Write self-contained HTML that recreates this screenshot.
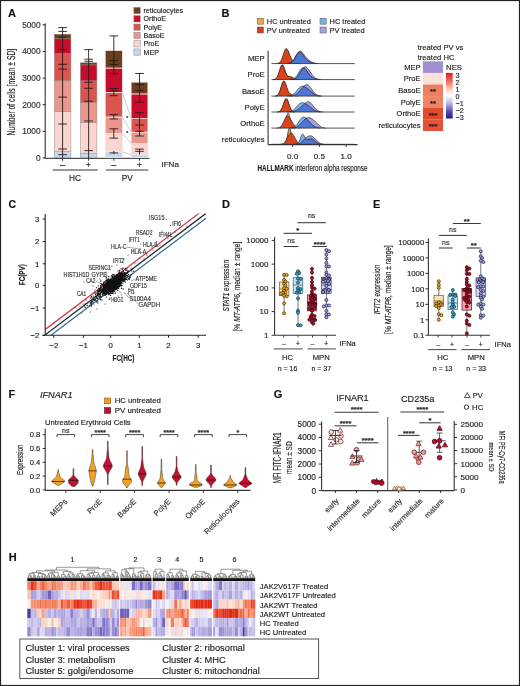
<!DOCTYPE html>
<html><head><meta charset="utf-8"><style>
html,body{margin:0;padding:0;background:#fff;}
body{width:520px;height:686px;overflow:hidden;}
svg{display:block;font-family:"Liberation Sans", sans-serif;}
text{stroke:currentColor;stroke-width:0.14px;paint-order:stroke;}
</style></head><body>
<svg width="520" height="686" viewBox="0 0 520 686">
<rect x="0" y="0" width="520" height="686" fill="#fff"/>
<text x="8.00" y="16.76" font-size="11" fill="#111" font-weight="bold" >A</text>
<line x1="45.20" y1="23.30" x2="45.20" y2="158.30" stroke="#222" stroke-width="1" />
<line x1="42.70" y1="158.00" x2="45.20" y2="158.00" stroke="#222" stroke-width="1" />
<text x="40.60" y="160.99" font-size="8.3" fill="#333" text-anchor="end" >0</text>
<line x1="42.70" y1="131.36" x2="45.20" y2="131.36" stroke="#222" stroke-width="1" />
<text x="40.60" y="134.35" font-size="8.3" fill="#333" text-anchor="end" >1000</text>
<line x1="42.70" y1="104.72" x2="45.20" y2="104.72" stroke="#222" stroke-width="1" />
<text x="40.60" y="107.71" font-size="8.3" fill="#333" text-anchor="end" >2000</text>
<line x1="42.70" y1="78.08" x2="45.20" y2="78.08" stroke="#222" stroke-width="1" />
<text x="40.60" y="81.07" font-size="8.3" fill="#333" text-anchor="end" >3000</text>
<line x1="42.70" y1="51.44" x2="45.20" y2="51.44" stroke="#222" stroke-width="1" />
<text x="40.60" y="54.43" font-size="8.3" fill="#333" text-anchor="end" >4000</text>
<line x1="42.70" y1="24.80" x2="45.20" y2="24.80" stroke="#222" stroke-width="1" />
<text x="40.60" y="27.79" font-size="8.3" fill="#333" text-anchor="end" >5000</text>
<text x="11.65" y="95.75" font-size="10" fill="#222" text-anchor="middle" textLength="86.7" lengthAdjust="spacingAndGlyphs" transform="rotate(-90 11.65 92.15)" >Number of cells [mean ± SD]</text>
<line x1="45.20" y1="158.30" x2="149.50" y2="158.30" stroke="#222" stroke-width="1" />
<rect x="54.30" y="151.60" width="16.60" height="6.00" fill="#c2d8ee" stroke="#9a8a88" stroke-width="0.5" />
<rect x="54.30" y="111.40" width="16.60" height="40.20" fill="#f8d6cf" stroke="#9a8a88" stroke-width="0.5" />
<rect x="54.30" y="80.60" width="16.60" height="30.80" fill="#e9968c" stroke="#9a8a88" stroke-width="0.5" />
<rect x="54.30" y="53.60" width="16.60" height="27.00" fill="#db5550" stroke="#9a8a88" stroke-width="0.5" />
<rect x="54.30" y="38.80" width="16.60" height="14.80" fill="#c90c2c" stroke="#9a8a88" stroke-width="0.5" />
<rect x="54.30" y="34.20" width="16.60" height="4.60" fill="#6b3f1c" stroke="#9a8a88" stroke-width="0.5" />
<line x1="62.60" y1="27.60" x2="62.60" y2="158.00" stroke="#2a1a1a" stroke-width="0.9" />
<line x1="58.30" y1="27.60" x2="66.90" y2="27.60" stroke="#2a1a1a" stroke-width="0.9" />
<line x1="58.30" y1="31.40" x2="66.90" y2="31.40" stroke="#2a1a1a" stroke-width="0.9" />
<line x1="58.30" y1="37.30" x2="66.90" y2="37.30" stroke="#2a1a1a" stroke-width="0.9" />
<line x1="58.30" y1="49.60" x2="66.90" y2="49.60" stroke="#2a1a1a" stroke-width="0.9" />
<line x1="58.30" y1="64.30" x2="66.90" y2="64.30" stroke="#2a1a1a" stroke-width="0.9" />
<line x1="58.30" y1="69.10" x2="66.90" y2="69.10" stroke="#2a1a1a" stroke-width="0.9" />
<line x1="58.30" y1="97.10" x2="66.90" y2="97.10" stroke="#2a1a1a" stroke-width="0.9" />
<line x1="58.30" y1="124.00" x2="66.90" y2="124.00" stroke="#2a1a1a" stroke-width="0.9" />
<line x1="58.30" y1="149.00" x2="66.90" y2="149.00" stroke="#2a1a1a" stroke-width="0.9" />
<line x1="58.30" y1="154.70" x2="66.90" y2="154.70" stroke="#2a1a1a" stroke-width="0.9" />
<line x1="62.60" y1="158.30" x2="62.60" y2="160.80" stroke="#222" stroke-width="0.9" />
<rect x="80.40" y="153.70" width="16.50" height="3.90" fill="#c2d8ee" stroke="#9a8a88" stroke-width="0.5" />
<rect x="80.40" y="122.40" width="16.50" height="31.30" fill="#f8d6cf" stroke="#9a8a88" stroke-width="0.5" />
<rect x="80.40" y="102.70" width="16.50" height="19.70" fill="#e9968c" stroke="#9a8a88" stroke-width="0.5" />
<rect x="80.40" y="80.80" width="16.50" height="21.90" fill="#db5550" stroke="#9a8a88" stroke-width="0.5" />
<rect x="80.40" y="64.90" width="16.50" height="15.90" fill="#c90c2c" stroke="#9a8a88" stroke-width="0.5" />
<rect x="80.40" y="62.80" width="16.50" height="2.10" fill="#6b3f1c" stroke="#9a8a88" stroke-width="0.5" />
<line x1="88.65" y1="49.60" x2="88.65" y2="158.00" stroke="#2a1a1a" stroke-width="0.9" />
<line x1="84.35" y1="49.60" x2="92.95" y2="49.60" stroke="#2a1a1a" stroke-width="0.9" />
<line x1="84.35" y1="59.20" x2="92.95" y2="59.20" stroke="#2a1a1a" stroke-width="0.9" />
<line x1="84.35" y1="61.30" x2="92.95" y2="61.30" stroke="#2a1a1a" stroke-width="0.9" />
<line x1="84.35" y1="82.20" x2="92.95" y2="82.20" stroke="#2a1a1a" stroke-width="0.9" />
<line x1="84.35" y1="88.30" x2="92.95" y2="88.30" stroke="#2a1a1a" stroke-width="0.9" />
<line x1="84.35" y1="101.20" x2="92.95" y2="101.20" stroke="#2a1a1a" stroke-width="0.9" />
<line x1="84.35" y1="121.00" x2="92.95" y2="121.00" stroke="#2a1a1a" stroke-width="0.9" />
<line x1="84.35" y1="150.60" x2="92.95" y2="150.60" stroke="#2a1a1a" stroke-width="0.9" />
<line x1="88.65" y1="158.30" x2="88.65" y2="160.80" stroke="#222" stroke-width="0.9" />
<rect x="105.20" y="151.90" width="17.20" height="5.70" fill="#c2d8ee" stroke="#f4e8e8" stroke-width="0.8" />
<rect x="105.20" y="133.50" width="17.20" height="18.40" fill="#f8d6cf" stroke="#f4e8e8" stroke-width="0.8" />
<rect x="105.20" y="117.00" width="17.20" height="16.50" fill="#e9968c" stroke="#f4e8e8" stroke-width="0.8" />
<rect x="105.20" y="92.40" width="17.20" height="24.60" fill="#db5550" stroke="#f4e8e8" stroke-width="0.8" />
<rect x="105.20" y="68.00" width="17.20" height="24.40" fill="#c90c2c" stroke="#f4e8e8" stroke-width="0.8" />
<rect x="105.20" y="50.50" width="17.20" height="17.50" fill="#6b3f1c" stroke="#f4e8e8" stroke-width="0.8" />
<line x1="113.80" y1="35.90" x2="113.80" y2="64.60" stroke="#2a1a1a" stroke-width="0.9" />
<line x1="113.80" y1="60.60" x2="113.80" y2="73.70" stroke="#2a1a1a" stroke-width="0.9" />
<line x1="113.80" y1="88.50" x2="113.80" y2="95.70" stroke="#2a1a1a" stroke-width="0.9" />
<line x1="113.80" y1="114.60" x2="113.80" y2="119.00" stroke="#2a1a1a" stroke-width="0.9" />
<line x1="113.80" y1="128.80" x2="113.80" y2="138.10" stroke="#2a1a1a" stroke-width="0.9" />
<line x1="113.80" y1="151.00" x2="113.80" y2="154.00" stroke="#2a1a1a" stroke-width="0.9" />
<line x1="109.50" y1="35.90" x2="118.10" y2="35.90" stroke="#2a1a1a" stroke-width="0.9" />
<line x1="109.50" y1="60.60" x2="118.10" y2="60.60" stroke="#2a1a1a" stroke-width="0.9" />
<line x1="109.50" y1="64.60" x2="118.10" y2="64.60" stroke="#2a1a1a" stroke-width="0.9" />
<line x1="109.50" y1="73.70" x2="118.10" y2="73.70" stroke="#2a1a1a" stroke-width="0.9" />
<line x1="109.50" y1="88.50" x2="118.10" y2="88.50" stroke="#2a1a1a" stroke-width="0.9" />
<line x1="109.50" y1="91.20" x2="118.10" y2="91.20" stroke="#2a1a1a" stroke-width="0.9" />
<line x1="109.50" y1="95.70" x2="118.10" y2="95.70" stroke="#2a1a1a" stroke-width="0.9" />
<line x1="109.50" y1="114.60" x2="118.10" y2="114.60" stroke="#2a1a1a" stroke-width="0.9" />
<line x1="109.50" y1="119.00" x2="118.10" y2="119.00" stroke="#2a1a1a" stroke-width="0.9" />
<line x1="109.50" y1="128.80" x2="118.10" y2="128.80" stroke="#2a1a1a" stroke-width="0.9" />
<line x1="109.50" y1="138.10" x2="118.10" y2="138.10" stroke="#2a1a1a" stroke-width="0.9" />
<line x1="109.50" y1="152.90" x2="118.10" y2="152.90" stroke="#2a1a1a" stroke-width="0.9" />
<line x1="113.80" y1="158.30" x2="113.80" y2="160.80" stroke="#222" stroke-width="0.9" />
<rect x="131.10" y="154.50" width="16.80" height="3.10" fill="#c2d8ee" stroke="#f4e8e8" stroke-width="0.8" />
<rect x="131.10" y="143.60" width="16.80" height="10.90" fill="#f8d6cf" stroke="#f4e8e8" stroke-width="0.8" />
<rect x="131.10" y="132.10" width="16.80" height="11.50" fill="#e9968c" stroke="#f4e8e8" stroke-width="0.8" />
<rect x="131.10" y="118.60" width="16.80" height="13.50" fill="#db5550" stroke="#f4e8e8" stroke-width="0.8" />
<rect x="131.10" y="93.90" width="16.80" height="24.70" fill="#c90c2c" stroke="#f4e8e8" stroke-width="0.8" />
<rect x="131.10" y="82.10" width="16.80" height="11.80" fill="#6b3f1c" stroke="#f4e8e8" stroke-width="0.8" />
<line x1="139.50" y1="73.50" x2="139.50" y2="102.20" stroke="#2a1a1a" stroke-width="0.9" />
<line x1="139.50" y1="112.70" x2="139.50" y2="125.00" stroke="#2a1a1a" stroke-width="0.9" />
<line x1="139.50" y1="125.00" x2="139.50" y2="136.00" stroke="#2a1a1a" stroke-width="0.9" />
<line x1="139.50" y1="149.10" x2="139.50" y2="154.50" stroke="#2a1a1a" stroke-width="0.9" />
<line x1="135.20" y1="73.50" x2="143.80" y2="73.50" stroke="#2a1a1a" stroke-width="0.9" />
<line x1="135.20" y1="84.70" x2="143.80" y2="84.70" stroke="#2a1a1a" stroke-width="0.9" />
<line x1="135.20" y1="90.40" x2="143.80" y2="90.40" stroke="#2a1a1a" stroke-width="0.9" />
<line x1="135.20" y1="102.20" x2="143.80" y2="102.20" stroke="#2a1a1a" stroke-width="0.9" />
<line x1="135.20" y1="112.70" x2="143.80" y2="112.70" stroke="#2a1a1a" stroke-width="0.9" />
<line x1="135.20" y1="125.00" x2="143.80" y2="125.00" stroke="#2a1a1a" stroke-width="0.9" />
<line x1="135.20" y1="131.40" x2="143.80" y2="131.40" stroke="#2a1a1a" stroke-width="0.9" />
<line x1="135.20" y1="136.00" x2="143.80" y2="136.00" stroke="#2a1a1a" stroke-width="0.9" />
<line x1="135.20" y1="149.10" x2="143.80" y2="149.10" stroke="#2a1a1a" stroke-width="0.9" />
<line x1="135.20" y1="151.30" x2="143.80" y2="151.30" stroke="#2a1a1a" stroke-width="0.9" />
<line x1="139.50" y1="158.30" x2="139.50" y2="160.80" stroke="#222" stroke-width="0.9" />
<line x1="122.40" y1="151.90" x2="131.10" y2="154.50" stroke="#aaa" stroke-width="0.6" />
<line x1="122.40" y1="133.50" x2="131.10" y2="143.60" stroke="#aaa" stroke-width="0.6" />
<line x1="122.40" y1="117.00" x2="131.10" y2="132.10" stroke="#aaa" stroke-width="0.6" />
<line x1="122.40" y1="92.40" x2="131.10" y2="118.60" stroke="#aaa" stroke-width="0.6" />
<text x="127.20" y="119.66" font-size="6" fill="#222" text-anchor="middle" >*</text>
<text x="127.20" y="135.36" font-size="6" fill="#222" text-anchor="middle" >*</text>
<text x="62.45" y="167.57" font-size="8.8" fill="#222" text-anchor="middle" >–</text>
<text x="88.35" y="167.57" font-size="8.8" fill="#222" text-anchor="middle" >+</text>
<text x="113.80" y="167.57" font-size="8.8" fill="#222" text-anchor="middle" >–</text>
<text x="139.40" y="167.57" font-size="8.8" fill="#222" text-anchor="middle" >+</text>
<text x="161.50" y="167.38" font-size="8" fill="#222" >IFNa</text>
<line x1="52.50" y1="170.00" x2="97.70" y2="170.00" stroke="#777" stroke-width="1.4" />
<line x1="106.00" y1="170.00" x2="148.30" y2="170.00" stroke="#777" stroke-width="1.4" />
<text x="75.10" y="181.19" font-size="8.3" fill="#222" text-anchor="middle" >HC</text>
<text x="127.20" y="181.19" font-size="8.3" fill="#222" text-anchor="middle" >PV</text>
<rect x="133.90" y="7.40" width="6.30" height="6.30" fill="#6b3f1c" stroke="#888" stroke-width="0.5" />
<text x="143.50" y="13.16" font-size="7.1" fill="#222" >reticulocytes</text>
<rect x="133.90" y="15.70" width="6.30" height="6.30" fill="#c90c2c" stroke="#888" stroke-width="0.5" />
<text x="143.50" y="21.46" font-size="7.1" fill="#222" >OrthoE</text>
<rect x="133.90" y="24.00" width="6.30" height="6.30" fill="#db5550" stroke="#888" stroke-width="0.5" />
<text x="143.50" y="29.76" font-size="7.1" fill="#222" >PolyE</text>
<rect x="133.90" y="32.30" width="6.30" height="6.30" fill="#e9968c" stroke="#888" stroke-width="0.5" />
<text x="143.50" y="38.06" font-size="7.1" fill="#222" >BasoE</text>
<rect x="133.90" y="40.60" width="6.30" height="6.30" fill="#f8d6cf" stroke="#888" stroke-width="0.5" />
<text x="143.50" y="46.36" font-size="7.1" fill="#222" >ProE</text>
<rect x="133.90" y="48.90" width="6.30" height="6.30" fill="#c2d8ee" stroke="#888" stroke-width="0.5" />
<text x="143.50" y="54.66" font-size="7.1" fill="#222" >MEP</text>
<text x="221.50" y="17.26" font-size="11" fill="#111" font-weight="bold" >B</text>
<rect x="257.20" y="18.20" width="6.20" height="6.00" fill="#f4a348" stroke="#555" stroke-width="0.5" />
<text x="266.80" y="23.86" font-size="7.4" fill="#222" >HC untreated</text>
<rect x="257.20" y="27.00" width="6.20" height="6.00" fill="#d2401e" stroke="#555" stroke-width="0.5" />
<text x="266.80" y="32.66" font-size="7.4" fill="#222" >PV untreated</text>
<rect x="320.00" y="18.20" width="6.20" height="6.00" fill="#72b2ea" stroke="#555" stroke-width="0.5" />
<text x="329.60" y="23.86" font-size="7.4" fill="#222" >HC treated</text>
<rect x="320.00" y="27.00" width="6.20" height="6.00" fill="#a3a3e0" stroke="#555" stroke-width="0.5" />
<text x="329.60" y="32.66" font-size="7.4" fill="#222" >PV treated</text>
<path d="M278.00,63.60 L278.00,63.56 L278.50,63.52 L279.00,63.45 L279.50,63.34 L280.00,63.16 L280.50,62.88 L281.00,62.48 L281.50,61.91 L282.00,61.14 L282.50,60.16 L283.00,58.96 L283.50,57.57 L284.00,56.04 L284.50,54.47 L285.00,52.98 L285.50,51.69 L286.00,50.72 L286.50,50.19 L287.00,50.14 L287.50,50.58 L288.00,51.46 L288.50,52.70 L289.00,54.16 L289.50,55.73 L290.00,57.27 L290.50,58.70 L291.00,59.94 L291.50,60.97 L292.00,61.77 L292.50,62.38 L293.00,62.81 L293.50,63.11 L294.00,63.31 L294.50,63.43 L295.00,63.51 L295.50,63.55 L295.50,63.60 Z" fill="#f4a348" />
<path d="M278.00,63.56 L278.50,63.52 L279.00,63.45 L279.50,63.34 L280.00,63.16 L280.50,62.88 L281.00,62.48 L281.50,61.91 L282.00,61.14 L282.50,60.16 L283.00,58.96 L283.50,57.57 L284.00,56.04 L284.50,54.47 L285.00,52.98 L285.50,51.69 L286.00,50.72 L286.50,50.19 L287.00,50.14 L287.50,50.58 L288.00,51.46 L288.50,52.70 L289.00,54.16 L289.50,55.73 L290.00,57.27 L290.50,58.70 L291.00,59.94 L291.50,60.97 L292.00,61.77 L292.50,62.38 L293.00,62.81 L293.50,63.11 L294.00,63.31 L294.50,63.43 L295.00,63.51 L295.50,63.55" fill="none" stroke="#222" stroke-width="0.7"/>
<path d="M276.50,63.60 L276.50,63.54 L277.00,63.50 L277.50,63.43 L278.00,63.32 L278.50,63.16 L279.00,62.91 L279.50,62.56 L280.00,62.07 L280.50,61.43 L281.00,60.59 L281.50,59.57 L282.00,58.34 L282.50,56.95 L283.00,55.43 L283.50,53.86 L284.00,52.33 L284.50,50.93 L285.00,49.76 L285.50,48.92 L286.00,48.46 L286.50,48.41 L287.00,48.76 L287.50,49.48 L288.00,50.48 L288.50,51.67 L289.00,52.98 L289.50,54.30 L290.00,55.57 L290.50,56.76 L291.00,57.83 L291.50,58.78 L292.00,59.61 L292.50,60.34 L293.00,60.97 L293.50,61.52 L294.00,61.98 L294.50,62.38 L295.00,62.70 L295.50,62.96 L296.00,63.15 L296.50,63.30 L297.00,63.41 L297.50,63.48 L298.00,63.53 L298.00,63.60 Z" fill="#d63c1c" fill-opacity="0.92"/>
<path d="M276.50,63.54 L277.00,63.50 L277.50,63.43 L278.00,63.32 L278.50,63.16 L279.00,62.91 L279.50,62.56 L280.00,62.07 L280.50,61.43 L281.00,60.59 L281.50,59.57 L282.00,58.34 L282.50,56.95 L283.00,55.43 L283.50,53.86 L284.00,52.33 L284.50,50.93 L285.00,49.76 L285.50,48.92 L286.00,48.46 L286.50,48.41 L287.00,48.76 L287.50,49.48 L288.00,50.48 L288.50,51.67 L289.00,52.98 L289.50,54.30 L290.00,55.57 L290.50,56.76 L291.00,57.83 L291.50,58.78 L292.00,59.61 L292.50,60.34 L293.00,60.97 L293.50,61.52 L294.00,61.98 L294.50,62.38 L295.00,62.70 L295.50,62.96 L296.00,63.15 L296.50,63.30 L297.00,63.41 L297.50,63.48 L298.00,63.53" fill="none" stroke="#222" stroke-width="0.7"/>
<path d="M287.50,63.60 L287.50,63.52 L288.00,63.48 L288.50,63.42 L289.00,63.34 L289.50,63.22 L290.00,63.07 L290.50,62.86 L291.00,62.59 L291.50,62.24 L292.00,61.82 L292.50,61.30 L293.00,60.69 L293.50,59.99 L294.00,59.20 L294.50,58.34 L295.00,57.43 L295.50,56.49 L296.00,55.56 L296.50,54.67 L297.00,53.86 L297.50,53.16 L298.00,52.60 L298.50,52.20 L299.00,51.98 L299.50,51.94 L300.00,52.07 L300.50,52.35 L301.00,52.77 L301.50,53.29 L302.00,53.88 L302.50,54.53 L303.00,55.19 L303.50,55.86 L304.00,56.51 L304.50,57.13 L305.00,57.72 L305.50,58.27 L306.00,58.79 L306.50,59.27 L307.00,59.73 L307.50,60.15 L308.00,60.56 L308.50,60.93 L309.00,61.29 L309.50,61.61 L310.00,61.91 L310.50,62.19 L311.00,62.43 L311.50,62.64 L312.00,62.83 L312.50,62.99 L313.00,63.12 L313.50,63.23 L314.00,63.32 L314.50,63.39 L315.00,63.45 L315.50,63.49 L316.00,63.52 L316.00,63.60 Z" fill="#7ab8ee" />
<path d="M287.50,63.52 L288.00,63.48 L288.50,63.42 L289.00,63.34 L289.50,63.22 L290.00,63.07 L290.50,62.86 L291.00,62.59 L291.50,62.24 L292.00,61.82 L292.50,61.30 L293.00,60.69 L293.50,59.99 L294.00,59.20 L294.50,58.34 L295.00,57.43 L295.50,56.49 L296.00,55.56 L296.50,54.67 L297.00,53.86 L297.50,53.16 L298.00,52.60 L298.50,52.20 L299.00,51.98 L299.50,51.94 L300.00,52.07 L300.50,52.35 L301.00,52.77 L301.50,53.29 L302.00,53.88 L302.50,54.53 L303.00,55.19 L303.50,55.86 L304.00,56.51 L304.50,57.13 L305.00,57.72 L305.50,58.27 L306.00,58.79 L306.50,59.27 L307.00,59.73 L307.50,60.15 L308.00,60.56 L308.50,60.93 L309.00,61.29 L309.50,61.61 L310.00,61.91 L310.50,62.19 L311.00,62.43 L311.50,62.64 L312.00,62.83 L312.50,62.99 L313.00,63.12 L313.50,63.23 L314.00,63.32 L314.50,63.39 L315.00,63.45 L315.50,63.49 L316.00,63.52" fill="none" stroke="#222" stroke-width="0.7"/>
<path d="M287.50,63.60 L287.50,63.53 L288.00,63.49 L288.50,63.44 L289.00,63.37 L289.50,63.27 L290.00,63.14 L290.50,62.97 L291.00,62.74 L291.50,62.45 L292.00,62.08 L292.50,61.64 L293.00,61.11 L293.50,60.49 L294.00,59.79 L294.50,59.00 L295.00,58.14 L295.50,57.22 L296.00,56.28 L296.50,55.34 L297.00,54.42 L297.50,53.57 L298.00,52.81 L298.50,52.18 L299.00,51.69 L299.50,51.37 L300.00,51.22 L300.50,51.25 L301.00,51.43 L301.50,51.77 L302.00,52.23 L302.50,52.79 L303.00,53.43 L303.50,54.10 L304.00,54.80 L304.50,55.50 L305.00,56.18 L305.50,56.83 L306.00,57.44 L306.50,58.01 L307.00,58.53 L307.50,59.02 L308.00,59.47 L308.50,59.89 L309.00,60.28 L309.50,60.64 L310.00,60.98 L310.50,61.30 L311.00,61.59 L311.50,61.86 L312.00,62.11 L312.50,62.33 L313.00,62.53 L313.50,62.71 L314.00,62.87 L314.50,63.01 L315.00,63.12 L315.50,63.22 L316.00,63.30 L316.50,63.37 L317.00,63.42 L317.50,63.47 L318.00,63.50 L318.50,63.53 L318.50,63.60 Z" fill="#a3a3e0" style="mix-blend-mode:multiply"/>
<path d="M287.50,63.53 L288.00,63.49 L288.50,63.44 L289.00,63.37 L289.50,63.27 L290.00,63.14 L290.50,62.97 L291.00,62.74 L291.50,62.45 L292.00,62.08 L292.50,61.64 L293.00,61.11 L293.50,60.49 L294.00,59.79 L294.50,59.00 L295.00,58.14 L295.50,57.22 L296.00,56.28 L296.50,55.34 L297.00,54.42 L297.50,53.57 L298.00,52.81 L298.50,52.18 L299.00,51.69 L299.50,51.37 L300.00,51.22 L300.50,51.25 L301.00,51.43 L301.50,51.77 L302.00,52.23 L302.50,52.79 L303.00,53.43 L303.50,54.10 L304.00,54.80 L304.50,55.50 L305.00,56.18 L305.50,56.83 L306.00,57.44 L306.50,58.01 L307.00,58.53 L307.50,59.02 L308.00,59.47 L308.50,59.89 L309.00,60.28 L309.50,60.64 L310.00,60.98 L310.50,61.30 L311.00,61.59 L311.50,61.86 L312.00,62.11 L312.50,62.33 L313.00,62.53 L313.50,62.71 L314.00,62.87 L314.50,63.01 L315.00,63.12 L315.50,63.22 L316.00,63.30 L316.50,63.37 L317.00,63.42 L317.50,63.47 L318.00,63.50 L318.50,63.53" fill="none" stroke="#222" stroke-width="0.7"/>
<line x1="271.50" y1="63.60" x2="354.60" y2="63.60" stroke="#2a2a2a" stroke-width="0.8" />
<text x="264.60" y="61.47" font-size="7.7" fill="#222" text-anchor="end" >MEP</text>
<path d="M274.00,79.60 L274.00,79.55 L274.50,79.50 L275.00,79.41 L275.50,79.27 L276.00,79.04 L276.50,78.69 L277.00,78.16 L277.50,77.43 L278.00,76.45 L278.50,75.22 L279.00,73.73 L279.50,72.05 L280.00,70.26 L280.50,68.51 L281.00,66.94 L281.50,65.71 L282.00,64.96 L282.50,64.76 L283.00,65.14 L283.50,66.03 L284.00,67.32 L284.50,68.86 L285.00,70.49 L285.50,72.04 L286.00,73.41 L286.50,74.53 L287.00,75.36 L287.50,75.94 L288.00,76.31 L288.50,76.54 L289.00,76.70 L289.50,76.84 L290.00,77.00 L290.50,77.21 L291.00,77.47 L291.50,77.76 L292.00,78.07 L292.50,78.38 L293.00,78.66 L293.50,78.90 L294.00,79.10 L294.50,79.26 L295.00,79.38 L295.50,79.46 L296.00,79.51 L296.50,79.55 L296.50,79.60 Z" fill="#f4a348" />
<path d="M274.00,79.55 L274.50,79.50 L275.00,79.41 L275.50,79.27 L276.00,79.04 L276.50,78.69 L277.00,78.16 L277.50,77.43 L278.00,76.45 L278.50,75.22 L279.00,73.73 L279.50,72.05 L280.00,70.26 L280.50,68.51 L281.00,66.94 L281.50,65.71 L282.00,64.96 L282.50,64.76 L283.00,65.14 L283.50,66.03 L284.00,67.32 L284.50,68.86 L285.00,70.49 L285.50,72.04 L286.00,73.41 L286.50,74.53 L287.00,75.36 L287.50,75.94 L288.00,76.31 L288.50,76.54 L289.00,76.70 L289.50,76.84 L290.00,77.00 L290.50,77.21 L291.00,77.47 L291.50,77.76 L292.00,78.07 L292.50,78.38 L293.00,78.66 L293.50,78.90 L294.00,79.10 L294.50,79.26 L295.00,79.38 L295.50,79.46 L296.00,79.51 L296.50,79.55" fill="none" stroke="#222" stroke-width="0.7"/>
<path d="M273.00,79.60 L273.00,79.54 L273.50,79.50 L274.00,79.42 L274.50,79.30 L275.00,79.10 L275.50,78.81 L276.00,78.38 L276.50,77.79 L277.00,77.01 L277.50,76.01 L278.00,74.79 L278.50,73.38 L279.00,71.83 L279.50,70.21 L280.00,68.64 L280.50,67.24 L281.00,66.12 L281.50,65.39 L282.00,65.11 L282.50,65.31 L283.00,65.96 L283.50,66.97 L284.00,68.25 L284.50,69.66 L285.00,71.08 L285.50,72.41 L286.00,73.56 L286.50,74.49 L287.00,75.19 L287.50,75.67 L288.00,75.98 L288.50,76.16 L289.00,76.26 L289.50,76.34 L290.00,76.42 L290.50,76.54 L291.00,76.71 L291.50,76.92 L292.00,77.18 L292.50,77.47 L293.00,77.78 L293.50,78.08 L294.00,78.37 L294.50,78.63 L295.00,78.85 L295.50,79.04 L296.00,79.19 L296.50,79.31 L297.00,79.40 L297.50,79.47 L298.00,79.51 L298.50,79.55 L298.50,79.60 Z" fill="#d63c1c" fill-opacity="0.92"/>
<path d="M273.00,79.54 L273.50,79.50 L274.00,79.42 L274.50,79.30 L275.00,79.10 L275.50,78.81 L276.00,78.38 L276.50,77.79 L277.00,77.01 L277.50,76.01 L278.00,74.79 L278.50,73.38 L279.00,71.83 L279.50,70.21 L280.00,68.64 L280.50,67.24 L281.00,66.12 L281.50,65.39 L282.00,65.11 L282.50,65.31 L283.00,65.96 L283.50,66.97 L284.00,68.25 L284.50,69.66 L285.00,71.08 L285.50,72.41 L286.00,73.56 L286.50,74.49 L287.00,75.19 L287.50,75.67 L288.00,75.98 L288.50,76.16 L289.00,76.26 L289.50,76.34 L290.00,76.42 L290.50,76.54 L291.00,76.71 L291.50,76.92 L292.00,77.18 L292.50,77.47 L293.00,77.78 L293.50,78.08 L294.00,78.37 L294.50,78.63 L295.00,78.85 L295.50,79.04 L296.00,79.19 L296.50,79.31 L297.00,79.40 L297.50,79.47 L298.00,79.51 L298.50,79.55" fill="none" stroke="#222" stroke-width="0.7"/>
<path d="M290.00,79.60 L290.00,79.52 L290.50,79.48 L291.00,79.43 L291.50,79.36 L292.00,79.26 L292.50,79.14 L293.00,78.97 L293.50,78.76 L294.00,78.50 L294.50,78.17 L295.00,77.77 L295.50,77.31 L296.00,76.76 L296.50,76.14 L297.00,75.45 L297.50,74.70 L298.00,73.89 L298.50,73.05 L299.00,72.20 L299.50,71.36 L300.00,70.56 L300.50,69.82 L301.00,69.16 L301.50,68.62 L302.00,68.21 L302.50,67.93 L303.00,67.81 L303.50,67.83 L304.00,67.99 L304.50,68.29 L305.00,68.70 L305.50,69.21 L306.00,69.79 L306.50,70.44 L307.00,71.12 L307.50,71.82 L308.00,72.52 L308.50,73.21 L309.00,73.89 L309.50,74.53 L310.00,75.14 L310.50,75.71 L311.00,76.24 L311.50,76.72 L312.00,77.15 L312.50,77.55 L313.00,77.89 L313.50,78.19 L314.00,78.46 L314.50,78.68 L315.00,78.87 L315.50,79.03 L316.00,79.16 L316.50,79.26 L317.00,79.35 L317.50,79.41 L318.00,79.46 L318.50,79.50 L319.00,79.53 L319.00,79.60 Z" fill="#7ab8ee" />
<path d="M290.00,79.52 L290.50,79.48 L291.00,79.43 L291.50,79.36 L292.00,79.26 L292.50,79.14 L293.00,78.97 L293.50,78.76 L294.00,78.50 L294.50,78.17 L295.00,77.77 L295.50,77.31 L296.00,76.76 L296.50,76.14 L297.00,75.45 L297.50,74.70 L298.00,73.89 L298.50,73.05 L299.00,72.20 L299.50,71.36 L300.00,70.56 L300.50,69.82 L301.00,69.16 L301.50,68.62 L302.00,68.21 L302.50,67.93 L303.00,67.81 L303.50,67.83 L304.00,67.99 L304.50,68.29 L305.00,68.70 L305.50,69.21 L306.00,69.79 L306.50,70.44 L307.00,71.12 L307.50,71.82 L308.00,72.52 L308.50,73.21 L309.00,73.89 L309.50,74.53 L310.00,75.14 L310.50,75.71 L311.00,76.24 L311.50,76.72 L312.00,77.15 L312.50,77.55 L313.00,77.89 L313.50,78.19 L314.00,78.46 L314.50,78.68 L315.00,78.87 L315.50,79.03 L316.00,79.16 L316.50,79.26 L317.00,79.35 L317.50,79.41 L318.00,79.46 L318.50,79.50 L319.00,79.53" fill="none" stroke="#222" stroke-width="0.7"/>
<path d="M291.00,79.60 L291.00,79.53 L291.50,79.50 L292.00,79.46 L292.50,79.41 L293.00,79.33 L293.50,79.23 L294.00,79.09 L294.50,78.92 L295.00,78.71 L295.50,78.44 L296.00,78.11 L296.50,77.72 L297.00,77.25 L297.50,76.71 L298.00,76.09 L298.50,75.41 L299.00,74.65 L299.50,73.84 L300.00,72.99 L300.50,72.11 L301.00,71.23 L301.50,70.38 L302.00,69.56 L302.50,68.82 L303.00,68.16 L303.50,67.62 L304.00,67.21 L304.50,66.93 L305.00,66.81 L305.50,66.83 L306.00,66.99 L306.50,67.29 L307.00,67.70 L307.50,68.22 L308.00,68.83 L308.50,69.50 L309.00,70.21 L309.50,70.96 L310.00,71.72 L310.50,72.48 L311.00,73.22 L311.50,73.94 L312.00,74.62 L312.50,75.26 L313.00,75.85 L313.50,76.40 L314.00,76.89 L314.50,77.33 L315.00,77.72 L315.50,78.06 L316.00,78.36 L316.50,78.60 L317.00,78.81 L317.50,78.99 L318.00,79.13 L318.50,79.24 L319.00,79.33 L319.50,79.40 L320.00,79.46 L320.50,79.50 L321.00,79.53 L321.00,79.60 Z" fill="#a3a3e0" style="mix-blend-mode:multiply"/>
<path d="M291.00,79.53 L291.50,79.50 L292.00,79.46 L292.50,79.41 L293.00,79.33 L293.50,79.23 L294.00,79.09 L294.50,78.92 L295.00,78.71 L295.50,78.44 L296.00,78.11 L296.50,77.72 L297.00,77.25 L297.50,76.71 L298.00,76.09 L298.50,75.41 L299.00,74.65 L299.50,73.84 L300.00,72.99 L300.50,72.11 L301.00,71.23 L301.50,70.38 L302.00,69.56 L302.50,68.82 L303.00,68.16 L303.50,67.62 L304.00,67.21 L304.50,66.93 L305.00,66.81 L305.50,66.83 L306.00,66.99 L306.50,67.29 L307.00,67.70 L307.50,68.22 L308.00,68.83 L308.50,69.50 L309.00,70.21 L309.50,70.96 L310.00,71.72 L310.50,72.48 L311.00,73.22 L311.50,73.94 L312.00,74.62 L312.50,75.26 L313.00,75.85 L313.50,76.40 L314.00,76.89 L314.50,77.33 L315.00,77.72 L315.50,78.06 L316.00,78.36 L316.50,78.60 L317.00,78.81 L317.50,78.99 L318.00,79.13 L318.50,79.24 L319.00,79.33 L319.50,79.40 L320.00,79.46 L320.50,79.50 L321.00,79.53" fill="none" stroke="#222" stroke-width="0.7"/>
<line x1="271.50" y1="79.60" x2="354.60" y2="79.60" stroke="#2a2a2a" stroke-width="0.8" />
<text x="264.60" y="77.47" font-size="7.7" fill="#222" text-anchor="end" >ProE</text>
<path d="M275.00,96.10 L275.00,96.05 L275.50,96.01 L276.00,95.94 L276.50,95.82 L277.00,95.63 L277.50,95.33 L278.00,94.90 L278.50,94.28 L279.00,93.46 L279.50,92.41 L280.00,91.12 L280.50,89.62 L281.00,87.98 L281.50,86.30 L282.00,84.69 L282.50,83.30 L283.00,82.27 L283.50,81.70 L284.00,81.64 L284.50,82.12 L285.00,83.06 L285.50,84.39 L286.00,85.96 L286.50,87.64 L287.00,89.30 L287.50,90.83 L288.00,92.17 L288.50,93.27 L289.00,94.14 L289.50,94.79 L290.00,95.26 L290.50,95.58 L291.00,95.79 L291.50,95.92 L292.00,96.00 L292.50,96.05 L292.50,96.10 Z" fill="#f4a348" />
<path d="M275.00,96.05 L275.50,96.01 L276.00,95.94 L276.50,95.82 L277.00,95.63 L277.50,95.33 L278.00,94.90 L278.50,94.28 L279.00,93.46 L279.50,92.41 L280.00,91.12 L280.50,89.62 L281.00,87.98 L281.50,86.30 L282.00,84.69 L282.50,83.30 L283.00,82.27 L283.50,81.70 L284.00,81.64 L284.50,82.12 L285.00,83.06 L285.50,84.39 L286.00,85.96 L286.50,87.64 L287.00,89.30 L287.50,90.83 L288.00,92.17 L288.50,93.27 L289.00,94.14 L289.50,94.79 L290.00,95.26 L290.50,95.58 L291.00,95.79 L291.50,95.92 L292.00,96.00 L292.50,96.05" fill="none" stroke="#222" stroke-width="0.7"/>
<path d="M275.00,96.10 L275.00,96.03 L275.50,95.97 L276.00,95.87 L276.50,95.71 L277.00,95.47 L277.50,95.11 L278.00,94.61 L278.50,93.91 L279.00,93.01 L279.50,91.88 L280.00,90.52 L280.50,88.98 L281.00,87.32 L281.50,85.64 L282.00,84.05 L282.50,82.68 L283.00,81.65 L283.50,81.05 L284.00,80.94 L284.50,81.32 L285.00,82.14 L285.50,83.31 L286.00,84.72 L286.50,86.24 L287.00,87.76 L287.50,89.17 L288.00,90.43 L288.50,91.48 L289.00,92.33 L289.50,93.01 L290.00,93.53 L290.50,93.93 L291.00,94.25 L291.50,94.52 L292.00,94.75 L292.50,94.96 L293.00,95.15 L293.50,95.32 L294.00,95.47 L294.50,95.61 L295.00,95.72 L295.50,95.82 L296.00,95.90 L296.50,95.96 L297.00,96.00 L297.50,96.03 L297.50,96.10 Z" fill="#d63c1c" fill-opacity="0.92"/>
<path d="M275.00,96.03 L275.50,95.97 L276.00,95.87 L276.50,95.71 L277.00,95.47 L277.50,95.11 L278.00,94.61 L278.50,93.91 L279.00,93.01 L279.50,91.88 L280.00,90.52 L280.50,88.98 L281.00,87.32 L281.50,85.64 L282.00,84.05 L282.50,82.68 L283.00,81.65 L283.50,81.05 L284.00,80.94 L284.50,81.32 L285.00,82.14 L285.50,83.31 L286.00,84.72 L286.50,86.24 L287.00,87.76 L287.50,89.17 L288.00,90.43 L288.50,91.48 L289.00,92.33 L289.50,93.01 L290.00,93.53 L290.50,93.93 L291.00,94.25 L291.50,94.52 L292.00,94.75 L292.50,94.96 L293.00,95.15 L293.50,95.32 L294.00,95.47 L294.50,95.61 L295.00,95.72 L295.50,95.82 L296.00,95.90 L296.50,95.96 L297.00,96.00 L297.50,96.03" fill="none" stroke="#222" stroke-width="0.7"/>
<path d="M287.50,96.10 L287.50,96.03 L288.00,96.00 L288.50,95.96 L289.00,95.91 L289.50,95.84 L290.00,95.76 L290.50,95.65 L291.00,95.51 L291.50,95.34 L292.00,95.13 L292.50,94.88 L293.00,94.59 L293.50,94.24 L294.00,93.85 L294.50,93.41 L295.00,92.92 L295.50,92.39 L296.00,91.82 L296.50,91.22 L297.00,90.60 L297.50,89.97 L298.00,89.36 L298.50,88.77 L299.00,88.21 L299.50,87.71 L300.00,87.27 L300.50,86.90 L301.00,86.61 L301.50,86.41 L302.00,86.29 L302.50,86.25 L303.00,86.29 L303.50,86.39 L304.00,86.56 L304.50,86.77 L305.00,87.02 L305.50,87.31 L306.00,87.62 L306.50,87.96 L307.00,88.31 L307.50,88.67 L308.00,89.05 L308.50,89.45 L309.00,89.86 L309.50,90.28 L310.00,90.71 L310.50,91.15 L311.00,91.60 L311.50,92.05 L312.00,92.49 L312.50,92.92 L313.00,93.33 L313.50,93.72 L314.00,94.08 L314.50,94.41 L315.00,94.70 L315.50,94.96 L316.00,95.18 L316.50,95.38 L317.00,95.53 L317.50,95.67 L318.00,95.77 L318.50,95.85 L319.00,95.92 L319.50,95.97 L320.00,96.01 L320.50,96.03 L320.50,96.10 Z" fill="#7ab8ee" />
<path d="M287.50,96.03 L288.00,96.00 L288.50,95.96 L289.00,95.91 L289.50,95.84 L290.00,95.76 L290.50,95.65 L291.00,95.51 L291.50,95.34 L292.00,95.13 L292.50,94.88 L293.00,94.59 L293.50,94.24 L294.00,93.85 L294.50,93.41 L295.00,92.92 L295.50,92.39 L296.00,91.82 L296.50,91.22 L297.00,90.60 L297.50,89.97 L298.00,89.36 L298.50,88.77 L299.00,88.21 L299.50,87.71 L300.00,87.27 L300.50,86.90 L301.00,86.61 L301.50,86.41 L302.00,86.29 L302.50,86.25 L303.00,86.29 L303.50,86.39 L304.00,86.56 L304.50,86.77 L305.00,87.02 L305.50,87.31 L306.00,87.62 L306.50,87.96 L307.00,88.31 L307.50,88.67 L308.00,89.05 L308.50,89.45 L309.00,89.86 L309.50,90.28 L310.00,90.71 L310.50,91.15 L311.00,91.60 L311.50,92.05 L312.00,92.49 L312.50,92.92 L313.00,93.33 L313.50,93.72 L314.00,94.08 L314.50,94.41 L315.00,94.70 L315.50,94.96 L316.00,95.18 L316.50,95.38 L317.00,95.53 L317.50,95.67 L318.00,95.77 L318.50,95.85 L319.00,95.92 L319.50,95.97 L320.00,96.01 L320.50,96.03" fill="none" stroke="#222" stroke-width="0.7"/>
<path d="M290.00,96.10 L290.00,96.03 L290.50,96.00 L291.00,95.96 L291.50,95.90 L292.00,95.83 L292.50,95.75 L293.00,95.64 L293.50,95.50 L294.00,95.33 L294.50,95.14 L295.00,94.90 L295.50,94.63 L296.00,94.33 L296.50,93.98 L297.00,93.59 L297.50,93.17 L298.00,92.70 L298.50,92.21 L299.00,91.69 L299.50,91.14 L300.00,90.57 L300.50,89.99 L301.00,89.40 L301.50,88.81 L302.00,88.22 L302.50,87.64 L303.00,87.08 L303.50,86.56 L304.00,86.08 L304.50,85.65 L305.00,85.28 L305.50,84.99 L306.00,84.79 L306.50,84.69 L307.00,84.69 L307.50,84.80 L308.00,85.02 L308.50,85.34 L309.00,85.76 L309.50,86.27 L310.00,86.86 L310.50,87.51 L311.00,88.21 L311.50,88.93 L312.00,89.66 L312.50,90.39 L313.00,91.09 L313.50,91.76 L314.00,92.39 L314.50,92.96 L315.00,93.48 L315.50,93.93 L316.00,94.33 L316.50,94.68 L317.00,94.97 L317.50,95.21 L318.00,95.41 L318.50,95.57 L319.00,95.70 L319.50,95.80 L320.00,95.88 L320.50,95.94 L321.00,95.98 L321.50,96.02 L322.00,96.04 L322.00,96.10 Z" fill="#a3a3e0" style="mix-blend-mode:multiply"/>
<path d="M290.00,96.03 L290.50,96.00 L291.00,95.96 L291.50,95.90 L292.00,95.83 L292.50,95.75 L293.00,95.64 L293.50,95.50 L294.00,95.33 L294.50,95.14 L295.00,94.90 L295.50,94.63 L296.00,94.33 L296.50,93.98 L297.00,93.59 L297.50,93.17 L298.00,92.70 L298.50,92.21 L299.00,91.69 L299.50,91.14 L300.00,90.57 L300.50,89.99 L301.00,89.40 L301.50,88.81 L302.00,88.22 L302.50,87.64 L303.00,87.08 L303.50,86.56 L304.00,86.08 L304.50,85.65 L305.00,85.28 L305.50,84.99 L306.00,84.79 L306.50,84.69 L307.00,84.69 L307.50,84.80 L308.00,85.02 L308.50,85.34 L309.00,85.76 L309.50,86.27 L310.00,86.86 L310.50,87.51 L311.00,88.21 L311.50,88.93 L312.00,89.66 L312.50,90.39 L313.00,91.09 L313.50,91.76 L314.00,92.39 L314.50,92.96 L315.00,93.48 L315.50,93.93 L316.00,94.33 L316.50,94.68 L317.00,94.97 L317.50,95.21 L318.00,95.41 L318.50,95.57 L319.00,95.70 L319.50,95.80 L320.00,95.88 L320.50,95.94 L321.00,95.98 L321.50,96.02 L322.00,96.04" fill="none" stroke="#222" stroke-width="0.7"/>
<line x1="271.50" y1="96.10" x2="354.60" y2="96.10" stroke="#2a2a2a" stroke-width="0.8" />
<text x="264.60" y="93.97" font-size="7.7" fill="#222" text-anchor="end" >BasoE</text>
<path d="M277.50,112.00 L277.50,111.95 L278.00,111.91 L278.50,111.84 L279.00,111.72 L279.50,111.53 L280.00,111.24 L280.50,110.82 L281.00,110.24 L281.50,109.46 L282.00,108.47 L282.50,107.28 L283.00,105.90 L283.50,104.42 L284.00,102.91 L284.50,101.50 L285.00,100.31 L285.50,99.46 L286.00,99.04 L286.50,99.09 L287.00,99.60 L287.50,100.53 L288.00,101.77 L288.50,103.21 L289.00,104.72 L289.50,106.19 L290.00,107.53 L290.50,108.69 L291.00,109.63 L291.50,110.37 L292.00,110.92 L292.50,111.31 L293.00,111.57 L293.50,111.75 L294.00,111.86 L294.50,111.92 L294.50,112.00 Z" fill="#f4a348" />
<path d="M277.50,111.95 L278.00,111.91 L278.50,111.84 L279.00,111.72 L279.50,111.53 L280.00,111.24 L280.50,110.82 L281.00,110.24 L281.50,109.46 L282.00,108.47 L282.50,107.28 L283.00,105.90 L283.50,104.42 L284.00,102.91 L284.50,101.50 L285.00,100.31 L285.50,99.46 L286.00,99.04 L286.50,99.09 L287.00,99.60 L287.50,100.53 L288.00,101.77 L288.50,103.21 L289.00,104.72 L289.50,106.19 L290.00,107.53 L290.50,108.69 L291.00,109.63 L291.50,110.37 L292.00,110.92 L292.50,111.31 L293.00,111.57 L293.50,111.75 L294.00,111.86 L294.50,111.92" fill="none" stroke="#222" stroke-width="0.7"/>
<path d="M277.50,112.00 L277.50,111.92 L278.00,111.87 L278.50,111.77 L279.00,111.61 L279.50,111.38 L280.00,111.03 L280.50,110.55 L281.00,109.89 L281.50,109.03 L282.00,107.97 L282.50,106.72 L283.00,105.31 L283.50,103.81 L284.00,102.31 L284.50,100.93 L285.00,99.77 L285.50,98.95 L286.00,98.54 L286.50,98.58 L287.00,99.08 L287.50,99.98 L288.00,101.19 L288.50,102.61 L289.00,104.11 L289.50,105.60 L290.00,106.99 L290.50,108.20 L291.00,109.22 L291.50,110.03 L292.00,110.66 L292.50,111.11 L293.00,111.43 L293.50,111.65 L294.00,111.79 L294.50,111.88 L295.00,111.93 L295.00,112.00 Z" fill="#d63c1c" fill-opacity="0.92"/>
<path d="M277.50,111.92 L278.00,111.87 L278.50,111.77 L279.00,111.61 L279.50,111.38 L280.00,111.03 L280.50,110.55 L281.00,109.89 L281.50,109.03 L282.00,107.97 L282.50,106.72 L283.00,105.31 L283.50,103.81 L284.00,102.31 L284.50,100.93 L285.00,99.77 L285.50,98.95 L286.00,98.54 L286.50,98.58 L287.00,99.08 L287.50,99.98 L288.00,101.19 L288.50,102.61 L289.00,104.11 L289.50,105.60 L290.00,106.99 L290.50,108.20 L291.00,109.22 L291.50,110.03 L292.00,110.66 L292.50,111.11 L293.00,111.43 L293.50,111.65 L294.00,111.79 L294.50,111.88 L295.00,111.93" fill="none" stroke="#222" stroke-width="0.7"/>
<path d="M287.00,112.00 L287.00,111.94 L287.50,111.92 L288.00,111.88 L288.50,111.84 L289.00,111.78 L289.50,111.71 L290.00,111.61 L290.50,111.49 L291.00,111.34 L291.50,111.16 L292.00,110.94 L292.50,110.67 L293.00,110.36 L293.50,110.01 L294.00,109.61 L294.50,109.16 L295.00,108.66 L295.50,108.13 L296.00,107.57 L296.50,106.99 L297.00,106.39 L297.50,105.80 L298.00,105.23 L298.50,104.69 L299.00,104.19 L299.50,103.75 L300.00,103.38 L300.50,103.09 L301.00,102.87 L301.50,102.73 L302.00,102.67 L302.50,102.68 L303.00,102.76 L303.50,102.90 L304.00,103.08 L304.50,103.30 L305.00,103.55 L305.50,103.82 L306.00,104.11 L306.50,104.41 L307.00,104.72 L307.50,105.04 L308.00,105.38 L308.50,105.72 L309.00,106.09 L309.50,106.46 L310.00,106.85 L310.50,107.26 L311.00,107.67 L311.50,108.08 L312.00,108.50 L312.50,108.90 L313.00,109.30 L313.50,109.67 L314.00,110.02 L314.50,110.34 L315.00,110.62 L315.50,110.88 L316.00,111.10 L316.50,111.28 L317.00,111.44 L317.50,111.57 L318.00,111.67 L318.50,111.76 L319.00,111.82 L319.50,111.87 L320.00,111.91 L320.50,111.93 L320.50,112.00 Z" fill="#7ab8ee" />
<path d="M287.00,111.94 L287.50,111.92 L288.00,111.88 L288.50,111.84 L289.00,111.78 L289.50,111.71 L290.00,111.61 L290.50,111.49 L291.00,111.34 L291.50,111.16 L292.00,110.94 L292.50,110.67 L293.00,110.36 L293.50,110.01 L294.00,109.61 L294.50,109.16 L295.00,108.66 L295.50,108.13 L296.00,107.57 L296.50,106.99 L297.00,106.39 L297.50,105.80 L298.00,105.23 L298.50,104.69 L299.00,104.19 L299.50,103.75 L300.00,103.38 L300.50,103.09 L301.00,102.87 L301.50,102.73 L302.00,102.67 L302.50,102.68 L303.00,102.76 L303.50,102.90 L304.00,103.08 L304.50,103.30 L305.00,103.55 L305.50,103.82 L306.00,104.11 L306.50,104.41 L307.00,104.72 L307.50,105.04 L308.00,105.38 L308.50,105.72 L309.00,106.09 L309.50,106.46 L310.00,106.85 L310.50,107.26 L311.00,107.67 L311.50,108.08 L312.00,108.50 L312.50,108.90 L313.00,109.30 L313.50,109.67 L314.00,110.02 L314.50,110.34 L315.00,110.62 L315.50,110.88 L316.00,111.10 L316.50,111.28 L317.00,111.44 L317.50,111.57 L318.00,111.67 L318.50,111.76 L319.00,111.82 L319.50,111.87 L320.00,111.91 L320.50,111.93" fill="none" stroke="#222" stroke-width="0.7"/>
<path d="M290.00,112.00 L290.00,111.93 L290.50,111.90 L291.00,111.86 L291.50,111.82 L292.00,111.75 L292.50,111.67 L293.00,111.57 L293.50,111.45 L294.00,111.31 L294.50,111.14 L295.00,110.94 L295.50,110.71 L296.00,110.46 L296.50,110.18 L297.00,109.87 L297.50,109.54 L298.00,109.19 L298.50,108.83 L299.00,108.45 L299.50,108.06 L300.00,107.66 L300.50,107.25 L301.00,106.84 L301.50,106.42 L302.00,106.00 L302.50,105.56 L303.00,105.13 L303.50,104.68 L304.00,104.24 L304.50,103.81 L305.00,103.39 L305.50,102.99 L306.00,102.63 L306.50,102.32 L307.00,102.07 L307.50,101.90 L308.00,101.80 L308.50,101.80 L309.00,101.90 L309.50,102.10 L310.00,102.40 L310.50,102.79 L311.00,103.26 L311.50,103.80 L312.00,104.40 L312.50,105.03 L313.00,105.69 L313.50,106.36 L314.00,107.01 L314.50,107.64 L315.00,108.24 L315.50,108.79 L316.00,109.30 L316.50,109.75 L317.00,110.16 L317.50,110.50 L318.00,110.80 L318.50,111.05 L319.00,111.26 L319.50,111.43 L320.00,111.56 L320.50,111.67 L321.00,111.75 L321.50,111.82 L322.00,111.87 L322.50,111.91 L323.00,111.93 L323.00,112.00 Z" fill="#a3a3e0" style="mix-blend-mode:multiply"/>
<path d="M290.00,111.93 L290.50,111.90 L291.00,111.86 L291.50,111.82 L292.00,111.75 L292.50,111.67 L293.00,111.57 L293.50,111.45 L294.00,111.31 L294.50,111.14 L295.00,110.94 L295.50,110.71 L296.00,110.46 L296.50,110.18 L297.00,109.87 L297.50,109.54 L298.00,109.19 L298.50,108.83 L299.00,108.45 L299.50,108.06 L300.00,107.66 L300.50,107.25 L301.00,106.84 L301.50,106.42 L302.00,106.00 L302.50,105.56 L303.00,105.13 L303.50,104.68 L304.00,104.24 L304.50,103.81 L305.00,103.39 L305.50,102.99 L306.00,102.63 L306.50,102.32 L307.00,102.07 L307.50,101.90 L308.00,101.80 L308.50,101.80 L309.00,101.90 L309.50,102.10 L310.00,102.40 L310.50,102.79 L311.00,103.26 L311.50,103.80 L312.00,104.40 L312.50,105.03 L313.00,105.69 L313.50,106.36 L314.00,107.01 L314.50,107.64 L315.00,108.24 L315.50,108.79 L316.00,109.30 L316.50,109.75 L317.00,110.16 L317.50,110.50 L318.00,110.80 L318.50,111.05 L319.00,111.26 L319.50,111.43 L320.00,111.56 L320.50,111.67 L321.00,111.75 L321.50,111.82 L322.00,111.87 L322.50,111.91 L323.00,111.93" fill="none" stroke="#222" stroke-width="0.7"/>
<line x1="271.50" y1="112.00" x2="354.60" y2="112.00" stroke="#2a2a2a" stroke-width="0.8" />
<text x="264.60" y="109.87" font-size="7.7" fill="#222" text-anchor="end" >PolyE</text>
<path d="M280.50,128.10 L280.50,128.04 L281.00,127.97 L281.50,127.86 L282.00,127.65 L282.50,127.33 L283.00,126.82 L283.50,126.07 L284.00,125.04 L284.50,123.69 L285.00,122.05 L285.50,120.18 L286.00,118.21 L286.50,116.32 L287.00,114.72 L287.50,113.60 L288.00,113.11 L288.50,113.33 L289.00,114.21 L289.50,115.64 L290.00,117.44 L290.50,119.40 L291.00,121.33 L291.50,123.07 L292.00,124.54 L292.50,125.69 L293.00,126.55 L293.50,127.15 L294.00,127.54 L294.50,127.79 L295.00,127.93 L295.50,128.02 L296.00,128.06 L296.00,128.10 Z" fill="#f4a348" />
<path d="M280.50,128.04 L281.00,127.97 L281.50,127.86 L282.00,127.65 L282.50,127.33 L283.00,126.82 L283.50,126.07 L284.00,125.04 L284.50,123.69 L285.00,122.05 L285.50,120.18 L286.00,118.21 L286.50,116.32 L287.00,114.72 L287.50,113.60 L288.00,113.11 L288.50,113.33 L289.00,114.21 L289.50,115.64 L290.00,117.44 L290.50,119.40 L291.00,121.33 L291.50,123.07 L292.00,124.54 L292.50,125.69 L293.00,126.55 L293.50,127.15 L294.00,127.54 L294.50,127.79 L295.00,127.93 L295.50,128.02 L296.00,128.06" fill="none" stroke="#222" stroke-width="0.7"/>
<path d="M276.50,128.10 L276.50,128.05 L277.00,128.02 L277.50,127.96 L278.00,127.89 L278.50,127.77 L279.00,127.61 L279.50,127.38 L280.00,127.08 L280.50,126.67 L281.00,126.17 L281.50,125.54 L282.00,124.78 L282.50,123.91 L283.00,122.94 L283.50,121.89 L284.00,120.80 L284.50,119.71 L285.00,118.69 L285.50,117.78 L286.00,117.03 L286.50,116.48 L287.00,116.15 L287.50,116.06 L288.00,116.20 L288.50,116.55 L289.00,117.07 L289.50,117.73 L290.00,118.48 L290.50,119.29 L291.00,120.13 L291.50,120.97 L292.00,121.80 L292.50,122.58 L293.00,123.33 L293.50,124.03 L294.00,124.67 L294.50,125.26 L295.00,125.79 L295.50,126.25 L296.00,126.65 L296.50,126.99 L297.00,127.27 L297.50,127.49 L298.00,127.66 L298.50,127.80 L299.00,127.89 L299.50,127.96 L300.00,128.01 L300.50,128.04 L300.50,128.10 Z" fill="#d63c1c" fill-opacity="0.92"/>
<path d="M276.50,128.05 L277.00,128.02 L277.50,127.96 L278.00,127.89 L278.50,127.77 L279.00,127.61 L279.50,127.38 L280.00,127.08 L280.50,126.67 L281.00,126.17 L281.50,125.54 L282.00,124.78 L282.50,123.91 L283.00,122.94 L283.50,121.89 L284.00,120.80 L284.50,119.71 L285.00,118.69 L285.50,117.78 L286.00,117.03 L286.50,116.48 L287.00,116.15 L287.50,116.06 L288.00,116.20 L288.50,116.55 L289.00,117.07 L289.50,117.73 L290.00,118.48 L290.50,119.29 L291.00,120.13 L291.50,120.97 L292.00,121.80 L292.50,122.58 L293.00,123.33 L293.50,124.03 L294.00,124.67 L294.50,125.26 L295.00,125.79 L295.50,126.25 L296.00,126.65 L296.50,126.99 L297.00,127.27 L297.50,127.49 L298.00,127.66 L298.50,127.80 L299.00,127.89 L299.50,127.96 L300.00,128.01 L300.50,128.04" fill="none" stroke="#222" stroke-width="0.7"/>
<path d="M290.00,128.10 L290.00,128.04 L290.50,128.01 L291.00,127.97 L291.50,127.91 L292.00,127.83 L292.50,127.73 L293.00,127.59 L293.50,127.42 L294.00,127.19 L294.50,126.92 L295.00,126.59 L295.50,126.19 L296.00,125.72 L296.50,125.18 L297.00,124.58 L297.50,123.91 L298.00,123.20 L298.50,122.44 L299.00,121.67 L299.50,120.89 L300.00,120.14 L300.50,119.43 L301.00,118.79 L301.50,118.23 L302.00,117.78 L302.50,117.44 L303.00,117.23 L303.50,117.14 L304.00,117.16 L304.50,117.30 L305.00,117.54 L305.50,117.86 L306.00,118.25 L306.50,118.70 L307.00,119.18 L307.50,119.70 L308.00,120.23 L308.50,120.78 L309.00,121.32 L309.50,121.87 L310.00,122.41 L310.50,122.94 L311.00,123.45 L311.50,123.96 L312.00,124.44 L312.50,124.89 L313.00,125.33 L313.50,125.72 L314.00,126.09 L314.50,126.42 L315.00,126.72 L315.50,126.97 L316.00,127.20 L316.50,127.39 L317.00,127.54 L317.50,127.67 L318.00,127.78 L318.50,127.86 L319.00,127.92 L319.50,127.97 L320.00,128.01 L320.50,128.04 L320.50,128.10 Z" fill="#7ab8ee" />
<path d="M290.00,128.04 L290.50,128.01 L291.00,127.97 L291.50,127.91 L292.00,127.83 L292.50,127.73 L293.00,127.59 L293.50,127.42 L294.00,127.19 L294.50,126.92 L295.00,126.59 L295.50,126.19 L296.00,125.72 L296.50,125.18 L297.00,124.58 L297.50,123.91 L298.00,123.20 L298.50,122.44 L299.00,121.67 L299.50,120.89 L300.00,120.14 L300.50,119.43 L301.00,118.79 L301.50,118.23 L302.00,117.78 L302.50,117.44 L303.00,117.23 L303.50,117.14 L304.00,117.16 L304.50,117.30 L305.00,117.54 L305.50,117.86 L306.00,118.25 L306.50,118.70 L307.00,119.18 L307.50,119.70 L308.00,120.23 L308.50,120.78 L309.00,121.32 L309.50,121.87 L310.00,122.41 L310.50,122.94 L311.00,123.45 L311.50,123.96 L312.00,124.44 L312.50,124.89 L313.00,125.33 L313.50,125.72 L314.00,126.09 L314.50,126.42 L315.00,126.72 L315.50,126.97 L316.00,127.20 L316.50,127.39 L317.00,127.54 L317.50,127.67 L318.00,127.78 L318.50,127.86 L319.00,127.92 L319.50,127.97 L320.00,128.01 L320.50,128.04" fill="none" stroke="#222" stroke-width="0.7"/>
<path d="M292.00,128.10 L292.00,128.04 L292.50,128.02 L293.00,127.98 L293.50,127.93 L294.00,127.87 L294.50,127.79 L295.00,127.68 L295.50,127.54 L296.00,127.37 L296.50,127.17 L297.00,126.92 L297.50,126.63 L298.00,126.29 L298.50,125.90 L299.00,125.47 L299.50,124.99 L300.00,124.48 L300.50,123.93 L301.00,123.37 L301.50,122.78 L302.00,122.20 L302.50,121.62 L303.00,121.05 L303.50,120.52 L304.00,120.01 L304.50,119.54 L305.00,119.12 L305.50,118.74 L306.00,118.42 L306.50,118.14 L307.00,117.93 L307.50,117.77 L308.00,117.67 L308.50,117.63 L309.00,117.66 L309.50,117.74 L310.00,117.88 L310.50,118.08 L311.00,118.32 L311.50,118.62 L312.00,118.95 L312.50,119.30 L313.00,119.69 L313.50,120.08 L314.00,120.49 L314.50,120.91 L315.00,121.34 L315.50,121.78 L316.00,122.23 L316.50,122.70 L317.00,123.18 L317.50,123.66 L318.00,124.16 L318.50,124.65 L319.00,125.13 L319.50,125.58 L320.00,126.01 L320.50,126.40 L321.00,126.75 L321.50,127.04 L322.00,127.29 L322.50,127.50 L323.00,127.66 L323.50,127.79 L324.00,127.88 L324.50,127.95 L325.00,128.00 L325.50,128.03 L325.50,128.10 Z" fill="#a3a3e0" style="mix-blend-mode:multiply"/>
<path d="M292.00,128.04 L292.50,128.02 L293.00,127.98 L293.50,127.93 L294.00,127.87 L294.50,127.79 L295.00,127.68 L295.50,127.54 L296.00,127.37 L296.50,127.17 L297.00,126.92 L297.50,126.63 L298.00,126.29 L298.50,125.90 L299.00,125.47 L299.50,124.99 L300.00,124.48 L300.50,123.93 L301.00,123.37 L301.50,122.78 L302.00,122.20 L302.50,121.62 L303.00,121.05 L303.50,120.52 L304.00,120.01 L304.50,119.54 L305.00,119.12 L305.50,118.74 L306.00,118.42 L306.50,118.14 L307.00,117.93 L307.50,117.77 L308.00,117.67 L308.50,117.63 L309.00,117.66 L309.50,117.74 L310.00,117.88 L310.50,118.08 L311.00,118.32 L311.50,118.62 L312.00,118.95 L312.50,119.30 L313.00,119.69 L313.50,120.08 L314.00,120.49 L314.50,120.91 L315.00,121.34 L315.50,121.78 L316.00,122.23 L316.50,122.70 L317.00,123.18 L317.50,123.66 L318.00,124.16 L318.50,124.65 L319.00,125.13 L319.50,125.58 L320.00,126.01 L320.50,126.40 L321.00,126.75 L321.50,127.04 L322.00,127.29 L322.50,127.50 L323.00,127.66 L323.50,127.79 L324.00,127.88 L324.50,127.95 L325.00,128.00 L325.50,128.03" fill="none" stroke="#222" stroke-width="0.7"/>
<line x1="271.50" y1="128.10" x2="354.60" y2="128.10" stroke="#2a2a2a" stroke-width="0.8" />
<text x="264.60" y="125.97" font-size="7.7" fill="#222" text-anchor="end" >OrthoE</text>
<path d="M283.00,144.30 L283.00,144.26 L283.50,144.20 L284.00,144.07 L284.50,143.83 L285.00,143.37 L285.50,142.58 L286.00,141.36 L286.50,139.63 L287.00,137.40 L287.50,134.83 L288.00,132.23 L288.50,130.01 L289.00,128.57 L289.50,128.17 L290.00,128.85 L290.50,130.41 L291.00,132.49 L291.50,134.69 L292.00,136.69 L292.50,138.31 L293.00,139.52 L293.50,140.38 L294.00,140.98 L294.50,141.43 L295.00,141.80 L295.50,142.14 L296.00,142.47 L296.50,142.78 L297.00,143.07 L297.50,143.33 L298.00,143.55 L298.50,143.74 L299.00,143.89 L299.50,144.01 L300.00,144.10 L300.50,144.17 L301.00,144.21 L301.50,144.25 L301.50,144.30 Z" fill="#f4a348" />
<path d="M283.00,144.26 L283.50,144.20 L284.00,144.07 L284.50,143.83 L285.00,143.37 L285.50,142.58 L286.00,141.36 L286.50,139.63 L287.00,137.40 L287.50,134.83 L288.00,132.23 L288.50,130.01 L289.00,128.57 L289.50,128.17 L290.00,128.85 L290.50,130.41 L291.00,132.49 L291.50,134.69 L292.00,136.69 L292.50,138.31 L293.00,139.52 L293.50,140.38 L294.00,140.98 L294.50,141.43 L295.00,141.80 L295.50,142.14 L296.00,142.47 L296.50,142.78 L297.00,143.07 L297.50,143.33 L298.00,143.55 L298.50,143.74 L299.00,143.89 L299.50,144.01 L300.00,144.10 L300.50,144.17 L301.00,144.21 L301.50,144.25" fill="none" stroke="#222" stroke-width="0.7"/>
<path d="M280.00,144.30 L280.00,144.25 L280.50,144.22 L281.00,144.17 L281.50,144.10 L282.00,143.99 L282.50,143.84 L283.00,143.63 L283.50,143.34 L284.00,142.98 L284.50,142.51 L285.00,141.93 L285.50,141.24 L286.00,140.45 L286.50,139.55 L287.00,138.59 L287.50,137.58 L288.00,136.57 L288.50,135.61 L289.00,134.74 L289.50,134.00 L290.00,133.44 L290.50,133.09 L291.00,132.95 L291.50,133.04 L292.00,133.34 L292.50,133.83 L293.00,134.49 L293.50,135.27 L294.00,136.15 L294.50,137.07 L295.00,138.01 L295.50,138.93 L296.00,139.80 L296.50,140.60 L297.00,141.32 L297.50,141.95 L298.00,142.49 L298.50,142.93 L299.00,143.29 L299.50,143.57 L300.00,143.79 L300.50,143.95 L301.00,144.06 L301.50,144.14 L302.00,144.20 L302.50,144.24 L302.50,144.30 Z" fill="#d63c1c" fill-opacity="0.92"/>
<path d="M280.00,144.25 L280.50,144.22 L281.00,144.17 L281.50,144.10 L282.00,143.99 L282.50,143.84 L283.00,143.63 L283.50,143.34 L284.00,142.98 L284.50,142.51 L285.00,141.93 L285.50,141.24 L286.00,140.45 L286.50,139.55 L287.00,138.59 L287.50,137.58 L288.00,136.57 L288.50,135.61 L289.00,134.74 L289.50,134.00 L290.00,133.44 L290.50,133.09 L291.00,132.95 L291.50,133.04 L292.00,133.34 L292.50,133.83 L293.00,134.49 L293.50,135.27 L294.00,136.15 L294.50,137.07 L295.00,138.01 L295.50,138.93 L296.00,139.80 L296.50,140.60 L297.00,141.32 L297.50,141.95 L298.00,142.49 L298.50,142.93 L299.00,143.29 L299.50,143.57 L300.00,143.79 L300.50,143.95 L301.00,144.06 L301.50,144.14 L302.00,144.20 L302.50,144.24" fill="none" stroke="#222" stroke-width="0.7"/>
<path d="M295.50,144.30 L295.50,144.25 L296.00,144.20 L296.50,144.12 L297.00,143.98 L297.50,143.74 L298.00,143.36 L298.50,142.78 L299.00,141.95 L299.50,140.88 L300.00,139.57 L300.50,138.13 L301.00,136.70 L301.50,135.46 L302.00,134.57 L302.50,134.15 L303.00,134.24 L303.50,134.76 L304.00,135.60 L304.50,136.56 L305.00,137.50 L305.50,138.29 L306.00,138.87 L306.50,139.23 L307.00,139.41 L307.50,139.44 L308.00,139.38 L308.50,139.28 L309.00,139.15 L309.50,139.04 L310.00,138.94 L310.50,138.89 L311.00,138.88 L311.50,138.92 L312.00,139.04 L312.50,139.22 L313.00,139.47 L313.50,139.79 L314.00,140.16 L314.50,140.58 L315.00,141.03 L315.50,141.49 L316.00,141.94 L316.50,142.36 L317.00,142.75 L317.50,143.09 L318.00,143.38 L318.50,143.61 L319.00,143.80 L319.50,143.95 L320.00,144.06 L320.50,144.14 L321.00,144.19 L321.50,144.23 L321.50,144.30 Z" fill="#7ab8ee" />
<path d="M295.50,144.25 L296.00,144.20 L296.50,144.12 L297.00,143.98 L297.50,143.74 L298.00,143.36 L298.50,142.78 L299.00,141.95 L299.50,140.88 L300.00,139.57 L300.50,138.13 L301.00,136.70 L301.50,135.46 L302.00,134.57 L302.50,134.15 L303.00,134.24 L303.50,134.76 L304.00,135.60 L304.50,136.56 L305.00,137.50 L305.50,138.29 L306.00,138.87 L306.50,139.23 L307.00,139.41 L307.50,139.44 L308.00,139.38 L308.50,139.28 L309.00,139.15 L309.50,139.04 L310.00,138.94 L310.50,138.89 L311.00,138.88 L311.50,138.92 L312.00,139.04 L312.50,139.22 L313.00,139.47 L313.50,139.79 L314.00,140.16 L314.50,140.58 L315.00,141.03 L315.50,141.49 L316.00,141.94 L316.50,142.36 L317.00,142.75 L317.50,143.09 L318.00,143.38 L318.50,143.61 L319.00,143.80 L319.50,143.95 L320.00,144.06 L320.50,144.14 L321.00,144.19 L321.50,144.23" fill="none" stroke="#222" stroke-width="0.7"/>
<path d="M296.50,144.30 L296.50,144.23 L297.00,144.18 L297.50,144.12 L298.00,144.03 L298.50,143.90 L299.00,143.73 L299.50,143.51 L300.00,143.24 L300.50,142.90 L301.00,142.51 L301.50,142.06 L302.00,141.56 L302.50,141.03 L303.00,140.48 L303.50,139.93 L304.00,139.39 L304.50,138.89 L305.00,138.42 L305.50,138.00 L306.00,137.62 L306.50,137.28 L307.00,136.97 L307.50,136.69 L308.00,136.44 L308.50,136.22 L309.00,136.04 L309.50,135.90 L310.00,135.82 L310.50,135.81 L311.00,135.87 L311.50,136.01 L312.00,136.24 L312.50,136.53 L313.00,136.90 L313.50,137.32 L314.00,137.78 L314.50,138.28 L315.00,138.79 L315.50,139.32 L316.00,139.84 L316.50,140.36 L317.00,140.87 L317.50,141.35 L318.00,141.81 L318.50,142.23 L319.00,142.61 L319.50,142.95 L320.00,143.24 L320.50,143.49 L321.00,143.70 L321.50,143.86 L322.00,143.99 L322.50,144.08 L323.00,144.15 L323.50,144.20 L324.00,144.24 L324.00,144.30 Z" fill="#a3a3e0" style="mix-blend-mode:multiply"/>
<path d="M296.50,144.23 L297.00,144.18 L297.50,144.12 L298.00,144.03 L298.50,143.90 L299.00,143.73 L299.50,143.51 L300.00,143.24 L300.50,142.90 L301.00,142.51 L301.50,142.06 L302.00,141.56 L302.50,141.03 L303.00,140.48 L303.50,139.93 L304.00,139.39 L304.50,138.89 L305.00,138.42 L305.50,138.00 L306.00,137.62 L306.50,137.28 L307.00,136.97 L307.50,136.69 L308.00,136.44 L308.50,136.22 L309.00,136.04 L309.50,135.90 L310.00,135.82 L310.50,135.81 L311.00,135.87 L311.50,136.01 L312.00,136.24 L312.50,136.53 L313.00,136.90 L313.50,137.32 L314.00,137.78 L314.50,138.28 L315.00,138.79 L315.50,139.32 L316.00,139.84 L316.50,140.36 L317.00,140.87 L317.50,141.35 L318.00,141.81 L318.50,142.23 L319.00,142.61 L319.50,142.95 L320.00,143.24 L320.50,143.49 L321.00,143.70 L321.50,143.86 L322.00,143.99 L322.50,144.08 L323.00,144.15 L323.50,144.20 L324.00,144.24" fill="none" stroke="#222" stroke-width="0.7"/>
<line x1="271.50" y1="144.30" x2="354.60" y2="144.30" stroke="#2a2a2a" stroke-width="0.8" />
<text x="264.60" y="142.17" font-size="7.7" fill="#222" text-anchor="end" >reticulocytes</text>
<line x1="268.10" y1="50.80" x2="268.10" y2="144.80" stroke="#333" stroke-width="1.1" />
<line x1="268.10" y1="144.60" x2="357.50" y2="144.60" stroke="#333" stroke-width="1.3" />
<line x1="292.70" y1="144.60" x2="292.70" y2="147.00" stroke="#333" stroke-width="0.9" />
<text x="292.70" y="159.22" font-size="8.1" fill="#222" text-anchor="middle" >0.0</text>
<line x1="319.45" y1="144.60" x2="319.45" y2="147.00" stroke="#333" stroke-width="0.9" />
<text x="319.45" y="159.22" font-size="8.1" fill="#222" text-anchor="middle" >0.5</text>
<line x1="346.20" y1="144.60" x2="346.20" y2="147.00" stroke="#333" stroke-width="0.9" />
<text x="346.20" y="159.22" font-size="8.1" fill="#222" text-anchor="middle" >1.0</text>
<text x="257.50" y="171.10" font-size="8.6" fill="#222" textLength="110" lengthAdjust="spacingAndGlyphs" ><tspan font-weight="bold">HALLMARK</tspan> interferon alpha response</text>
<text x="417.70" y="50.04" font-size="7.6" fill="#222" >treated PV vs</text>
<text x="417.70" y="59.64" font-size="7.6" fill="#222" >treated HC</text>
<rect x="422.90" y="61.30" width="20.10" height="11.70" fill="#a18fd2" stroke="none" stroke-width="0.5" />
<text x="420.60" y="69.84" font-size="7.6" fill="#222" text-anchor="end" >MEP</text>
<rect x="422.90" y="72.90" width="20.10" height="11.70" fill="#fbe2d8" stroke="none" stroke-width="0.5" />
<text x="420.60" y="81.44" font-size="7.6" fill="#222" text-anchor="end" >ProE</text>
<rect x="422.90" y="84.50" width="20.10" height="11.70" fill="#ee8062" stroke="none" stroke-width="0.5" />
<text x="420.60" y="93.04" font-size="7.6" fill="#222" text-anchor="end" >BasoE</text>
<text x="433.00" y="94.44" font-size="7.4" fill="#222" text-anchor="middle" font-weight="bold" >**</text>
<rect x="422.90" y="96.10" width="20.10" height="11.70" fill="#ef8466" stroke="none" stroke-width="0.5" />
<text x="420.60" y="104.64" font-size="7.6" fill="#222" text-anchor="end" >PolyE</text>
<text x="433.00" y="106.04" font-size="7.4" fill="#222" text-anchor="middle" font-weight="bold" >**</text>
<rect x="422.90" y="107.70" width="20.10" height="11.70" fill="#e24a30" stroke="none" stroke-width="0.5" />
<text x="420.60" y="116.24" font-size="7.6" fill="#222" text-anchor="end" >OrthoE</text>
<text x="433.00" y="117.64" font-size="7.4" fill="#222" text-anchor="middle" font-weight="bold" >***</text>
<rect x="422.90" y="119.30" width="20.10" height="11.70" fill="#e45238" stroke="none" stroke-width="0.5" />
<text x="420.60" y="127.84" font-size="7.6" fill="#222" text-anchor="end" >reticulocytes</text>
<text x="433.00" y="129.24" font-size="7.4" fill="#222" text-anchor="middle" font-weight="bold" >***</text>
<defs><linearGradient id="nes" x1="0" y1="0" x2="0" y2="1"><stop offset="0" stop-color="#e41a12"/><stop offset="0.2" stop-color="#ef7462"/><stop offset="0.38" stop-color="#fad8cc"/><stop offset="0.5" stop-color="#ffffff"/><stop offset="0.65" stop-color="#c4bcea"/><stop offset="0.82" stop-color="#6a58bc"/><stop offset="1" stop-color="#1e1688"/></linearGradient></defs>
<rect x="446.00" y="72.90" width="6.70" height="45.60" fill="url(#nes)" stroke="none" stroke-width="0.5" />
<text x="446.00" y="69.81" font-size="7.8" fill="#222" >NES</text>
<text x="455.60" y="78.39" font-size="7.2" fill="#222" >3</text>
<text x="455.60" y="85.27" font-size="7.2" fill="#222" >2</text>
<text x="455.60" y="92.15" font-size="7.2" fill="#222" >1</text>
<text x="455.60" y="99.03" font-size="7.2" fill="#222" >0</text>
<text x="455.60" y="105.91" font-size="7.2" fill="#222" >−1</text>
<text x="455.60" y="112.79" font-size="7.2" fill="#222" >−2</text>
<text x="455.60" y="119.67" font-size="7.2" fill="#222" >−3</text>
<text x="8.50" y="208.08" font-size="10.5" fill="#111" font-weight="bold" >C</text>
<clipPath id="cclip"><rect x="45.2" y="213.4" width="160.8" height="121.9"/></clipPath>
<g clip-path="url(#cclip)">
<line x1="40.00" y1="333.40" x2="210.00" y2="205.05" stroke="#cc3a48" stroke-width="1.2" />
<line x1="40.00" y1="338.70" x2="210.00" y2="210.35" stroke="#222" stroke-width="1.25" />
<line x1="40.00" y1="343.50" x2="210.00" y2="215.15" stroke="#2a6a90" stroke-width="1.2" />
</g>
<path d="M106.2,290.3h0.01M117.8,278.4h0.01M104.8,289.7h0.01M117.5,284.4h0.01M103.4,286.4h0.01M117.8,282.0h0.01M123.6,279.5h0.01M111.7,283.8h0.01M127.5,271.9h0.01M106.2,284.8h0.01M113.6,283.9h0.01M110.7,285.4h0.01M115.6,284.4h0.01M119.7,279.6h0.01M103.4,293.6h0.01M104.1,289.9h0.01M104.1,290.5h0.01M108.6,288.0h0.01M132.3,269.2h0.01M115.5,277.2h0.01M112.2,286.8h0.01M112.9,285.3h0.01M111.7,281.2h0.01M114.7,279.6h0.01M123.0,274.5h0.01M116.9,281.0h0.01M117.4,278.4h0.01M118.5,279.3h0.01M121.4,279.8h0.01M112.3,281.6h0.01M118.2,281.7h0.01M121.9,275.8h0.01M117.0,282.7h0.01M114.8,283.2h0.01M112.8,281.8h0.01M106.1,287.6h0.01M118.9,284.9h0.01M120.4,282.1h0.01M118.6,282.2h0.01M115.2,285.0h0.01M122.7,275.4h0.01M112.1,291.6h0.01M115.9,285.2h0.01M116.0,277.5h0.01M130.3,277.3h0.01M115.2,285.0h0.01M112.0,281.4h0.01M112.8,285.4h0.01M120.6,280.7h0.01M115.5,286.9h0.01M109.7,289.2h0.01M118.9,278.4h0.01M100.6,289.8h0.01M115.1,284.2h0.01M120.2,274.8h0.01M113.9,285.5h0.01M107.7,279.2h0.01M121.6,285.8h0.01M117.1,277.4h0.01M110.7,286.3h0.01M128.6,274.4h0.01M116.2,287.1h0.01M115.6,288.7h0.01M107.9,285.9h0.01M119.5,284.1h0.01M117.2,281.8h0.01M100.8,290.4h0.01M108.3,285.5h0.01M115.7,280.6h0.01M117.6,280.7h0.01M111.0,285.8h0.01M116.8,284.1h0.01M109.6,285.6h0.01M107.5,293.8h0.01M121.1,277.1h0.01M107.8,283.3h0.01M114.2,283.7h0.01M126.1,274.9h0.01M103.9,281.8h0.01M121.5,278.2h0.01M103.6,291.6h0.01M109.3,299.2h0.01M120.4,280.4h0.01M108.0,279.8h0.01M109.3,281.0h0.01M112.6,276.4h0.01M109.5,290.9h0.01M120.5,274.0h0.01M105.2,292.9h0.01M116.1,277.9h0.01M107.5,285.5h0.01M104.6,287.7h0.01M121.4,280.0h0.01M124.8,274.7h0.01M110.3,282.3h0.01M109.8,281.5h0.01M103.5,293.5h0.01M122.8,279.5h0.01M121.1,278.7h0.01M108.7,287.4h0.01M108.7,283.1h0.01M100.2,288.1h0.01M113.0,284.4h0.01M112.5,289.4h0.01M114.9,284.6h0.01M118.6,276.7h0.01M102.4,294.5h0.01M111.0,290.1h0.01M116.6,284.8h0.01M113.7,275.8h0.01M115.9,279.2h0.01M107.6,286.3h0.01M118.9,282.6h0.01M115.9,275.7h0.01M105.2,281.1h0.01M113.2,285.8h0.01M108.7,288.0h0.01M115.9,285.3h0.01M106.5,285.7h0.01M111.3,291.5h0.01M119.0,278.9h0.01M114.3,283.3h0.01M113.6,282.6h0.01M108.6,282.6h0.01M111.9,290.7h0.01M116.1,281.8h0.01M111.6,285.1h0.01M113.8,280.9h0.01M114.4,283.7h0.01M107.0,285.5h0.01M105.0,286.0h0.01M114.0,274.6h0.01M110.2,283.8h0.01M109.3,287.0h0.01M119.6,279.2h0.01M110.9,283.2h0.01M113.6,286.7h0.01M108.5,283.1h0.01M103.4,287.0h0.01M106.5,292.7h0.01M114.5,281.9h0.01M120.3,276.0h0.01M118.7,282.5h0.01M100.9,287.3h0.01M108.9,290.2h0.01M118.3,275.4h0.01M118.3,278.5h0.01M109.5,284.5h0.01M107.7,281.2h0.01M104.7,285.6h0.01M119.3,286.7h0.01M128.4,271.1h0.01M101.9,290.7h0.01M110.7,292.8h0.01M114.9,279.8h0.01M119.3,281.1h0.01M102.3,290.0h0.01M111.4,285.1h0.01M113.0,282.6h0.01M112.9,281.8h0.01M110.1,291.5h0.01M115.7,283.4h0.01M103.1,290.7h0.01M115.4,277.4h0.01M118.6,278.2h0.01M115.0,281.9h0.01M116.2,285.8h0.01M113.1,289.4h0.01M106.5,285.3h0.01M115.2,278.4h0.01M112.2,287.7h0.01M116.9,274.5h0.01M119.1,286.1h0.01M119.5,278.1h0.01M108.7,286.0h0.01M105.5,288.5h0.01M111.4,284.5h0.01M119.4,278.2h0.01M106.0,292.9h0.01M105.7,287.7h0.01M111.4,283.8h0.01M106.4,287.9h0.01M124.7,272.9h0.01M113.9,287.2h0.01M118.5,282.5h0.01M114.5,275.6h0.01M107.9,288.1h0.01M118.0,284.8h0.01M115.2,281.4h0.01M112.7,283.3h0.01M115.4,284.5h0.01M109.4,283.6h0.01M109.6,290.3h0.01M122.1,280.6h0.01M119.3,282.1h0.01M113.9,285.6h0.01M106.2,288.2h0.01M109.7,288.9h0.01M109.2,286.3h0.01M117.5,285.4h0.01M106.5,285.3h0.01M115.7,277.8h0.01M114.5,280.7h0.01M109.0,280.2h0.01M116.2,279.7h0.01M111.1,292.8h0.01M123.1,289.0h0.01M114.6,281.4h0.01M116.2,287.2h0.01M113.4,285.2h0.01M114.3,279.6h0.01M112.7,282.3h0.01M106.9,291.6h0.01M116.9,281.2h0.01M103.9,283.4h0.01M115.5,281.6h0.01M102.7,291.3h0.01M103.7,290.7h0.01M114.3,284.2h0.01M114.4,283.4h0.01M105.4,288.2h0.01M109.4,285.7h0.01M115.5,284.2h0.01M118.0,270.8h0.01M114.8,281.8h0.01M127.9,276.1h0.01M103.7,292.3h0.01M111.4,288.6h0.01M106.4,288.5h0.01M111.9,284.4h0.01M106.1,282.3h0.01M117.3,284.3h0.01M110.6,281.9h0.01M115.0,284.4h0.01M111.7,284.7h0.01M119.2,275.1h0.01M106.2,282.1h0.01M107.4,285.4h0.01M105.9,286.7h0.01M123.1,275.6h0.01M115.9,289.6h0.01M109.4,280.2h0.01M113.6,280.0h0.01M120.3,273.8h0.01M106.6,282.9h0.01M111.6,281.2h0.01M111.8,283.4h0.01M110.8,288.9h0.01M118.4,280.0h0.01M105.6,285.5h0.01M118.6,288.3h0.01M108.7,284.2h0.01M106.8,284.6h0.01M106.7,287.8h0.01M121.3,277.6h0.01M107.0,282.5h0.01M114.0,283.0h0.01M103.6,286.9h0.01M114.3,286.5h0.01M116.9,281.7h0.01M111.4,286.2h0.01M116.5,289.1h0.01M105.5,288.2h0.01M119.8,277.8h0.01M121.2,277.6h0.01M113.0,282.5h0.01M102.9,287.9h0.01M127.0,275.7h0.01M118.0,283.5h0.01M117.9,283.8h0.01M110.8,284.7h0.01M118.0,278.8h0.01M104.5,289.4h0.01M110.6,287.8h0.01M106.7,284.7h0.01M113.5,289.1h0.01M112.8,284.6h0.01M113.4,284.6h0.01M120.7,283.1h0.01M105.4,294.5h0.01M112.2,283.3h0.01M126.7,273.0h0.01M126.0,277.6h0.01M107.6,289.7h0.01M116.9,280.4h0.01M98.4,293.5h0.01M109.7,282.3h0.01M123.2,275.3h0.01M109.9,285.1h0.01M106.8,285.7h0.01M113.9,284.3h0.01M109.6,286.0h0.01M105.5,291.4h0.01M108.7,287.8h0.01M106.5,286.8h0.01M112.0,280.2h0.01M127.4,273.0h0.01M111.1,282.6h0.01M124.7,280.1h0.01M112.2,279.5h0.01M110.9,287.7h0.01M107.7,283.5h0.01M104.4,287.5h0.01M111.8,282.4h0.01M117.8,290.4h0.01M121.5,273.7h0.01M115.0,282.7h0.01M113.8,287.0h0.01M110.3,284.7h0.01M110.4,285.4h0.01M121.8,280.1h0.01M104.1,288.9h0.01M109.5,289.4h0.01M115.7,285.1h0.01M109.1,279.8h0.01M115.9,282.5h0.01M113.5,278.7h0.01M112.1,282.0h0.01M109.3,287.9h0.01M113.3,280.4h0.01M98.4,285.9h0.01M111.3,289.2h0.01M108.6,279.0h0.01M108.4,288.8h0.01M124.7,279.3h0.01M115.3,282.8h0.01M105.7,287.7h0.01M109.5,283.7h0.01M112.5,282.8h0.01M117.3,285.8h0.01M117.9,281.7h0.01M108.7,281.5h0.01M113.1,285.8h0.01M109.0,291.4h0.01M111.5,286.3h0.01M108.7,282.5h0.01M123.0,272.1h0.01M117.3,278.6h0.01M113.0,280.9h0.01M111.9,288.0h0.01M122.8,273.4h0.01M114.5,286.2h0.01M110.3,288.4h0.01M109.2,288.9h0.01M117.5,284.9h0.01M112.9,279.6h0.01M114.8,278.5h0.01M119.9,284.2h0.01M115.4,280.1h0.01M120.2,279.1h0.01M104.8,288.7h0.01M120.7,277.0h0.01M112.9,282.7h0.01M101.9,290.3h0.01M115.3,282.9h0.01M108.1,279.8h0.01M121.3,280.2h0.01M121.1,282.5h0.01M109.1,284.6h0.01M117.6,286.5h0.01M102.4,291.0h0.01M109.5,288.5h0.01M121.0,276.8h0.01M105.5,289.6h0.01M108.4,281.7h0.01M117.1,278.9h0.01M114.6,277.9h0.01M116.8,275.8h0.01M115.9,275.1h0.01M120.3,277.0h0.01M103.2,290.4h0.01M113.1,280.2h0.01M110.3,286.8h0.01M106.5,277.6h0.01M111.0,286.9h0.01M116.3,285.0h0.01M113.2,293.0h0.01M118.1,281.2h0.01M120.9,281.4h0.01M112.3,282.1h0.01M119.6,280.4h0.01M99.7,289.8h0.01M115.8,282.2h0.01M115.6,284.2h0.01M116.4,287.0h0.01M108.6,285.7h0.01M116.0,284.3h0.01M120.1,284.0h0.01M112.0,288.8h0.01M113.8,279.5h0.01M115.6,289.4h0.01M116.6,279.4h0.01M97.3,292.9h0.01M108.8,287.3h0.01M127.8,275.5h0.01M113.0,280.4h0.01M105.4,288.8h0.01M115.3,293.1h0.01M109.3,284.4h0.01M119.6,279.2h0.01M107.7,292.5h0.01M108.6,282.3h0.01M115.6,283.7h0.01M112.0,287.1h0.01M116.1,278.3h0.01M96.5,287.6h0.01M114.2,287.4h0.01M121.2,282.8h0.01M123.8,275.8h0.01M116.4,275.8h0.01M117.6,281.9h0.01M111.5,283.4h0.01M106.4,289.3h0.01M119.7,277.5h0.01M114.8,280.1h0.01M112.6,280.5h0.01M114.7,281.8h0.01M113.6,281.2h0.01M105.3,288.5h0.01M121.7,283.1h0.01M112.3,287.3h0.01M118.0,281.5h0.01M104.2,291.6h0.01M109.1,291.0h0.01M118.5,281.9h0.01M98.9,296.7h0.01M114.7,277.9h0.01M118.7,279.9h0.01M110.5,283.2h0.01M106.0,287.5h0.01M131.4,270.8h0.01M112.9,281.6h0.01M108.2,285.5h0.01M109.1,290.0h0.01M112.7,287.2h0.01M107.6,291.3h0.01M113.8,285.7h0.01M110.6,282.4h0.01M119.2,277.6h0.01M110.4,282.6h0.01M113.3,282.2h0.01M115.1,283.5h0.01M106.3,283.8h0.01M117.0,284.2h0.01M114.9,278.3h0.01M117.1,282.2h0.01M115.2,283.7h0.01M111.3,285.9h0.01M117.4,278.7h0.01M104.1,290.1h0.01M110.8,278.8h0.01M109.8,288.4h0.01M112.1,284.9h0.01M106.9,291.7h0.01M122.8,275.7h0.01M106.5,284.6h0.01M118.3,280.3h0.01M110.2,290.3h0.01M118.4,282.0h0.01M102.2,291.6h0.01M114.4,278.4h0.01M120.8,283.2h0.01M117.7,277.7h0.01M110.2,289.3h0.01M120.8,282.4h0.01M119.7,278.4h0.01M107.1,281.5h0.01M121.4,285.8h0.01M109.2,285.0h0.01M117.3,282.0h0.01M103.4,288.4h0.01M109.8,293.6h0.01M110.0,289.2h0.01M127.4,279.9h0.01M124.1,281.5h0.01M104.9,288.7h0.01M108.0,286.6h0.01M125.4,268.5h0.01M114.0,278.7h0.01M123.0,281.1h0.01M113.4,291.1h0.01M115.5,286.7h0.01M113.7,281.3h0.01M110.3,285.4h0.01M116.7,281.6h0.01M126.4,273.1h0.01M108.8,284.4h0.01M105.7,284.1h0.01M108.5,290.5h0.01M112.9,283.3h0.01M116.7,284.9h0.01M117.8,283.1h0.01M109.0,285.9h0.01M108.0,287.2h0.01M107.3,286.8h0.01M111.4,284.3h0.01M110.4,284.0h0.01M120.0,277.4h0.01M107.2,288.9h0.01M104.5,286.3h0.01M110.4,279.8h0.01M94.2,299.0h0.01M116.0,275.5h0.01M108.5,289.3h0.01M99.5,290.8h0.01M105.3,288.9h0.01M102.7,294.8h0.01M112.5,285.3h0.01M107.2,280.5h0.01M109.6,281.6h0.01M111.4,282.0h0.01M110.6,284.9h0.01M118.7,282.4h0.01M106.8,288.4h0.01M122.3,278.7h0.01M108.3,287.0h0.01M112.4,287.7h0.01M113.7,284.7h0.01M123.5,271.0h0.01M103.8,284.5h0.01M104.9,293.1h0.01M117.4,286.5h0.01M99.6,290.7h0.01M123.1,280.0h0.01M119.6,282.1h0.01M113.0,283.8h0.01M114.5,285.8h0.01M112.4,285.5h0.01M119.4,274.9h0.01M109.3,288.6h0.01M111.0,284.8h0.01M125.9,275.6h0.01M112.2,288.4h0.01M125.8,270.2h0.01M109.0,287.2h0.01M112.8,291.9h0.01M115.2,280.7h0.01M114.3,280.0h0.01M109.4,286.9h0.01M123.0,268.2h0.01M117.6,285.3h0.01M120.5,285.2h0.01M115.7,282.3h0.01M110.5,282.6h0.01M120.4,274.0h0.01M111.2,283.3h0.01M104.3,282.3h0.01M110.8,286.0h0.01M115.1,285.3h0.01M110.7,283.2h0.01M115.8,284.2h0.01M104.8,284.5h0.01M108.6,291.0h0.01M117.2,277.5h0.01M114.9,285.5h0.01M119.5,276.6h0.01M113.8,288.3h0.01M129.7,276.8h0.01M106.8,290.1h0.01M110.9,285.2h0.01M108.0,285.8h0.01M115.9,288.2h0.01M117.7,281.9h0.01M111.7,282.1h0.01M113.6,287.9h0.01M121.1,284.9h0.01M114.3,282.8h0.01M103.9,292.1h0.01M105.2,295.2h0.01M109.1,286.8h0.01M103.9,288.8h0.01M109.3,290.8h0.01M112.2,280.2h0.01M101.2,292.4h0.01M108.0,283.6h0.01M116.0,281.0h0.01M112.4,282.1h0.01M108.6,285.5h0.01M104.4,292.6h0.01M112.2,278.2h0.01M115.4,286.2h0.01M116.5,286.0h0.01M111.2,285.2h0.01M103.5,287.7h0.01M100.4,290.0h0.01M115.1,284.1h0.01M119.9,279.1h0.01M107.7,289.4h0.01M115.0,288.8h0.01M126.1,277.5h0.01M105.2,287.8h0.01M112.7,281.5h0.01M117.1,283.3h0.01M118.2,280.8h0.01M106.1,286.0h0.01M114.4,287.6h0.01M123.8,279.3h0.01M116.1,284.0h0.01M119.9,283.3h0.01M115.2,276.6h0.01M119.1,280.7h0.01M111.0,287.3h0.01M114.4,282.6h0.01M103.0,291.8h0.01M116.0,281.4h0.01M104.2,292.1h0.01M117.4,281.2h0.01M114.7,281.3h0.01M109.8,288.1h0.01M111.0,286.0h0.01M133.3,271.2h0.01M110.8,279.6h0.01M114.7,285.3h0.01M108.2,286.6h0.01M100.4,295.3h0.01M110.5,288.2h0.01M120.6,277.6h0.01M119.1,280.2h0.01M111.1,284.3h0.01M110.0,290.8h0.01M116.3,277.8h0.01M116.5,278.6h0.01M106.0,293.5h0.01M107.3,292.4h0.01M115.5,285.2h0.01M117.8,284.4h0.01M115.9,283.8h0.01M116.2,285.4h0.01M112.3,288.1h0.01M121.6,277.2h0.01M114.5,280.9h0.01M111.5,285.9h0.01M109.2,283.5h0.01M113.0,284.6h0.01M115.9,284.2h0.01M104.8,295.2h0.01M110.4,283.0h0.01M111.4,286.7h0.01M117.3,279.3h0.01M111.0,279.6h0.01M113.6,283.0h0.01M111.8,288.0h0.01M125.2,278.4h0.01M110.8,291.0h0.01M110.8,285.4h0.01M110.2,287.6h0.01M116.3,281.9h0.01M111.3,284.6h0.01M112.1,288.0h0.01M109.5,286.0h0.01M110.3,283.2h0.01M108.9,281.6h0.01M116.2,283.4h0.01M113.7,288.9h0.01M108.9,288.9h0.01M114.7,280.6h0.01M112.9,287.1h0.01M113.7,284.4h0.01M121.4,278.3h0.01M101.7,289.7h0.01M117.5,280.0h0.01M103.0,284.2h0.01M117.3,286.0h0.01M101.7,284.5h0.01M114.8,280.6h0.01M110.5,284.6h0.01M108.3,289.0h0.01M118.8,280.8h0.01M111.3,288.9h0.01M113.2,285.8h0.01M108.4,289.6h0.01M119.4,283.7h0.01M113.7,284.9h0.01M110.9,288.6h0.01M119.2,283.1h0.01M108.4,282.9h0.01M112.0,283.8h0.01M109.5,288.7h0.01M119.0,280.7h0.01M120.0,280.0h0.01M106.1,286.9h0.01M111.9,287.1h0.01M118.4,280.3h0.01M117.3,277.7h0.01M114.7,287.9h0.01M117.2,284.4h0.01M98.9,288.4h0.01M109.5,290.1h0.01M121.3,275.5h0.01M105.3,286.0h0.01M108.6,289.2h0.01M114.2,289.7h0.01M115.9,279.3h0.01M113.9,282.6h0.01M119.0,282.6h0.01M112.3,287.6h0.01M116.0,281.3h0.01M115.5,284.4h0.01M109.8,283.8h0.01M120.2,278.5h0.01M110.2,287.6h0.01M104.3,290.6h0.01M104.2,289.0h0.01M101.2,290.1h0.01M117.7,279.7h0.01M108.7,293.3h0.01M111.7,290.1h0.01M107.3,282.9h0.01M122.8,275.0h0.01M119.3,283.4h0.01M105.3,289.9h0.01M110.5,287.9h0.01M110.6,281.2h0.01M114.5,285.5h0.01M112.1,286.6h0.01M109.7,286.2h0.01M115.1,282.8h0.01M121.8,280.6h0.01M119.0,282.0h0.01M111.8,280.7h0.01M122.0,283.3h0.01M113.7,282.4h0.01M114.7,286.9h0.01M112.8,280.5h0.01M110.5,283.0h0.01M110.2,282.8h0.01M110.3,291.2h0.01M116.2,275.8h0.01M106.4,287.2h0.01M108.2,282.5h0.01M115.3,276.5h0.01M118.1,282.5h0.01M109.6,284.1h0.01M113.5,284.1h0.01M98.6,290.2h0.01M115.7,281.4h0.01M108.8,283.5h0.01M107.5,285.3h0.01M126.9,269.0h0.01M122.6,278.4h0.01M114.4,283.5h0.01M113.4,289.3h0.01M115.8,281.7h0.01M112.5,285.0h0.01M105.7,288.2h0.01M110.3,288.1h0.01M113.2,277.1h0.01M113.3,287.2h0.01M103.4,286.9h0.01M118.4,279.3h0.01M108.2,283.2h0.01M112.9,282.0h0.01M114.8,284.0h0.01M116.4,280.2h0.01M109.9,286.3h0.01M112.6,284.8h0.01M109.4,285.7h0.01M108.5,285.2h0.01M115.7,285.9h0.01M110.8,287.6h0.01M115.0,282.7h0.01M115.8,279.8h0.01M116.6,282.2h0.01M93.3,299.9h0.01M119.7,285.8h0.01M106.9,288.8h0.01M113.2,280.3h0.01M120.6,279.8h0.01M106.2,284.7h0.01M114.5,291.2h0.01M121.1,269.0h0.01M103.4,293.4h0.01M111.2,283.0h0.01M116.5,281.6h0.01M115.0,283.3h0.01M108.8,291.7h0.01M112.1,288.6h0.01M116.9,281.1h0.01M113.6,283.3h0.01M101.6,291.3h0.01M112.6,278.4h0.01M106.1,292.9h0.01M114.9,276.9h0.01M115.4,281.9h0.01M118.0,279.0h0.01M110.3,283.2h0.01M113.7,282.9h0.01M108.5,286.1h0.01M109.5,288.7h0.01M104.2,284.9h0.01M109.1,290.7h0.01M111.0,287.7h0.01M116.3,279.6h0.01M118.1,281.8h0.01M111.4,282.6h0.01M110.3,281.3h0.01M110.2,283.9h0.01M116.0,282.9h0.01M110.6,288.8h0.01M119.9,278.9h0.01M109.4,288.4h0.01M97.6,293.3h0.01M119.7,286.0h0.01M111.2,290.7h0.01M129.7,278.1h0.01M101.0,296.8h0.01M115.7,285.5h0.01M110.7,283.4h0.01M114.1,288.4h0.01M117.2,279.6h0.01M116.6,284.3h0.01M116.1,281.4h0.01M107.7,285.2h0.01M109.3,284.6h0.01M101.2,287.7h0.01M116.0,277.6h0.01M105.1,289.7h0.01M123.5,280.5h0.01M108.6,283.4h0.01M108.1,284.3h0.01M110.4,287.5h0.01M105.2,286.9h0.01M111.2,285.1h0.01M107.0,285.6h0.01M104.9,287.2h0.01M115.5,281.1h0.01M95.6,299.1h0.01M110.9,282.3h0.01M106.1,278.1h0.01M105.1,294.0h0.01M129.2,279.6h0.01M108.6,287.3h0.01M115.3,277.7h0.01M121.8,274.6h0.01M112.9,279.8h0.01M114.9,282.3h0.01M117.2,276.5h0.01M115.9,288.2h0.01M106.4,290.1h0.01M114.5,280.9h0.01M113.7,288.5h0.01M120.5,280.3h0.01M112.4,280.2h0.01M116.5,287.7h0.01M116.7,276.2h0.01M99.4,291.7h0.01M112.8,282.0h0.01M111.6,286.2h0.01M118.5,280.5h0.01M117.7,275.1h0.01M116.3,282.9h0.01M106.2,293.5h0.01M100.8,287.7h0.01M130.9,275.1h0.01M117.4,285.5h0.01M117.7,276.3h0.01M118.1,285.1h0.01M112.0,284.9h0.01M111.3,287.8h0.01M108.5,285.1h0.01M103.9,287.3h0.01M114.9,284.1h0.01M108.7,283.3h0.01M115.5,283.3h0.01M119.5,277.2h0.01M111.3,287.0h0.01M121.8,277.1h0.01M110.7,282.2h0.01M112.2,287.9h0.01M119.8,282.8h0.01M104.5,293.3h0.01M108.3,289.5h0.01M98.5,294.4h0.01M109.8,290.9h0.01M115.8,286.5h0.01M113.6,290.6h0.01M113.5,290.4h0.01M108.2,283.9h0.01M117.5,279.0h0.01M110.1,281.1h0.01M111.0,285.8h0.01M109.3,288.1h0.01M100.7,296.4h0.01M113.0,289.3h0.01M109.6,284.0h0.01M110.6,286.7h0.01M115.6,280.2h0.01M108.8,288.6h0.01M114.7,276.2h0.01M105.4,287.1h0.01M125.2,279.2h0.01M118.5,281.6h0.01M108.1,291.7h0.01M108.8,284.1h0.01M121.9,271.9h0.01M121.5,278.3h0.01M107.6,288.6h0.01M108.1,288.2h0.01M106.9,284.1h0.01M127.9,270.9h0.01M118.6,279.4h0.01M114.6,278.0h0.01M100.8,281.0h0.01M119.6,280.5h0.01M107.2,291.2h0.01M121.5,288.2h0.01M115.9,285.1h0.01M117.9,283.0h0.01M111.9,283.1h0.01M119.3,283.7h0.01M103.8,286.6h0.01M115.7,288.4h0.01M108.6,280.9h0.01M119.0,282.1h0.01M124.8,275.7h0.01M123.4,273.4h0.01M118.5,280.2h0.01M105.2,288.7h0.01M122.8,280.6h0.01M112.5,288.3h0.01M119.8,282.0h0.01M115.1,283.4h0.01M107.8,287.5h0.01M112.3,281.7h0.01M111.4,285.7h0.01M116.0,285.5h0.01M106.0,287.7h0.01M113.8,281.9h0.01M114.0,281.4h0.01M119.5,278.2h0.01M107.3,290.9h0.01M119.4,272.0h0.01M112.2,284.7h0.01M121.7,282.9h0.01M109.2,281.0h0.01M118.6,283.3h0.01M115.8,282.1h0.01M112.3,293.4h0.01M103.0,285.8h0.01M119.2,280.3h0.01M117.5,281.8h0.01M125.4,279.8h0.01M111.3,288.8h0.01M102.8,285.3h0.01M119.3,277.6h0.01M100.0,293.6h0.01M109.8,288.2h0.01M111.2,282.4h0.01M109.9,289.0h0.01M107.5,288.5h0.01M107.7,289.5h0.01M124.5,277.3h0.01M120.3,280.0h0.01M106.6,287.6h0.01M114.0,284.7h0.01M110.3,288.1h0.01M108.7,287.4h0.01M110.8,281.3h0.01M118.9,279.6h0.01M113.4,283.4h0.01M97.8,290.1h0.01M109.2,290.3h0.01M110.5,288.0h0.01M105.2,286.6h0.01M111.9,288.6h0.01M102.6,291.0h0.01M115.5,282.5h0.01M114.1,285.9h0.01M112.8,280.3h0.01M115.3,279.3h0.01M113.4,288.9h0.01M130.0,276.4h0.01M114.0,280.3h0.01M111.2,291.3h0.01M112.4,279.3h0.01M123.3,278.3h0.01M121.4,279.0h0.01M98.7,291.9h0.01M111.7,284.2h0.01M120.7,275.6h0.01M112.2,284.3h0.01M110.5,282.0h0.01M101.0,283.4h0.01M114.5,282.0h0.01M112.2,280.6h0.01M111.2,281.7h0.01M107.4,289.3h0.01M117.7,282.5h0.01M111.9,283.3h0.01M123.4,280.6h0.01M107.2,284.3h0.01M115.6,283.1h0.01M111.4,293.4h0.01M98.9,291.4h0.01M116.0,285.2h0.01M101.0,291.3h0.01M123.9,280.9h0.01M111.4,285.2h0.01M108.3,288.9h0.01M103.0,283.9h0.01M103.9,290.9h0.01M106.9,292.5h0.01M122.3,280.6h0.01M118.7,283.7h0.01M115.9,284.8h0.01M117.0,283.7h0.01M105.6,287.0h0.01M108.3,290.4h0.01M114.5,279.9h0.01M105.9,287.1h0.01M117.9,279.8h0.01M110.2,283.4h0.01M114.9,288.3h0.01M108.1,286.2h0.01M124.2,278.1h0.01M108.0,291.6h0.01M106.3,290.9h0.01M96.0,293.0h0.01M117.3,278.5h0.01M108.6,287.3h0.01M112.0,282.9h0.01M112.0,291.2h0.01M122.3,278.1h0.01M105.1,287.9h0.01M112.0,286.4h0.01M121.5,275.6h0.01M113.0,282.3h0.01M112.5,281.7h0.01M117.1,285.0h0.01M109.9,285.0h0.01M111.2,280.4h0.01M121.3,272.8h0.01M109.2,283.5h0.01M120.9,276.1h0.01M113.2,290.7h0.01M110.8,282.7h0.01M113.2,284.5h0.01M108.1,286.9h0.01M112.9,286.6h0.01M118.9,282.5h0.01M113.5,286.4h0.01M113.6,287.6h0.01M114.5,281.2h0.01M117.6,274.9h0.01M105.7,286.5h0.01M109.9,281.7h0.01M102.4,284.9h0.01M112.2,281.7h0.01M127.3,276.0h0.01M108.4,292.2h0.01M115.4,286.0h0.01M108.3,291.7h0.01M118.7,278.1h0.01M107.1,286.9h0.01M118.6,288.4h0.01M126.3,279.4h0.01M111.0,284.2h0.01M114.6,281.7h0.01M109.7,285.6h0.01M117.8,280.0h0.01M113.8,282.3h0.01M111.1,284.1h0.01M120.8,278.9h0.01M121.5,276.9h0.01M116.8,276.0h0.01M110.4,285.6h0.01M108.9,286.5h0.01M107.1,287.7h0.01M108.9,287.0h0.01M109.3,283.0h0.01M110.5,285.9h0.01M105.4,289.9h0.01M119.9,277.9h0.01M117.2,283.0h0.01M110.4,290.6h0.01M126.0,270.4h0.01M124.4,272.7h0.01M118.4,273.2h0.01M119.9,279.2h0.01M103.8,287.8h0.01M105.0,286.6h0.01M114.8,281.9h0.01M97.4,294.5h0.01M115.8,282.1h0.01M119.7,272.2h0.01M114.4,283.0h0.01M114.8,277.6h0.01M104.8,289.4h0.01M110.1,279.4h0.01M115.0,282.3h0.01M112.7,274.6h0.01M114.3,279.7h0.01M111.4,287.9h0.01M123.2,276.8h0.01M114.5,287.5h0.01M107.3,287.6h0.01M108.1,283.9h0.01M117.6,287.9h0.01M115.2,284.0h0.01M114.6,286.8h0.01M112.4,281.1h0.01M116.0,286.9h0.01M114.4,287.2h0.01M116.0,289.0h0.01M115.7,284.3h0.01M112.6,287.2h0.01M108.9,281.5h0.01M112.5,279.8h0.01M123.1,279.2h0.01M114.2,285.5h0.01M100.1,299.1h0.01M110.2,288.4h0.01M125.3,268.8h0.01M111.0,286.6h0.01M112.4,278.2h0.01M109.9,291.6h0.01M110.2,288.0h0.01M103.1,288.0h0.01M102.5,292.8h0.01M119.9,279.0h0.01M111.6,285.8h0.01M115.1,281.2h0.01M119.6,286.1h0.01M125.1,272.7h0.01M108.7,294.1h0.01M120.8,282.4h0.01M116.1,280.8h0.01M120.6,282.2h0.01M118.0,276.2h0.01M118.4,278.6h0.01M111.4,286.4h0.01M114.9,290.9h0.01M116.7,282.1h0.01M112.2,285.4h0.01M112.5,286.4h0.01M119.5,282.1h0.01M104.8,288.8h0.01M111.2,280.8h0.01M114.9,282.0h0.01M113.9,284.6h0.01M111.9,290.4h0.01M118.1,278.1h0.01M116.9,283.6h0.01M107.7,286.6h0.01M112.5,274.8h0.01M105.6,290.6h0.01M115.0,279.0h0.01M121.9,285.3h0.01M114.1,283.0h0.01M111.5,281.3h0.01M116.5,281.9h0.01M119.8,284.0h0.01M113.4,284.2h0.01M117.9,286.6h0.01M104.2,290.5h0.01M109.4,287.1h0.01M118.0,280.4h0.01M117.6,281.1h0.01M107.5,285.6h0.01M105.1,290.7h0.01M112.0,287.7h0.01M117.1,277.6h0.01M107.5,290.2h0.01M108.0,288.4h0.01M115.8,280.4h0.01M122.1,274.2h0.01M114.7,281.1h0.01M95.5,296.4h0.01M113.0,286.0h0.01M110.8,282.9h0.01M109.3,285.6h0.01M116.9,280.0h0.01M121.7,280.5h0.01M110.3,289.7h0.01M99.5,294.1h0.01M106.9,288.1h0.01M119.8,278.8h0.01M114.1,287.7h0.01M106.9,285.4h0.01M119.8,281.1h0.01M104.7,290.7h0.01M117.3,280.1h0.01M110.7,286.1h0.01M112.9,281.4h0.01M115.1,276.6h0.01M116.2,289.3h0.01M106.5,288.6h0.01M97.9,292.2h0.01M106.1,289.3h0.01M113.2,290.5h0.01M107.3,288.0h0.01M115.3,284.5h0.01M115.5,276.3h0.01M125.4,273.5h0.01M105.8,283.3h0.01M107.1,281.8h0.01M112.9,281.8h0.01M113.4,280.7h0.01M117.2,288.8h0.01M120.1,279.1h0.01M109.6,291.8h0.01M100.3,288.2h0.01M119.5,276.8h0.01M121.9,279.3h0.01M128.9,278.4h0.01M115.2,279.9h0.01M118.8,284.6h0.01M108.6,276.6h0.01M110.0,284.8h0.01M111.9,283.4h0.01M117.4,275.9h0.01M112.0,277.4h0.01M98.2,291.3h0.01M106.8,285.2h0.01M109.7,288.5h0.01M116.4,281.6h0.01M112.8,281.5h0.01M104.5,285.1h0.01M108.4,283.2h0.01M112.2,287.1h0.01M118.4,284.6h0.01M103.5,283.0h0.01M109.7,293.6h0.01M116.2,279.9h0.01M119.9,277.1h0.01M122.0,275.6h0.01M111.6,287.4h0.01M105.7,288.7h0.01M125.1,276.4h0.01M105.8,288.3h0.01M111.3,282.4h0.01M117.4,285.1h0.01M114.6,285.8h0.01M114.8,283.0h0.01M110.0,289.6h0.01M120.0,276.9h0.01M108.5,289.1h0.01M115.4,286.2h0.01M115.5,281.5h0.01M105.7,291.6h0.01M111.2,280.6h0.01M100.8,286.4h0.01M115.7,280.2h0.01M91.6,296.7h0.01M108.8,286.6h0.01M112.4,283.1h0.01M119.0,283.1h0.01M114.2,288.7h0.01M110.5,282.6h0.01M111.2,280.0h0.01M109.2,282.9h0.01M110.6,286.4h0.01M98.9,295.8h0.01M114.0,282.3h0.01M117.6,281.6h0.01M108.9,283.3h0.01M118.4,282.5h0.01M102.8,288.9h0.01M107.2,291.2h0.01M107.2,283.7h0.01M122.5,278.4h0.01M114.6,283.5h0.01M111.8,284.9h0.01M118.9,281.1h0.01M110.2,286.3h0.01M122.9,274.4h0.01M105.1,290.1h0.01M110.6,295.2h0.01M117.5,282.6h0.01M118.4,287.0h0.01M106.6,288.4h0.01M105.0,294.3h0.01M115.4,288.5h0.01M109.3,282.8h0.01M110.0,289.0h0.01M108.3,288.3h0.01M107.2,285.6h0.01M112.3,290.3h0.01M106.9,289.6h0.01M116.2,278.7h0.01M106.4,294.2h0.01M122.6,275.7h0.01M107.1,291.4h0.01M111.1,282.3h0.01M106.2,280.2h0.01M105.7,284.8h0.01M105.9,291.3h0.01M117.3,286.8h0.01M95.6,294.5h0.01M110.0,290.9h0.01M119.1,279.7h0.01M111.9,281.9h0.01M108.8,285.3h0.01M101.0,299.7h0.01M120.7,285.6h0.01M120.9,279.7h0.01M114.7,276.4h0.01M108.1,290.6h0.01M107.6,282.0h0.01M110.3,281.1h0.01M115.4,287.7h0.01M105.1,288.1h0.01M115.9,281.5h0.01M112.3,281.2h0.01M106.5,280.0h0.01M113.9,287.8h0.01M105.6,288.6h0.01M119.0,283.7h0.01M118.1,276.7h0.01M113.2,290.0h0.01M110.4,286.8h0.01M106.4,286.3h0.01M93.9,296.1h0.01M97.7,291.5h0.01M109.1,291.6h0.01M117.9,281.6h0.01M107.1,283.1h0.01M114.0,279.9h0.01M113.6,286.8h0.01M111.4,284.8h0.01M108.5,291.0h0.01M117.0,283.3h0.01M119.5,272.9h0.01M113.9,285.4h0.01M115.1,283.3h0.01M112.7,278.4h0.01M114.2,287.1h0.01M111.9,283.8h0.01M114.6,276.1h0.01M117.7,285.8h0.01M109.6,283.3h0.01M115.0,280.6h0.01M108.0,288.1h0.01M103.8,293.1h0.01M104.4,288.2h0.01M116.9,280.7h0.01M116.6,286.1h0.01M125.4,282.1h0.01M110.9,288.7h0.01M104.1,293.4h0.01M119.1,276.5h0.01M116.9,283.9h0.01M110.5,283.3h0.01M119.3,274.2h0.01M115.3,285.6h0.01M116.8,286.7h0.01M122.3,278.5h0.01M124.6,277.8h0.01M104.6,288.8h0.01M114.6,283.3h0.01M106.5,297.1h0.01M101.2,288.4h0.01M115.6,282.5h0.01M122.2,277.7h0.01M116.2,284.1h0.01M105.9,284.3h0.01M111.6,288.5h0.01M113.1,288.3h0.01M110.6,288.3h0.01M114.3,285.9h0.01M113.0,284.5h0.01M112.0,289.1h0.01M113.3,285.4h0.01M115.0,279.0h0.01M107.6,287.7h0.01M118.4,275.8h0.01M104.8,286.3h0.01M108.4,283.3h0.01M108.7,289.0h0.01M106.1,288.9h0.01M105.2,288.9h0.01M112.2,277.0h0.01M113.4,284.3h0.01M112.7,284.9h0.01M112.8,279.1h0.01M113.1,286.1h0.01M118.0,275.0h0.01M106.7,283.5h0.01M110.7,281.6h0.01M108.1,290.3h0.01M122.5,269.1h0.01M120.9,274.5h0.01M117.4,281.8h0.01M119.7,278.0h0.01M107.6,287.6h0.01M115.8,278.4h0.01M115.1,282.2h0.01M113.8,283.3h0.01M117.7,283.2h0.01M110.3,284.5h0.01M98.3,291.6h0.01M104.7,292.5h0.01M105.0,287.2h0.01M117.6,284.0h0.01M118.5,276.6h0.01M116.0,285.5h0.01M107.2,287.3h0.01M104.3,288.0h0.01M117.1,281.1h0.01M109.5,284.4h0.01M123.1,279.0h0.01M109.1,294.7h0.01M110.0,285.5h0.01M108.8,284.9h0.01M114.0,277.8h0.01M112.3,283.1h0.01M123.8,277.1h0.01M116.2,283.3h0.01M116.5,281.7h0.01M98.8,296.0h0.01M112.0,287.1h0.01M113.6,281.4h0.01M105.6,285.6h0.01M114.2,282.5h0.01M106.8,287.1h0.01M113.6,280.9h0.01M110.9,283.2h0.01M97.4,295.8h0.01M114.5,285.6h0.01M119.2,276.5h0.01M116.7,282.0h0.01M114.6,285.6h0.01M115.7,277.2h0.01M121.2,277.0h0.01M107.5,285.4h0.01M109.4,282.4h0.01M120.0,280.2h0.01M108.8,290.0h0.01M114.3,283.2h0.01M118.3,279.5h0.01M112.0,286.4h0.01M99.7,289.4h0.01M117.6,284.3h0.01M102.7,291.6h0.01M108.3,286.3h0.01M118.9,284.8h0.01M124.9,278.4h0.01M116.8,281.5h0.01M102.3,293.3h0.01M103.7,286.7h0.01M110.7,279.8h0.01M124.3,277.5h0.01M115.7,283.5h0.01M114.3,283.1h0.01M115.8,279.3h0.01M114.6,283.2h0.01M115.4,278.0h0.01M114.0,282.6h0.01M117.4,282.5h0.01M114.6,284.3h0.01M117.8,285.2h0.01M115.5,283.9h0.01M106.8,287.7h0.01M119.1,283.0h0.01M106.9,288.3h0.01M111.2,285.4h0.01M109.1,285.2h0.01M112.6,284.6h0.01M117.3,277.5h0.01M108.4,290.1h0.01M115.4,281.3h0.01M107.7,291.6h0.01M108.3,291.4h0.01M114.0,282.6h0.01M113.2,286.7h0.01M109.8,279.9h0.01M104.8,282.1h0.01M116.7,284.4h0.01M116.5,276.3h0.01M128.5,278.8h0.01M108.6,279.9h0.01M109.4,290.3h0.01M124.1,273.6h0.01M100.1,290.0h0.01M124.1,275.5h0.01M100.7,285.4h0.01M117.9,283.1h0.01M109.5,285.7h0.01M112.6,282.9h0.01M108.5,285.1h0.01M111.4,289.5h0.01M116.9,284.6h0.01M119.7,270.5h0.01M114.0,286.5h0.01M110.4,283.6h0.01M114.2,281.0h0.01M107.2,287.1h0.01M113.1,283.8h0.01M118.1,280.1h0.01M115.2,293.2h0.01M110.9,284.4h0.01M110.7,283.0h0.01M103.7,291.5h0.01M118.2,273.3h0.01M109.0,288.4h0.01M109.6,288.3h0.01M110.5,281.7h0.01M110.5,283.8h0.01M111.5,275.7h0.01M117.5,285.3h0.01M92.6,301.2h0.01M90.8,298.0h0.01M105.6,290.5h0.01M90.9,302.5h0.01M108.1,285.4h0.01M109.3,288.9h0.01M105.4,291.2h0.01M87.2,305.5h0.01M102.8,295.8h0.01M108.5,289.7h0.01M104.2,285.5h0.01M98.0,293.4h0.01M106.6,289.5h0.01M106.2,287.7h0.01M84.8,306.8h0.01M100.5,294.3h0.01M89.5,305.8h0.01M108.6,288.1h0.01M91.8,302.0h0.01M105.0,295.3h0.01M97.7,298.7h0.01M96.6,297.5h0.01M99.8,297.2h0.01M91.5,303.9h0.01M103.0,289.4h0.01M91.4,306.0h0.01M96.1,298.3h0.01M100.3,295.9h0.01M110.9,285.6h0.01M105.4,294.0h0.01M107.4,291.5h0.01M97.5,300.9h0.01M91.9,302.0h0.01M102.0,290.3h0.01M94.4,300.3h0.01M97.8,302.9h0.01M91.4,300.5h0.01M114.5,282.6h0.01M94.3,292.8h0.01M110.5,287.8h0.01M85.2,303.9h0.01M110.2,291.0h0.01M96.5,301.9h0.01M106.2,292.9h0.01M105.2,287.7h0.01M90.3,303.2h0.01M106.3,290.3h0.01M95.4,299.8h0.01M112.5,284.5h0.01M103.4,289.9h0.01M104.4,287.7h0.01M110.7,289.2h0.01M94.9,300.3h0.01M103.0,294.9h0.01M110.6,282.6h0.01M107.5,292.1h0.01M92.7,301.7h0.01M109.9,286.3h0.01M97.4,298.0h0.01M104.5,290.7h0.01M93.2,297.9h0.01M109.2,290.7h0.01M91.1,304.7h0.01M93.7,298.9h0.01M104.5,289.0h0.01M91.9,301.8h0.01M107.9,288.6h0.01M97.3,295.4h0.01M85.3,307.3h0.01M110.3,292.3h0.01" stroke="#111" stroke-width="1.35" stroke-linecap="round" fill="none"/>
<circle cx="166.20" cy="219.20" r="0.55" fill="#222" stroke="none" stroke-width="0.5"/>
<circle cx="182.30" cy="220.20" r="0.55" fill="#222" stroke="none" stroke-width="0.5"/>
<circle cx="170.60" cy="225.40" r="0.55" fill="#222" stroke="none" stroke-width="0.5"/>
<circle cx="149.50" cy="236.50" r="0.55" fill="#222" stroke="none" stroke-width="0.5"/>
<circle cx="162.00" cy="231.00" r="0.55" fill="#222" stroke="none" stroke-width="0.5"/>
<circle cx="140.80" cy="244.00" r="0.55" fill="#222" stroke="none" stroke-width="0.5"/>
<circle cx="156.40" cy="241.70" r="0.55" fill="#222" stroke="none" stroke-width="0.5"/>
<circle cx="146.70" cy="253.80" r="0.55" fill="#222" stroke="none" stroke-width="0.5"/>
<circle cx="140.30" cy="249.10" r="0.55" fill="#222" stroke="none" stroke-width="0.5"/>
<circle cx="133.00" cy="250.00" r="0.55" fill="#222" stroke="none" stroke-width="0.5"/>
<circle cx="128.00" cy="255.00" r="0.55" fill="#222" stroke="none" stroke-width="0.5"/>
<circle cx="121.00" cy="262.00" r="0.55" fill="#222" stroke="none" stroke-width="0.5"/>
<circle cx="124.00" cy="259.00" r="0.55" fill="#222" stroke="none" stroke-width="0.5"/>
<circle cx="117.00" cy="265.00" r="0.55" fill="#222" stroke="none" stroke-width="0.5"/>
<circle cx="95.00" cy="290.00" r="0.55" fill="#222" stroke="none" stroke-width="0.5"/>
<circle cx="92.00" cy="296.00" r="0.55" fill="#222" stroke="none" stroke-width="0.5"/>
<circle cx="86.00" cy="300.00" r="0.55" fill="#222" stroke="none" stroke-width="0.5"/>
<circle cx="83.00" cy="304.00" r="0.55" fill="#222" stroke="none" stroke-width="0.5"/>
<circle cx="80.00" cy="306.00" r="0.55" fill="#222" stroke="none" stroke-width="0.5"/>
<circle cx="76.00" cy="308.00" r="0.55" fill="#222" stroke="none" stroke-width="0.5"/>
<circle cx="99.00" cy="296.00" r="0.55" fill="#222" stroke="none" stroke-width="0.5"/>
<circle cx="88.00" cy="302.00" r="0.55" fill="#222" stroke="none" stroke-width="0.5"/>
<circle cx="135.00" cy="263.00" r="0.55" fill="#222" stroke="none" stroke-width="0.5"/>
<circle cx="139.00" cy="258.00" r="0.55" fill="#222" stroke="none" stroke-width="0.5"/>
<circle cx="147.00" cy="255.00" r="0.55" fill="#222" stroke="none" stroke-width="0.5"/>
<circle cx="153.00" cy="250.00" r="0.55" fill="#222" stroke="none" stroke-width="0.5"/>
<circle cx="158.00" cy="246.00" r="0.55" fill="#222" stroke="none" stroke-width="0.5"/>
<circle cx="175.00" cy="232.00" r="0.55" fill="#222" stroke="none" stroke-width="0.5"/>
<circle cx="187.00" cy="226.00" r="0.55" fill="#222" stroke="none" stroke-width="0.5"/>
<circle cx="128.00" cy="271.00" r="0.55" fill="#222" stroke="none" stroke-width="0.5"/>
<circle cx="132.00" cy="274.00" r="0.55" fill="#222" stroke="none" stroke-width="0.5"/>
<circle cx="123.00" cy="283.00" r="0.55" fill="#222" stroke="none" stroke-width="0.5"/>
<circle cx="129.00" cy="289.00" r="0.55" fill="#222" stroke="none" stroke-width="0.5"/>
<circle cx="120.00" cy="292.00" r="0.55" fill="#222" stroke="none" stroke-width="0.5"/>
<circle cx="114.00" cy="300.00" r="0.55" fill="#222" stroke="none" stroke-width="0.5"/>
<circle cx="105.00" cy="304.00" r="0.55" fill="#222" stroke="none" stroke-width="0.5"/>
<circle cx="97.00" cy="309.00" r="0.55" fill="#222" stroke="none" stroke-width="0.5"/>
<circle cx="90.00" cy="312.00" r="0.55" fill="#222" stroke="none" stroke-width="0.5"/>
<circle cx="102.00" cy="300.00" r="0.55" fill="#222" stroke="none" stroke-width="0.5"/>
<circle cx="82.00" cy="313.00" r="0.55" fill="#222" stroke="none" stroke-width="0.5"/>
<circle cx="94.00" cy="304.00" r="0.55" fill="#222" stroke="none" stroke-width="0.5"/>
<circle cx="118.00" cy="296.00" r="0.55" fill="#222" stroke="none" stroke-width="0.5"/>
<circle cx="115.00" cy="287.00" r="0.55" fill="#222" stroke="none" stroke-width="0.5"/>
<circle cx="120.00" cy="278.00" r="0.55" fill="#222" stroke="none" stroke-width="0.5"/>
<circle cx="125.00" cy="277.00" r="0.55" fill="#222" stroke="none" stroke-width="0.5"/>
<circle cx="106.00" cy="272.00" r="0.55" fill="#222" stroke="none" stroke-width="0.5"/>
<circle cx="104.00" cy="276.00" r="0.55" fill="#222" stroke="none" stroke-width="0.5"/>
<circle cx="100.00" cy="279.00" r="0.55" fill="#222" stroke="none" stroke-width="0.5"/>
<circle cx="84.00" cy="282.00" r="0.55" fill="#222" stroke="none" stroke-width="0.5"/>
<circle cx="93.00" cy="286.00" r="0.55" fill="#222" stroke="none" stroke-width="0.5"/>
<circle cx="112.00" cy="266.00" r="0.55" fill="#222" stroke="none" stroke-width="0.5"/>
<circle cx="108.00" cy="268.00" r="0.55" fill="#222" stroke="none" stroke-width="0.5"/>
<circle cx="144.00" cy="259.00" r="0.55" fill="#222" stroke="none" stroke-width="0.5"/>
<circle cx="152.00" cy="247.00" r="0.55" fill="#222" stroke="none" stroke-width="0.5"/>
<circle cx="168.00" cy="238.00" r="0.55" fill="#222" stroke="none" stroke-width="0.5"/>
<circle cx="160.00" cy="245.00" r="0.55" fill="#222" stroke="none" stroke-width="0.5"/>
<circle cx="110.00" cy="298.00" r="0.55" fill="#222" stroke="none" stroke-width="0.5"/>
<circle cx="131.00" cy="268.00" r="0.55" fill="#222" stroke="none" stroke-width="0.5"/>
<circle cx="100.00" cy="292.00" r="0.55" fill="#222" stroke="none" stroke-width="0.5"/>
<line x1="45.20" y1="214.00" x2="45.20" y2="335.30" stroke="#222" stroke-width="1.1" />
<line x1="42.30" y1="335.30" x2="206.00" y2="335.30" stroke="#222" stroke-width="1.1" />
<line x1="42.70" y1="219.00" x2="45.20" y2="219.00" stroke="#222" stroke-width="1" />
<text x="39.30" y="221.81" font-size="7.8" fill="#222" text-anchor="end" >3</text>
<line x1="42.70" y1="241.50" x2="45.20" y2="241.50" stroke="#222" stroke-width="1" />
<text x="39.30" y="244.31" font-size="7.8" fill="#222" text-anchor="end" >2</text>
<line x1="42.70" y1="263.80" x2="45.20" y2="263.80" stroke="#222" stroke-width="1" />
<text x="39.30" y="266.61" font-size="7.8" fill="#222" text-anchor="end" >1</text>
<line x1="42.70" y1="285.40" x2="45.20" y2="285.40" stroke="#222" stroke-width="1" />
<text x="39.30" y="288.21" font-size="7.8" fill="#222" text-anchor="end" >0</text>
<line x1="42.70" y1="308.00" x2="45.20" y2="308.00" stroke="#222" stroke-width="1" />
<text x="39.30" y="310.81" font-size="7.8" fill="#222" text-anchor="end" >−1</text>
<line x1="42.70" y1="335.30" x2="45.20" y2="335.30" stroke="#222" stroke-width="1" />
<text x="39.30" y="338.11" font-size="7.8" fill="#222" text-anchor="end" >−2</text>
<line x1="53.80" y1="335.30" x2="53.80" y2="337.80" stroke="#222" stroke-width="1" />
<text x="53.80" y="348.21" font-size="7.8" fill="#222" text-anchor="middle" >−2</text>
<line x1="83.40" y1="335.30" x2="83.40" y2="337.80" stroke="#222" stroke-width="1" />
<text x="83.40" y="348.21" font-size="7.8" fill="#222" text-anchor="middle" >−1</text>
<line x1="110.60" y1="335.30" x2="110.60" y2="337.80" stroke="#222" stroke-width="1" />
<text x="110.60" y="348.21" font-size="7.8" fill="#222" text-anchor="middle" >0</text>
<line x1="139.40" y1="335.30" x2="139.40" y2="337.80" stroke="#222" stroke-width="1" />
<text x="139.40" y="348.21" font-size="7.8" fill="#222" text-anchor="middle" >1</text>
<line x1="168.50" y1="335.30" x2="168.50" y2="337.80" stroke="#222" stroke-width="1" />
<text x="168.50" y="348.21" font-size="7.8" fill="#222" text-anchor="middle" >2</text>
<line x1="198.20" y1="335.30" x2="198.20" y2="337.80" stroke="#222" stroke-width="1" />
<text x="198.20" y="348.21" font-size="7.8" fill="#222" text-anchor="middle" >3</text>
<text x="123.50" y="361.26" font-size="8.5" fill="#222" text-anchor="middle" font-weight="bold" textLength="22" lengthAdjust="spacingAndGlyphs" >FC(HC)</text>
<text x="22.20" y="277.76" font-size="8.5" fill="#222" text-anchor="middle" font-weight="bold" textLength="21" lengthAdjust="spacingAndGlyphs" transform="rotate(-90 22.20 274.70)" >FC(PV)</text>
<text x="148.90" y="219.80" font-size="6.4" fill="#333" textLength="15.6" lengthAdjust="spacingAndGlyphs" >ISG15</text>
<text x="172.30" y="226.00" font-size="6.4" fill="#333" textLength="8.7" lengthAdjust="spacingAndGlyphs" >IFI6</text>
<text x="136.00" y="235.00" font-size="6.4" fill="#333" textLength="16.4" lengthAdjust="spacingAndGlyphs" >RSAD2</text>
<text x="159.00" y="237.30" font-size="6.4" fill="#333" textLength="13.3" lengthAdjust="spacingAndGlyphs" >IFI44L</text>
<text x="128.70" y="242.40" font-size="6.4" fill="#333" textLength="11.1" lengthAdjust="spacingAndGlyphs" >IFIT1</text>
<text x="142.90" y="247.10" font-size="6.4" fill="#333" textLength="14.7" lengthAdjust="spacingAndGlyphs" >HLA-B</text>
<text x="110.90" y="249.20" font-size="6.4" fill="#333" textLength="15.5" lengthAdjust="spacingAndGlyphs" >HLA-C</text>
<text x="130.80" y="254.00" font-size="6.4" fill="#333" textLength="15.5" lengthAdjust="spacingAndGlyphs" >HLA-A</text>
<text x="113.10" y="263.00" font-size="6.4" fill="#333" textLength="11.1" lengthAdjust="spacingAndGlyphs" >IFIT2</text>
<text x="88.50" y="270.00" font-size="6.4" fill="#333" textLength="22.3" lengthAdjust="spacingAndGlyphs" >SERINC1</text>
<text x="63.50" y="276.50" font-size="6.4" fill="#333" textLength="26" lengthAdjust="spacingAndGlyphs" >HIST1H1D</text>
<text x="91.50" y="276.50" font-size="6.4" fill="#333" textLength="15.5" lengthAdjust="spacingAndGlyphs" >GYPB</text>
<text x="86.20" y="283.10" font-size="6.4" fill="#333" textLength="9.2" lengthAdjust="spacingAndGlyphs" >CA2</text>
<text x="76.90" y="295.70" font-size="6.4" fill="#333" textLength="9.3" lengthAdjust="spacingAndGlyphs" >CA1</text>
<text x="135.40" y="280.80" font-size="6.4" fill="#333" textLength="21.5" lengthAdjust="spacingAndGlyphs" >ATP5ME</text>
<text x="130.00" y="287.70" font-size="6.4" fill="#333" textLength="16.9" lengthAdjust="spacingAndGlyphs" >GDF15</text>
<text x="127.70" y="293.50" font-size="6.4" fill="#333" textLength="6.9" lengthAdjust="spacingAndGlyphs" >PI1</text>
<text x="111.20" y="301.80" font-size="6.4" fill="#333" textLength="11.9" lengthAdjust="spacingAndGlyphs" >HBG1</text>
<text x="129.20" y="300.80" font-size="6.4" fill="#333" textLength="21.8" lengthAdjust="spacingAndGlyphs" >S100A4</text>
<text x="138.50" y="306.90" font-size="6.4" fill="#333" textLength="21.5" lengthAdjust="spacingAndGlyphs" >GAPDH</text>
<line x1="126.40" y1="247.00" x2="140.30" y2="249.10" stroke="#555" stroke-width="0.5" />
<line x1="107.00" y1="275.50" x2="113.00" y2="279.00" stroke="#555" stroke-width="0.5" />
<line x1="95.40" y1="281.00" x2="100.00" y2="283.00" stroke="#555" stroke-width="0.5" />
<line x1="134.60" y1="292.00" x2="128.00" y2="288.00" stroke="#555" stroke-width="0.5" />
<line x1="129.20" y1="298.00" x2="124.00" y2="292.00" stroke="#555" stroke-width="0.5" />
<line x1="138.50" y1="304.00" x2="127.00" y2="293.00" stroke="#555" stroke-width="0.5" />
<line x1="123.00" y1="298.00" x2="121.00" y2="294.00" stroke="#555" stroke-width="0.5" />
<line x1="135.40" y1="279.00" x2="131.00" y2="281.00" stroke="#555" stroke-width="0.5" />
<text x="221.90" y="207.70" font-size="11" fill="#111" font-weight="bold" >D</text>
<line x1="274.60" y1="237.00" x2="274.60" y2="335.30" stroke="#333" stroke-width="1.1" />
<line x1="274.60" y1="335.30" x2="336.00" y2="335.30" stroke="#333" stroke-width="1.1" />
<line x1="271.60" y1="335.30" x2="274.60" y2="335.30" stroke="#333" stroke-width="1" />
<text x="268.50" y="338.18" font-size="8" fill="#222" text-anchor="end" >1</text>
<line x1="271.60" y1="311.58" x2="274.60" y2="311.58" stroke="#333" stroke-width="1" />
<text x="268.50" y="314.46" font-size="8" fill="#222" text-anchor="end" >10</text>
<line x1="271.60" y1="287.86" x2="274.60" y2="287.86" stroke="#333" stroke-width="1" />
<text x="268.50" y="290.74" font-size="8" fill="#222" text-anchor="end" >100</text>
<line x1="271.60" y1="264.14" x2="274.60" y2="264.14" stroke="#333" stroke-width="1" />
<text x="268.50" y="267.02" font-size="8" fill="#222" text-anchor="end" >1000</text>
<line x1="271.60" y1="240.42" x2="274.60" y2="240.42" stroke="#333" stroke-width="1" />
<text x="268.50" y="243.30" font-size="8" fill="#222" text-anchor="end" >10000</text>
<text x="225.90" y="289.04" font-size="9" fill="#222" text-anchor="middle" textLength="51.5" lengthAdjust="spacingAndGlyphs" transform="rotate(-90 225.90 285.80)" ><tspan font-style="italic">STAT1</tspan> expression</text>
<text x="236.60" y="289.84" font-size="9" fill="#222" text-anchor="middle" textLength="90" lengthAdjust="spacingAndGlyphs" transform="rotate(-90 236.60 286.60)" >[% <tspan font-style="italic">MT-ATP6</tspan>, median ± range]</text>
<line x1="284.10" y1="274.80" x2="284.10" y2="313.30" stroke="#666" stroke-width="0.9" />
<rect x="279.30" y="282.00" width="9.60" height="13.70" fill="#fbe2b0" stroke="#6a5a40" stroke-width="0.7" />
<line x1="279.30" y1="289.00" x2="288.90" y2="289.00" stroke="#6a5a40" stroke-width="0.7" />
<circle cx="284.10" cy="274.80" r="1.55" fill="#e8a526" stroke="#4a3000" stroke-width="0.7"/>
<circle cx="286.70" cy="275.00" r="1.55" fill="#e8a526" stroke="#4a3000" stroke-width="0.7"/>
<circle cx="284.10" cy="280.00" r="1.55" fill="#e8a526" stroke="#4a3000" stroke-width="0.7"/>
<circle cx="285.40" cy="281.61" r="1.55" fill="#e8a526" stroke="#4a3000" stroke-width="0.7"/>
<circle cx="284.10" cy="283.84" r="1.55" fill="#e8a526" stroke="#4a3000" stroke-width="0.7"/>
<circle cx="285.40" cy="285.49" r="1.55" fill="#e8a526" stroke="#4a3000" stroke-width="0.7"/>
<circle cx="284.10" cy="288.16" r="1.55" fill="#e8a526" stroke="#4a3000" stroke-width="0.7"/>
<circle cx="286.70" cy="288.79" r="1.55" fill="#e8a526" stroke="#4a3000" stroke-width="0.7"/>
<circle cx="284.10" cy="290.93" r="1.55" fill="#e8a526" stroke="#4a3000" stroke-width="0.7"/>
<circle cx="285.40" cy="292.46" r="1.55" fill="#e8a526" stroke="#4a3000" stroke-width="0.7"/>
<circle cx="282.80" cy="292.81" r="1.55" fill="#e8a526" stroke="#4a3000" stroke-width="0.7"/>
<circle cx="280.87" cy="293.61" r="1.55" fill="#e8a526" stroke="#4a3000" stroke-width="0.7"/>
<circle cx="284.10" cy="295.74" r="1.55" fill="#e8a526" stroke="#4a3000" stroke-width="0.7"/>
<circle cx="286.70" cy="296.24" r="1.55" fill="#e8a526" stroke="#4a3000" stroke-width="0.7"/>
<circle cx="284.10" cy="303.32" r="1.55" fill="#e8a526" stroke="#4a3000" stroke-width="0.7"/>
<circle cx="284.10" cy="313.30" r="1.55" fill="#e8a526" stroke="#4a3000" stroke-width="0.7"/>
<line x1="298.00" y1="271.30" x2="298.00" y2="325.30" stroke="#666" stroke-width="0.9" />
<rect x="293.20" y="277.70" width="9.60" height="15.60" fill="#c6e3f1" stroke="#45606a" stroke-width="0.7" />
<line x1="293.20" y1="285.00" x2="302.80" y2="285.00" stroke="#45606a" stroke-width="0.7" />
<circle cx="298.00" cy="271.30" r="1.55" fill="#3c9ec4" stroke="#10384a" stroke-width="0.7"/>
<circle cx="299.30" cy="273.02" r="1.55" fill="#3c9ec4" stroke="#10384a" stroke-width="0.7"/>
<circle cx="296.70" cy="273.82" r="1.55" fill="#3c9ec4" stroke="#10384a" stroke-width="0.7"/>
<circle cx="298.00" cy="278.58" r="1.55" fill="#3c9ec4" stroke="#10384a" stroke-width="0.7"/>
<circle cx="300.60" cy="279.02" r="1.55" fill="#3c9ec4" stroke="#10384a" stroke-width="0.7"/>
<circle cx="298.00" cy="282.51" r="1.55" fill="#3c9ec4" stroke="#10384a" stroke-width="0.7"/>
<circle cx="298.00" cy="288.15" r="1.55" fill="#3c9ec4" stroke="#10384a" stroke-width="0.7"/>
<circle cx="300.60" cy="289.18" r="1.55" fill="#3c9ec4" stroke="#10384a" stroke-width="0.7"/>
<circle cx="298.00" cy="290.73" r="1.55" fill="#3c9ec4" stroke="#10384a" stroke-width="0.7"/>
<circle cx="299.30" cy="292.49" r="1.55" fill="#3c9ec4" stroke="#10384a" stroke-width="0.7"/>
<circle cx="296.70" cy="292.61" r="1.55" fill="#3c9ec4" stroke="#10384a" stroke-width="0.7"/>
<circle cx="298.00" cy="298.37" r="1.55" fill="#3c9ec4" stroke="#10384a" stroke-width="0.7"/>
<circle cx="298.00" cy="310.71" r="1.55" fill="#3c9ec4" stroke="#10384a" stroke-width="0.7"/>
<circle cx="298.00" cy="312.72" r="1.55" fill="#3c9ec4" stroke="#10384a" stroke-width="0.7"/>
<circle cx="298.00" cy="325.13" r="1.55" fill="#3c9ec4" stroke="#10384a" stroke-width="0.7"/>
<circle cx="300.60" cy="325.30" r="1.55" fill="#3c9ec4" stroke="#10384a" stroke-width="0.7"/>
<line x1="312.00" y1="268.90" x2="312.00" y2="323.70" stroke="#666" stroke-width="0.9" />
<rect x="307.50" y="294.90" width="9.00" height="16.00" fill="#f2a3a6" stroke="#5a1020" stroke-width="0.7" />
<line x1="307.50" y1="303.00" x2="316.50" y2="303.00" stroke="#5a1020" stroke-width="0.7" />
<circle cx="312.00" cy="268.90" r="1.55" fill="#a8102e" stroke="#3a0008" stroke-width="0.7"/>
<circle cx="312.00" cy="272.44" r="1.55" fill="#a8102e" stroke="#3a0008" stroke-width="0.7"/>
<circle cx="312.00" cy="278.02" r="1.55" fill="#a8102e" stroke="#3a0008" stroke-width="0.7"/>
<circle cx="312.00" cy="282.09" r="1.55" fill="#a8102e" stroke="#3a0008" stroke-width="0.7"/>
<circle cx="312.00" cy="285.19" r="1.55" fill="#a8102e" stroke="#3a0008" stroke-width="0.7"/>
<circle cx="312.00" cy="287.59" r="1.55" fill="#a8102e" stroke="#3a0008" stroke-width="0.7"/>
<circle cx="314.60" cy="288.61" r="1.55" fill="#a8102e" stroke="#3a0008" stroke-width="0.7"/>
<circle cx="312.00" cy="291.40" r="1.55" fill="#a8102e" stroke="#3a0008" stroke-width="0.7"/>
<circle cx="312.00" cy="294.00" r="1.55" fill="#a8102e" stroke="#3a0008" stroke-width="0.7"/>
<circle cx="314.60" cy="295.11" r="1.55" fill="#a8102e" stroke="#3a0008" stroke-width="0.7"/>
<circle cx="310.70" cy="295.95" r="1.55" fill="#a8102e" stroke="#3a0008" stroke-width="0.7"/>
<circle cx="313.30" cy="297.31" r="1.55" fill="#a8102e" stroke="#3a0008" stroke-width="0.7"/>
<circle cx="310.70" cy="298.65" r="1.55" fill="#a8102e" stroke="#3a0008" stroke-width="0.7"/>
<circle cx="314.92" cy="298.71" r="1.55" fill="#a8102e" stroke="#3a0008" stroke-width="0.7"/>
<circle cx="314.75" cy="299.05" r="1.55" fill="#a8102e" stroke="#3a0008" stroke-width="0.7"/>
<circle cx="312.00" cy="300.82" r="1.55" fill="#a8102e" stroke="#3a0008" stroke-width="0.7"/>
<circle cx="313.30" cy="302.42" r="1.55" fill="#a8102e" stroke="#3a0008" stroke-width="0.7"/>
<circle cx="310.70" cy="302.52" r="1.55" fill="#a8102e" stroke="#3a0008" stroke-width="0.7"/>
<circle cx="309.03" cy="303.27" r="1.55" fill="#a8102e" stroke="#3a0008" stroke-width="0.7"/>
<circle cx="315.33" cy="303.61" r="1.55" fill="#a8102e" stroke="#3a0008" stroke-width="0.7"/>
<circle cx="312.00" cy="304.56" r="1.55" fill="#a8102e" stroke="#3a0008" stroke-width="0.7"/>
<circle cx="314.53" cy="304.91" r="1.55" fill="#a8102e" stroke="#3a0008" stroke-width="0.7"/>
<circle cx="315.27" cy="305.06" r="1.55" fill="#a8102e" stroke="#3a0008" stroke-width="0.7"/>
<circle cx="309.94" cy="305.13" r="1.55" fill="#a8102e" stroke="#3a0008" stroke-width="0.7"/>
<circle cx="312.00" cy="308.28" r="1.55" fill="#a8102e" stroke="#3a0008" stroke-width="0.7"/>
<circle cx="314.60" cy="308.30" r="1.55" fill="#a8102e" stroke="#3a0008" stroke-width="0.7"/>
<circle cx="309.40" cy="308.79" r="1.55" fill="#a8102e" stroke="#3a0008" stroke-width="0.7"/>
<circle cx="312.00" cy="310.83" r="1.55" fill="#a8102e" stroke="#3a0008" stroke-width="0.7"/>
<circle cx="312.00" cy="314.76" r="1.55" fill="#a8102e" stroke="#3a0008" stroke-width="0.7"/>
<circle cx="314.60" cy="315.96" r="1.55" fill="#a8102e" stroke="#3a0008" stroke-width="0.7"/>
<circle cx="310.70" cy="316.59" r="1.55" fill="#a8102e" stroke="#3a0008" stroke-width="0.7"/>
<circle cx="312.00" cy="318.38" r="1.55" fill="#a8102e" stroke="#3a0008" stroke-width="0.7"/>
<circle cx="314.60" cy="319.49" r="1.55" fill="#a8102e" stroke="#3a0008" stroke-width="0.7"/>
<circle cx="309.40" cy="319.63" r="1.55" fill="#a8102e" stroke="#3a0008" stroke-width="0.7"/>
<circle cx="315.12" cy="320.04" r="1.55" fill="#a8102e" stroke="#3a0008" stroke-width="0.7"/>
<circle cx="312.00" cy="322.15" r="1.55" fill="#a8102e" stroke="#3a0008" stroke-width="0.7"/>
<circle cx="313.30" cy="323.70" r="1.55" fill="#a8102e" stroke="#3a0008" stroke-width="0.7"/>
<line x1="326.40" y1="250.00" x2="326.40" y2="317.30" stroke="#666" stroke-width="0.9" />
<rect x="321.60" y="277.30" width="9.60" height="16.00" fill="#d8d8f0" stroke="#4a4a7a" stroke-width="0.7" />
<line x1="321.60" y1="285.00" x2="331.20" y2="285.00" stroke="#4a4a7a" stroke-width="0.7" />
<circle cx="326.40" cy="250.00" r="1.55" fill="#a2a2d6" stroke="#1c1c50" stroke-width="0.7"/>
<circle cx="329.00" cy="251.26" r="1.55" fill="#a2a2d6" stroke="#1c1c50" stroke-width="0.7"/>
<circle cx="326.40" cy="254.40" r="1.55" fill="#a2a2d6" stroke="#1c1c50" stroke-width="0.7"/>
<circle cx="326.40" cy="258.46" r="1.55" fill="#a2a2d6" stroke="#1c1c50" stroke-width="0.7"/>
<circle cx="326.40" cy="262.93" r="1.55" fill="#a2a2d6" stroke="#1c1c50" stroke-width="0.7"/>
<circle cx="326.40" cy="266.35" r="1.55" fill="#a2a2d6" stroke="#1c1c50" stroke-width="0.7"/>
<circle cx="329.00" cy="266.54" r="1.55" fill="#a2a2d6" stroke="#1c1c50" stroke-width="0.7"/>
<circle cx="326.40" cy="272.18" r="1.55" fill="#a2a2d6" stroke="#1c1c50" stroke-width="0.7"/>
<circle cx="326.40" cy="274.81" r="1.55" fill="#a2a2d6" stroke="#1c1c50" stroke-width="0.7"/>
<circle cx="329.00" cy="275.51" r="1.55" fill="#a2a2d6" stroke="#1c1c50" stroke-width="0.7"/>
<circle cx="326.40" cy="278.36" r="1.55" fill="#a2a2d6" stroke="#1c1c50" stroke-width="0.7"/>
<circle cx="329.00" cy="278.95" r="1.55" fill="#a2a2d6" stroke="#1c1c50" stroke-width="0.7"/>
<circle cx="323.80" cy="279.00" r="1.55" fill="#a2a2d6" stroke="#1c1c50" stroke-width="0.7"/>
<circle cx="324.38" cy="279.78" r="1.55" fill="#a2a2d6" stroke="#1c1c50" stroke-width="0.7"/>
<circle cx="329.15" cy="280.06" r="1.55" fill="#a2a2d6" stroke="#1c1c50" stroke-width="0.7"/>
<circle cx="326.40" cy="280.73" r="1.55" fill="#a2a2d6" stroke="#1c1c50" stroke-width="0.7"/>
<circle cx="325.25" cy="280.85" r="1.55" fill="#a2a2d6" stroke="#1c1c50" stroke-width="0.7"/>
<circle cx="328.00" cy="281.08" r="1.55" fill="#a2a2d6" stroke="#1c1c50" stroke-width="0.7"/>
<circle cx="323.12" cy="281.73" r="1.55" fill="#a2a2d6" stroke="#1c1c50" stroke-width="0.7"/>
<circle cx="326.40" cy="283.64" r="1.55" fill="#a2a2d6" stroke="#1c1c50" stroke-width="0.7"/>
<circle cx="329.00" cy="283.73" r="1.55" fill="#a2a2d6" stroke="#1c1c50" stroke-width="0.7"/>
<circle cx="326.40" cy="285.89" r="1.55" fill="#a2a2d6" stroke="#1c1c50" stroke-width="0.7"/>
<circle cx="326.40" cy="289.54" r="1.55" fill="#a2a2d6" stroke="#1c1c50" stroke-width="0.7"/>
<circle cx="329.00" cy="290.11" r="1.55" fill="#a2a2d6" stroke="#1c1c50" stroke-width="0.7"/>
<circle cx="323.80" cy="290.11" r="1.55" fill="#a2a2d6" stroke="#1c1c50" stroke-width="0.7"/>
<circle cx="328.56" cy="290.21" r="1.55" fill="#a2a2d6" stroke="#1c1c50" stroke-width="0.7"/>
<circle cx="325.25" cy="290.56" r="1.55" fill="#a2a2d6" stroke="#1c1c50" stroke-width="0.7"/>
<circle cx="323.06" cy="291.99" r="1.55" fill="#a2a2d6" stroke="#1c1c50" stroke-width="0.7"/>
<circle cx="327.70" cy="292.14" r="1.55" fill="#a2a2d6" stroke="#1c1c50" stroke-width="0.7"/>
<circle cx="326.40" cy="300.03" r="1.55" fill="#a2a2d6" stroke="#1c1c50" stroke-width="0.7"/>
<circle cx="326.40" cy="305.44" r="1.55" fill="#a2a2d6" stroke="#1c1c50" stroke-width="0.7"/>
<circle cx="329.00" cy="305.50" r="1.55" fill="#a2a2d6" stroke="#1c1c50" stroke-width="0.7"/>
<circle cx="323.80" cy="306.44" r="1.55" fill="#a2a2d6" stroke="#1c1c50" stroke-width="0.7"/>
<circle cx="326.40" cy="310.87" r="1.55" fill="#a2a2d6" stroke="#1c1c50" stroke-width="0.7"/>
<circle cx="326.40" cy="314.42" r="1.55" fill="#a2a2d6" stroke="#1c1c50" stroke-width="0.7"/>
<circle cx="329.00" cy="314.48" r="1.55" fill="#a2a2d6" stroke="#1c1c50" stroke-width="0.7"/>
<circle cx="326.40" cy="317.30" r="1.55" fill="#a2a2d6" stroke="#1c1c50" stroke-width="0.7"/>
<line x1="283.75" y1="335.30" x2="283.75" y2="337.50" stroke="#333" stroke-width="0.9" />
<text x="283.75" y="345.70" font-size="7.5" fill="#222" text-anchor="middle" >–</text>
<line x1="298.00" y1="335.30" x2="298.00" y2="337.50" stroke="#333" stroke-width="0.9" />
<text x="298.00" y="345.70" font-size="7.5" fill="#222" text-anchor="middle" >+</text>
<line x1="312.50" y1="335.30" x2="312.50" y2="337.50" stroke="#333" stroke-width="0.9" />
<text x="312.50" y="345.70" font-size="7.5" fill="#222" text-anchor="middle" >–</text>
<line x1="326.25" y1="335.30" x2="326.25" y2="337.50" stroke="#333" stroke-width="0.9" />
<text x="326.25" y="345.70" font-size="7.5" fill="#222" text-anchor="middle" >+</text>
<text x="339.50" y="345.70" font-size="7.5" fill="#222" >IFNa</text>
<line x1="273.75" y1="348.90" x2="302.50" y2="348.90" stroke="#555" stroke-width="1.1" />
<line x1="307.50" y1="348.90" x2="336.00" y2="348.90" stroke="#555" stroke-width="1.1" />
<text x="287.50" y="359.77" font-size="7.7" fill="#222" text-anchor="middle" >HC</text>
<text x="321.25" y="359.77" font-size="7.7" fill="#222" text-anchor="middle" >MPN</text>
<text x="287.50" y="371.22" font-size="7" fill="#222" text-anchor="middle" >n = 16</text>
<text x="321.25" y="371.22" font-size="7" fill="#222" text-anchor="middle" >n = 37</text>
<line x1="297.40" y1="222.70" x2="325.90" y2="222.70" stroke="#3a3a3a" stroke-width="1.05" />
<text x="311.65" y="218.32" font-size="7" fill="#333" text-anchor="middle" >ns</text>
<line x1="283.60" y1="233.30" x2="312.00" y2="233.30" stroke="#3a3a3a" stroke-width="1.05" />
<text x="297.80" y="233.46" font-size="7.6" fill="#222" text-anchor="middle" font-weight="bold" >*</text>
<line x1="283.60" y1="246.50" x2="298.50" y2="246.50" stroke="#3a3a3a" stroke-width="1.05" />
<text x="291.05" y="243.12" font-size="7" fill="#333" text-anchor="middle" >ns</text>
<line x1="312.40" y1="246.50" x2="326.90" y2="246.50" stroke="#3a3a3a" stroke-width="1.05" />
<text x="319.65" y="246.66" font-size="7.6" fill="#222" text-anchor="middle" font-weight="bold" >****</text>
<text x="373.10" y="207.70" font-size="11" fill="#111" font-weight="bold" >E</text>
<line x1="428.40" y1="238.50" x2="428.40" y2="335.20" stroke="#333" stroke-width="1.1" />
<line x1="428.40" y1="335.20" x2="490.00" y2="335.20" stroke="#333" stroke-width="1.1" />
<line x1="425.40" y1="242.45" x2="428.40" y2="242.45" stroke="#333" stroke-width="1" />
<text x="424.30" y="245.26" font-size="7.8" fill="#222" text-anchor="end" >100000</text>
<line x1="425.40" y1="257.92" x2="428.40" y2="257.92" stroke="#333" stroke-width="1" />
<text x="424.30" y="260.73" font-size="7.8" fill="#222" text-anchor="end" >10000</text>
<line x1="425.40" y1="273.39" x2="428.40" y2="273.39" stroke="#333" stroke-width="1" />
<text x="424.30" y="276.20" font-size="7.8" fill="#222" text-anchor="end" >1000</text>
<line x1="425.40" y1="288.86" x2="428.40" y2="288.86" stroke="#333" stroke-width="1" />
<text x="424.30" y="291.67" font-size="7.8" fill="#222" text-anchor="end" >100</text>
<line x1="425.40" y1="304.33" x2="428.40" y2="304.33" stroke="#333" stroke-width="1" />
<text x="424.30" y="307.14" font-size="7.8" fill="#222" text-anchor="end" >10</text>
<line x1="425.40" y1="319.80" x2="428.40" y2="319.80" stroke="#333" stroke-width="1" />
<text x="424.30" y="322.61" font-size="7.8" fill="#222" text-anchor="end" >1</text>
<line x1="425.40" y1="335.27" x2="428.40" y2="335.27" stroke="#333" stroke-width="1" />
<text x="424.30" y="338.08" font-size="7.8" fill="#222" text-anchor="end" >0.1</text>
<text x="376.40" y="292.64" font-size="9" fill="#222" text-anchor="middle" textLength="49.7" lengthAdjust="spacingAndGlyphs" transform="rotate(-90 376.40 289.40)" ><tspan font-style="italic">IFIT2</tspan> expression</text>
<text x="387.30" y="292.84" font-size="9" fill="#222" text-anchor="middle" textLength="88.6" lengthAdjust="spacingAndGlyphs" transform="rotate(-90 387.30 289.60)" >[% <tspan font-style="italic">MT-ATP6</tspan>, median ± range]</text>
<line x1="438.80" y1="281.30" x2="438.80" y2="319.80" stroke="#666" stroke-width="0.9" />
<rect x="434.00" y="295.30" width="9.60" height="11.30" fill="#fbe2b0" stroke="#6a5a40" stroke-width="0.7" />
<line x1="434.00" y1="301.00" x2="443.60" y2="301.00" stroke="#6a5a40" stroke-width="0.7" />
<circle cx="438.80" cy="281.30" r="1.55" fill="#e8a526" stroke="#4a3000" stroke-width="0.7"/>
<circle cx="438.80" cy="284.75" r="1.55" fill="#e8a526" stroke="#4a3000" stroke-width="0.7"/>
<circle cx="438.80" cy="287.82" r="1.55" fill="#e8a526" stroke="#4a3000" stroke-width="0.7"/>
<circle cx="438.80" cy="302.34" r="1.55" fill="#e8a526" stroke="#4a3000" stroke-width="0.7"/>
<circle cx="441.40" cy="303.66" r="1.55" fill="#e8a526" stroke="#4a3000" stroke-width="0.7"/>
<circle cx="436.20" cy="303.68" r="1.55" fill="#e8a526" stroke="#4a3000" stroke-width="0.7"/>
<circle cx="440.82" cy="304.29" r="1.55" fill="#e8a526" stroke="#4a3000" stroke-width="0.7"/>
<circle cx="438.80" cy="305.72" r="1.55" fill="#e8a526" stroke="#4a3000" stroke-width="0.7"/>
<circle cx="436.20" cy="305.95" r="1.55" fill="#e8a526" stroke="#4a3000" stroke-width="0.7"/>
<circle cx="438.80" cy="308.09" r="1.55" fill="#e8a526" stroke="#4a3000" stroke-width="0.7"/>
<circle cx="438.80" cy="314.18" r="1.55" fill="#e8a526" stroke="#4a3000" stroke-width="0.7"/>
<circle cx="441.40" cy="315.17" r="1.55" fill="#e8a526" stroke="#4a3000" stroke-width="0.7"/>
<circle cx="438.80" cy="319.80" r="1.55" fill="#e8a526" stroke="#4a3000" stroke-width="0.7"/>
<line x1="452.80" y1="290.00" x2="452.80" y2="316.60" stroke="#666" stroke-width="0.9" />
<rect x="448.00" y="296.00" width="9.60" height="13.60" fill="#c6e3f1" stroke="#45606a" stroke-width="0.7" />
<line x1="448.00" y1="303.00" x2="457.60" y2="303.00" stroke="#45606a" stroke-width="0.7" />
<circle cx="452.80" cy="290.00" r="1.55" fill="#3c9ec4" stroke="#10384a" stroke-width="0.7"/>
<circle cx="452.80" cy="294.56" r="1.55" fill="#3c9ec4" stroke="#10384a" stroke-width="0.7"/>
<circle cx="455.40" cy="294.62" r="1.55" fill="#3c9ec4" stroke="#10384a" stroke-width="0.7"/>
<circle cx="450.20" cy="294.81" r="1.55" fill="#3c9ec4" stroke="#10384a" stroke-width="0.7"/>
<circle cx="455.14" cy="296.01" r="1.55" fill="#3c9ec4" stroke="#10384a" stroke-width="0.7"/>
<circle cx="452.80" cy="299.56" r="1.55" fill="#3c9ec4" stroke="#10384a" stroke-width="0.7"/>
<circle cx="452.80" cy="302.60" r="1.55" fill="#3c9ec4" stroke="#10384a" stroke-width="0.7"/>
<circle cx="452.80" cy="305.01" r="1.55" fill="#3c9ec4" stroke="#10384a" stroke-width="0.7"/>
<circle cx="454.10" cy="306.79" r="1.55" fill="#3c9ec4" stroke="#10384a" stroke-width="0.7"/>
<circle cx="451.50" cy="307.18" r="1.55" fill="#3c9ec4" stroke="#10384a" stroke-width="0.7"/>
<circle cx="452.80" cy="312.50" r="1.55" fill="#3c9ec4" stroke="#10384a" stroke-width="0.7"/>
<circle cx="454.10" cy="314.37" r="1.55" fill="#3c9ec4" stroke="#10384a" stroke-width="0.7"/>
<circle cx="452.80" cy="316.60" r="1.55" fill="#3c9ec4" stroke="#10384a" stroke-width="0.7"/>
<line x1="466.80" y1="267.20" x2="466.80" y2="333.40" stroke="#666" stroke-width="0.9" />
<rect x="462.00" y="288.60" width="9.60" height="21.50" fill="#f2a3a6" stroke="#5a1020" stroke-width="0.7" />
<line x1="462.00" y1="300.00" x2="471.60" y2="300.00" stroke="#5a1020" stroke-width="0.7" />
<circle cx="466.80" cy="267.20" r="1.55" fill="#a8102e" stroke="#3a0008" stroke-width="0.7"/>
<circle cx="469.40" cy="268.48" r="1.55" fill="#a8102e" stroke="#3a0008" stroke-width="0.7"/>
<circle cx="466.80" cy="270.29" r="1.55" fill="#a8102e" stroke="#3a0008" stroke-width="0.7"/>
<circle cx="466.80" cy="273.80" r="1.55" fill="#a8102e" stroke="#3a0008" stroke-width="0.7"/>
<circle cx="469.40" cy="273.92" r="1.55" fill="#a8102e" stroke="#3a0008" stroke-width="0.7"/>
<circle cx="466.80" cy="278.92" r="1.55" fill="#a8102e" stroke="#3a0008" stroke-width="0.7"/>
<circle cx="466.80" cy="281.76" r="1.55" fill="#a8102e" stroke="#3a0008" stroke-width="0.7"/>
<circle cx="466.80" cy="284.20" r="1.55" fill="#a8102e" stroke="#3a0008" stroke-width="0.7"/>
<circle cx="469.40" cy="285.57" r="1.55" fill="#a8102e" stroke="#3a0008" stroke-width="0.7"/>
<circle cx="466.80" cy="288.09" r="1.55" fill="#a8102e" stroke="#3a0008" stroke-width="0.7"/>
<circle cx="469.40" cy="289.41" r="1.55" fill="#a8102e" stroke="#3a0008" stroke-width="0.7"/>
<circle cx="465.50" cy="289.85" r="1.55" fill="#a8102e" stroke="#3a0008" stroke-width="0.7"/>
<circle cx="464.20" cy="290.10" r="1.55" fill="#a8102e" stroke="#3a0008" stroke-width="0.7"/>
<circle cx="468.60" cy="290.16" r="1.55" fill="#a8102e" stroke="#3a0008" stroke-width="0.7"/>
<circle cx="466.50" cy="290.55" r="1.55" fill="#a8102e" stroke="#3a0008" stroke-width="0.7"/>
<circle cx="467.80" cy="291.26" r="1.55" fill="#a8102e" stroke="#3a0008" stroke-width="0.7"/>
<circle cx="470.15" cy="291.84" r="1.55" fill="#a8102e" stroke="#3a0008" stroke-width="0.7"/>
<circle cx="466.80" cy="293.40" r="1.55" fill="#a8102e" stroke="#3a0008" stroke-width="0.7"/>
<circle cx="466.80" cy="295.56" r="1.55" fill="#a8102e" stroke="#3a0008" stroke-width="0.7"/>
<circle cx="469.40" cy="296.46" r="1.55" fill="#a8102e" stroke="#3a0008" stroke-width="0.7"/>
<circle cx="466.80" cy="297.73" r="1.55" fill="#a8102e" stroke="#3a0008" stroke-width="0.7"/>
<circle cx="464.20" cy="297.92" r="1.55" fill="#a8102e" stroke="#3a0008" stroke-width="0.7"/>
<circle cx="468.10" cy="299.51" r="1.55" fill="#a8102e" stroke="#3a0008" stroke-width="0.7"/>
<circle cx="465.50" cy="300.12" r="1.55" fill="#a8102e" stroke="#3a0008" stroke-width="0.7"/>
<circle cx="466.80" cy="302.09" r="1.55" fill="#a8102e" stroke="#3a0008" stroke-width="0.7"/>
<circle cx="469.40" cy="302.60" r="1.55" fill="#a8102e" stroke="#3a0008" stroke-width="0.7"/>
<circle cx="466.80" cy="306.38" r="1.55" fill="#a8102e" stroke="#3a0008" stroke-width="0.7"/>
<circle cx="466.80" cy="314.31" r="1.55" fill="#a8102e" stroke="#3a0008" stroke-width="0.7"/>
<circle cx="469.40" cy="315.79" r="1.55" fill="#a8102e" stroke="#3a0008" stroke-width="0.7"/>
<circle cx="466.80" cy="320.66" r="1.55" fill="#a8102e" stroke="#3a0008" stroke-width="0.7"/>
<circle cx="466.80" cy="323.55" r="1.55" fill="#a8102e" stroke="#3a0008" stroke-width="0.7"/>
<circle cx="469.40" cy="324.99" r="1.55" fill="#a8102e" stroke="#3a0008" stroke-width="0.7"/>
<circle cx="466.80" cy="333.40" r="1.55" fill="#a8102e" stroke="#3a0008" stroke-width="0.7"/>
<line x1="480.80" y1="251.20" x2="480.80" y2="317.70" stroke="#666" stroke-width="0.9" />
<rect x="476.00" y="277.80" width="9.60" height="18.70" fill="#d8d8f0" stroke="#4a4a7a" stroke-width="0.7" />
<line x1="476.00" y1="287.00" x2="485.60" y2="287.00" stroke="#4a4a7a" stroke-width="0.7" />
<circle cx="480.80" cy="251.20" r="1.55" fill="#a2a2d6" stroke="#1c1c50" stroke-width="0.7"/>
<circle cx="480.80" cy="256.36" r="1.55" fill="#a2a2d6" stroke="#1c1c50" stroke-width="0.7"/>
<circle cx="482.10" cy="258.07" r="1.55" fill="#a2a2d6" stroke="#1c1c50" stroke-width="0.7"/>
<circle cx="480.80" cy="260.69" r="1.55" fill="#a2a2d6" stroke="#1c1c50" stroke-width="0.7"/>
<circle cx="483.40" cy="262.04" r="1.55" fill="#a2a2d6" stroke="#1c1c50" stroke-width="0.7"/>
<circle cx="480.80" cy="276.36" r="1.55" fill="#a2a2d6" stroke="#1c1c50" stroke-width="0.7"/>
<circle cx="482.10" cy="278.17" r="1.55" fill="#a2a2d6" stroke="#1c1c50" stroke-width="0.7"/>
<circle cx="479.50" cy="279.39" r="1.55" fill="#a2a2d6" stroke="#1c1c50" stroke-width="0.7"/>
<circle cx="483.86" cy="279.47" r="1.55" fill="#a2a2d6" stroke="#1c1c50" stroke-width="0.7"/>
<circle cx="477.89" cy="280.16" r="1.55" fill="#a2a2d6" stroke="#1c1c50" stroke-width="0.7"/>
<circle cx="480.80" cy="281.39" r="1.55" fill="#a2a2d6" stroke="#1c1c50" stroke-width="0.7"/>
<circle cx="483.40" cy="281.72" r="1.55" fill="#a2a2d6" stroke="#1c1c50" stroke-width="0.7"/>
<circle cx="478.90" cy="282.04" r="1.55" fill="#a2a2d6" stroke="#1c1c50" stroke-width="0.7"/>
<circle cx="483.07" cy="282.18" r="1.55" fill="#a2a2d6" stroke="#1c1c50" stroke-width="0.7"/>
<circle cx="478.77" cy="282.43" r="1.55" fill="#a2a2d6" stroke="#1c1c50" stroke-width="0.7"/>
<circle cx="480.80" cy="286.27" r="1.55" fill="#a2a2d6" stroke="#1c1c50" stroke-width="0.7"/>
<circle cx="483.40" cy="286.39" r="1.55" fill="#a2a2d6" stroke="#1c1c50" stroke-width="0.7"/>
<circle cx="478.20" cy="287.06" r="1.55" fill="#a2a2d6" stroke="#1c1c50" stroke-width="0.7"/>
<circle cx="480.80" cy="289.80" r="1.55" fill="#a2a2d6" stroke="#1c1c50" stroke-width="0.7"/>
<circle cx="483.40" cy="290.98" r="1.55" fill="#a2a2d6" stroke="#1c1c50" stroke-width="0.7"/>
<circle cx="480.80" cy="293.33" r="1.55" fill="#a2a2d6" stroke="#1c1c50" stroke-width="0.7"/>
<circle cx="480.80" cy="295.79" r="1.55" fill="#a2a2d6" stroke="#1c1c50" stroke-width="0.7"/>
<circle cx="483.40" cy="296.48" r="1.55" fill="#a2a2d6" stroke="#1c1c50" stroke-width="0.7"/>
<circle cx="480.80" cy="297.84" r="1.55" fill="#a2a2d6" stroke="#1c1c50" stroke-width="0.7"/>
<circle cx="482.10" cy="299.51" r="1.55" fill="#a2a2d6" stroke="#1c1c50" stroke-width="0.7"/>
<circle cx="480.80" cy="303.67" r="1.55" fill="#a2a2d6" stroke="#1c1c50" stroke-width="0.7"/>
<circle cx="483.40" cy="304.50" r="1.55" fill="#a2a2d6" stroke="#1c1c50" stroke-width="0.7"/>
<circle cx="478.20" cy="304.54" r="1.55" fill="#a2a2d6" stroke="#1c1c50" stroke-width="0.7"/>
<circle cx="480.80" cy="307.05" r="1.55" fill="#a2a2d6" stroke="#1c1c50" stroke-width="0.7"/>
<circle cx="482.10" cy="308.77" r="1.55" fill="#a2a2d6" stroke="#1c1c50" stroke-width="0.7"/>
<circle cx="480.80" cy="315.18" r="1.55" fill="#a2a2d6" stroke="#1c1c50" stroke-width="0.7"/>
<circle cx="483.40" cy="315.61" r="1.55" fill="#a2a2d6" stroke="#1c1c50" stroke-width="0.7"/>
<circle cx="480.80" cy="317.70" r="1.55" fill="#a2a2d6" stroke="#1c1c50" stroke-width="0.7"/>
<line x1="438.10" y1="335.20" x2="438.10" y2="337.50" stroke="#333" stroke-width="0.9" />
<text x="438.10" y="346.50" font-size="7.5" fill="#222" text-anchor="middle" >–</text>
<line x1="451.90" y1="335.20" x2="451.90" y2="337.50" stroke="#333" stroke-width="0.9" />
<text x="451.90" y="346.50" font-size="7.5" fill="#222" text-anchor="middle" >+</text>
<line x1="466.90" y1="335.20" x2="466.90" y2="337.50" stroke="#333" stroke-width="0.9" />
<text x="466.90" y="346.50" font-size="7.5" fill="#222" text-anchor="middle" >–</text>
<line x1="480.80" y1="335.20" x2="480.80" y2="337.50" stroke="#333" stroke-width="0.9" />
<text x="480.80" y="346.50" font-size="7.5" fill="#222" text-anchor="middle" >+</text>
<text x="494.60" y="346.50" font-size="7.5" fill="#222" >IFNa</text>
<line x1="428.20" y1="349.60" x2="456.50" y2="349.60" stroke="#555" stroke-width="1.1" />
<line x1="461.20" y1="349.60" x2="490.00" y2="349.60" stroke="#555" stroke-width="1.1" />
<text x="442.70" y="360.47" font-size="7.7" fill="#222" text-anchor="middle" >HC</text>
<text x="476.20" y="360.47" font-size="7.7" fill="#222" text-anchor="middle" >MPN</text>
<text x="442.70" y="370.52" font-size="7" fill="#222" text-anchor="middle" >n = 13</text>
<text x="476.20" y="370.52" font-size="7" fill="#222" text-anchor="middle" >n = 33</text>
<line x1="452.80" y1="223.50" x2="480.80" y2="223.50" stroke="#3a3a3a" stroke-width="1.05" />
<text x="466.80" y="223.66" font-size="7.6" fill="#222" text-anchor="middle" font-weight="bold" >**</text>
<line x1="438.80" y1="235.40" x2="466.80" y2="235.40" stroke="#3a3a3a" stroke-width="1.05" />
<text x="452.80" y="231.52" font-size="7" fill="#333" text-anchor="middle" >ns</text>
<line x1="438.80" y1="248.00" x2="452.80" y2="248.00" stroke="#3a3a3a" stroke-width="1.05" />
<text x="445.80" y="244.52" font-size="7" fill="#333" text-anchor="middle" >ns</text>
<line x1="466.80" y1="248.00" x2="480.80" y2="248.00" stroke="#3a3a3a" stroke-width="1.05" />
<text x="473.80" y="248.16" font-size="7.6" fill="#222" text-anchor="middle" font-weight="bold" >**</text>
<text x="8.50" y="398.46" font-size="11" fill="#111" font-weight="bold" >F</text>
<text x="40.00" y="398.49" font-size="8.3" fill="#222" font-style="italic" textLength="32.5" lengthAdjust="spacingAndGlyphs" >IFNAR1</text>
<rect x="104.50" y="398.00" width="6.20" height="5.80" fill="#f39c1e" stroke="#6a4a10" stroke-width="0.5" />
<text x="114.70" y="403.46" font-size="7.4" fill="#222" textLength="46.1" lengthAdjust="spacingAndGlyphs" >HC untreated</text>
<rect x="104.50" y="407.60" width="6.20" height="5.80" fill="#b8102e" stroke="#4a0010" stroke-width="0.5" />
<text x="114.70" y="412.96" font-size="7.4" fill="#222" textLength="46.1" lengthAdjust="spacingAndGlyphs" >PV untreated</text>
<text x="45.00" y="425.48" font-size="8.0" fill="#222" textLength="85.7" lengthAdjust="spacingAndGlyphs" >Untreated Erythroid Cells</text>
<line x1="45.20" y1="428.70" x2="45.20" y2="490.40" stroke="#333" stroke-width="1.1" />
<line x1="45.20" y1="490.40" x2="250.50" y2="490.40" stroke="#333" stroke-width="1.1" />
<line x1="42.70" y1="489.90" x2="45.20" y2="489.90" stroke="#333" stroke-width="1" />
<text x="40.30" y="492.64" font-size="7.6" fill="#222" text-anchor="end" >0.0</text>
<line x1="42.70" y1="476.10" x2="45.20" y2="476.10" stroke="#333" stroke-width="1" />
<text x="40.30" y="478.84" font-size="7.6" fill="#222" text-anchor="end" >0.2</text>
<line x1="42.70" y1="462.30" x2="45.20" y2="462.30" stroke="#333" stroke-width="1" />
<text x="40.30" y="465.04" font-size="7.6" fill="#222" text-anchor="end" >0.4</text>
<line x1="42.70" y1="448.50" x2="45.20" y2="448.50" stroke="#333" stroke-width="1" />
<text x="40.30" y="451.24" font-size="7.6" fill="#222" text-anchor="end" >0.6</text>
<line x1="42.70" y1="434.70" x2="45.20" y2="434.70" stroke="#333" stroke-width="1" />
<text x="40.30" y="437.44" font-size="7.6" fill="#222" text-anchor="end" >0.8</text>
<text x="19.75" y="463.05" font-size="9.3" fill="#222" text-anchor="middle" textLength="30.4" lengthAdjust="spacingAndGlyphs" transform="rotate(-90 19.75 459.70)" >Expression</text>
<path d="M58.55,469.70 L58.55,469.96 L58.55,470.22 L58.55,470.47 L58.55,470.73 L58.55,470.99 L58.56,471.25 L58.62,471.51 L58.67,471.77 L58.73,472.02 L58.79,472.28 L58.86,472.54 L58.93,472.80 L58.99,473.06 L59.06,473.32 L59.13,473.57 L59.20,473.83 L59.27,474.09 L59.34,474.35 L59.40,474.61 L59.47,474.87 L59.54,475.12 L59.61,475.38 L59.68,475.64 L59.77,475.90 L59.86,476.16 L59.97,476.42 L60.10,476.68 L60.24,476.93 L60.42,477.19 L60.62,477.45 L60.85,477.71 L61.12,477.97 L61.41,478.22 L61.73,478.48 L62.07,478.74 L62.42,479.00 L62.78,479.26 L63.13,479.52 L63.46,479.77 L63.76,480.03 L64.02,480.29 L64.22,480.55 L64.36,480.81 L64.42,481.07 L64.41,481.32 L64.33,481.58 L64.16,481.84 L63.93,482.10 L63.63,482.36 L63.29,482.62 L62.90,482.88 L62.48,483.13 L62.05,483.39 L61.61,483.65 L61.19,483.91 L60.78,484.17 L60.39,484.43 L60.04,484.68 L59.73,484.94 L59.45,485.20 L56.95,485.20 L56.67,484.94 L56.36,484.68 L56.01,484.43 L55.62,484.17 L55.21,483.91 L54.79,483.65 L54.35,483.39 L53.92,483.13 L53.50,482.88 L53.11,482.62 L52.77,482.36 L52.47,482.10 L52.24,481.84 L52.07,481.58 L51.99,481.32 L51.98,481.07 L52.04,480.81 L52.18,480.55 L52.38,480.29 L52.64,480.03 L52.94,479.77 L53.27,479.52 L53.62,479.26 L53.98,479.00 L54.33,478.74 L54.67,478.48 L54.99,478.22 L55.28,477.97 L55.55,477.71 L55.78,477.45 L55.98,477.19 L56.16,476.93 L56.30,476.68 L56.43,476.42 L56.54,476.16 L56.63,475.90 L56.72,475.64 L56.79,475.38 L56.86,475.12 L56.93,474.87 L57.00,474.61 L57.06,474.35 L57.13,474.09 L57.20,473.83 L57.27,473.57 L57.34,473.32 L57.41,473.06 L57.47,472.80 L57.54,472.54 L57.61,472.28 L57.67,472.02 L57.73,471.77 L57.78,471.51 L57.84,471.25 L57.85,470.99 L57.85,470.73 L57.85,470.47 L57.85,470.22 L57.85,469.96 L57.85,469.70 Z" fill="#f4a321" stroke="#2a2a2a" stroke-width="0.5"/>
<line x1="51.54" y1="481.50" x2="64.86" y2="481.50" stroke="#111" stroke-width="0.7" />
<path d="M73.75,468.70 L73.75,469.00 L73.75,469.30 L73.75,469.59 L73.75,469.89 L73.75,470.19 L73.75,470.49 L73.75,470.79 L73.75,471.09 L73.75,471.38 L73.75,471.68 L73.75,471.98 L73.75,472.28 L73.75,472.58 L73.75,472.88 L73.75,473.18 L73.75,473.47 L73.75,473.77 L73.75,474.07 L73.75,474.37 L73.75,474.67 L73.84,474.96 L73.96,475.26 L74.11,475.56 L74.28,475.86 L74.48,476.16 L74.71,476.46 L74.96,476.75 L75.23,477.05 L75.53,477.35 L75.84,477.65 L76.16,477.95 L76.47,478.25 L76.78,478.55 L77.08,478.84 L77.35,479.14 L77.60,479.44 L77.81,479.74 L77.98,480.04 L78.13,480.34 L78.23,480.63 L78.30,480.93 L78.34,481.23 L78.35,481.53 L78.34,481.83 L78.30,482.12 L78.23,482.42 L78.14,482.72 L78.01,483.02 L77.86,483.32 L77.67,483.62 L77.44,483.92 L77.18,484.21 L76.90,484.51 L76.58,484.81 L76.26,485.11 L75.92,485.41 L75.58,485.71 L75.26,486.00 L74.95,486.30 L74.67,486.60 L72.13,486.60 L71.85,486.30 L71.54,486.00 L71.22,485.71 L70.88,485.41 L70.54,485.11 L70.22,484.81 L69.90,484.51 L69.62,484.21 L69.36,483.92 L69.13,483.62 L68.94,483.32 L68.79,483.02 L68.66,482.72 L68.57,482.42 L68.50,482.12 L68.46,481.83 L68.45,481.53 L68.46,481.23 L68.50,480.93 L68.57,480.63 L68.67,480.34 L68.82,480.04 L68.99,479.74 L69.20,479.44 L69.45,479.14 L69.72,478.84 L70.02,478.55 L70.33,478.25 L70.64,477.95 L70.96,477.65 L71.27,477.35 L71.57,477.05 L71.84,476.75 L72.09,476.46 L72.32,476.16 L72.52,475.86 L72.69,475.56 L72.84,475.26 L72.96,474.96 L73.05,474.67 L73.05,474.37 L73.05,474.07 L73.05,473.77 L73.05,473.47 L73.05,473.18 L73.05,472.88 L73.05,472.58 L73.05,472.28 L73.05,471.98 L73.05,471.68 L73.05,471.38 L73.05,471.09 L73.05,470.79 L73.05,470.49 L73.05,470.19 L73.05,469.89 L73.05,469.59 L73.05,469.30 L73.05,469.00 L73.05,468.70 Z" fill="#c2102e" stroke="#2a2a2a" stroke-width="0.5"/>
<line x1="68.19" y1="480.30" x2="78.61" y2="480.30" stroke="#111" stroke-width="0.7" />
<line x1="65.80" y1="490.40" x2="65.80" y2="492.90" stroke="#333" stroke-width="1" />
<path d="M92.95,449.60 L92.95,450.21 L92.95,450.81 L92.95,451.42 L92.95,452.03 L92.95,452.63 L92.95,453.24 L93.00,453.85 L93.06,454.45 L93.13,455.06 L93.20,455.67 L93.26,456.27 L93.33,456.88 L93.39,457.49 L93.45,458.09 L93.51,458.70 L93.57,459.31 L93.63,459.91 L93.70,460.52 L93.77,461.13 L93.85,461.73 L93.94,462.34 L94.06,462.95 L94.19,463.55 L94.35,464.16 L94.52,464.77 L94.72,465.37 L94.94,465.98 L95.16,466.59 L95.38,467.19 L95.59,467.80 L95.78,468.41 L95.95,469.01 L96.08,469.62 L96.16,470.23 L96.20,470.83 L96.20,471.44 L96.15,472.05 L96.07,472.65 L95.96,473.26 L95.84,473.87 L95.70,474.47 L95.57,475.08 L95.44,475.69 L95.32,476.29 L95.22,476.90 L95.12,477.51 L95.03,478.11 L94.94,478.72 L94.84,479.33 L94.73,479.93 L94.61,480.54 L94.47,481.15 L94.32,481.75 L94.15,482.36 L93.98,482.97 L93.80,483.57 L93.63,484.18 L93.46,484.79 L93.30,485.39 L93.16,486.00 L92.04,486.00 L91.90,485.39 L91.74,484.79 L91.57,484.18 L91.40,483.57 L91.22,482.97 L91.05,482.36 L90.88,481.75 L90.73,481.15 L90.59,480.54 L90.47,479.93 L90.36,479.33 L90.26,478.72 L90.17,478.11 L90.08,477.51 L89.98,476.90 L89.88,476.29 L89.76,475.69 L89.63,475.08 L89.50,474.47 L89.36,473.87 L89.24,473.26 L89.13,472.65 L89.05,472.05 L89.00,471.44 L89.00,470.83 L89.04,470.23 L89.12,469.62 L89.25,469.01 L89.42,468.41 L89.61,467.80 L89.82,467.19 L90.04,466.59 L90.26,465.98 L90.48,465.37 L90.68,464.77 L90.85,464.16 L91.01,463.55 L91.14,462.95 L91.26,462.34 L91.35,461.73 L91.43,461.13 L91.50,460.52 L91.57,459.91 L91.63,459.31 L91.69,458.70 L91.75,458.09 L91.81,457.49 L91.87,456.88 L91.94,456.27 L92.00,455.67 L92.07,455.06 L92.14,454.45 L92.20,453.85 L92.25,453.24 L92.25,452.63 L92.25,452.03 L92.25,451.42 L92.25,450.81 L92.25,450.21 L92.25,449.60 Z" fill="#f4a321" stroke="#2a2a2a" stroke-width="0.5"/>
<line x1="88.50" y1="470.80" x2="96.70" y2="470.80" stroke="#111" stroke-width="0.7" />
<path d="M108.15,441.20 L108.15,441.92 L108.15,442.64 L108.15,443.37 L108.15,444.09 L108.15,444.81 L108.15,445.53 L108.15,446.25 L108.15,446.97 L108.15,447.69 L108.16,448.42 L108.23,449.14 L108.30,449.86 L108.38,450.58 L108.45,451.30 L108.52,452.02 L108.59,452.75 L108.64,453.47 L108.69,454.19 L108.74,454.91 L108.79,455.63 L108.85,456.36 L108.93,457.08 L109.05,457.80 L109.20,458.52 L109.41,459.24 L109.68,459.96 L110.00,460.69 L110.37,461.41 L110.77,462.13 L111.16,462.85 L111.53,463.57 L111.83,464.29 L112.04,465.01 L112.13,465.74 L112.08,466.46 L111.91,467.18 L111.63,467.90 L111.25,468.62 L110.81,469.34 L110.34,470.07 L109.88,470.79 L109.45,471.51 L109.07,472.23 L108.74,472.95 L108.48,473.68 L108.27,474.40 L108.15,475.12 L108.15,475.84 L108.15,476.56 L108.15,477.28 L108.15,478.00 L108.15,478.73 L108.15,479.45 L108.15,480.17 L108.15,480.89 L108.15,481.61 L108.15,482.33 L108.15,483.06 L108.15,483.78 L108.15,484.50 L107.45,484.50 L107.45,483.78 L107.45,483.06 L107.45,482.33 L107.45,481.61 L107.45,480.89 L107.45,480.17 L107.45,479.45 L107.45,478.73 L107.45,478.00 L107.45,477.28 L107.45,476.56 L107.45,475.84 L107.45,475.12 L107.33,474.40 L107.12,473.68 L106.86,472.95 L106.53,472.23 L106.15,471.51 L105.72,470.79 L105.26,470.07 L104.79,469.34 L104.35,468.62 L103.97,467.90 L103.69,467.18 L103.52,466.46 L103.47,465.74 L103.56,465.01 L103.77,464.29 L104.07,463.57 L104.44,462.85 L104.83,462.13 L105.23,461.41 L105.60,460.69 L105.92,459.96 L106.19,459.24 L106.40,458.52 L106.55,457.80 L106.67,457.08 L106.75,456.36 L106.81,455.63 L106.86,454.91 L106.91,454.19 L106.96,453.47 L107.01,452.75 L107.08,452.02 L107.15,451.30 L107.22,450.58 L107.30,449.86 L107.37,449.14 L107.44,448.42 L107.45,447.69 L107.45,446.97 L107.45,446.25 L107.45,445.53 L107.45,444.81 L107.45,444.09 L107.45,443.37 L107.45,442.64 L107.45,441.92 L107.45,441.20 Z" fill="#c2102e" stroke="#2a2a2a" stroke-width="0.5"/>
<line x1="102.97" y1="466.00" x2="112.63" y2="466.00" stroke="#111" stroke-width="0.7" />
<line x1="100.20" y1="490.40" x2="100.20" y2="492.90" stroke="#333" stroke-width="1" />
<path d="M127.35,450.70 L127.35,451.32 L127.35,451.93 L127.35,452.55 L127.35,453.17 L127.35,453.78 L127.35,454.40 L127.35,455.02 L127.35,455.63 L127.35,456.25 L127.35,456.87 L127.35,457.48 L127.35,458.10 L127.35,458.72 L127.35,459.33 L127.35,459.95 L127.35,460.57 L127.35,461.18 L127.35,461.80 L127.35,462.42 L127.35,463.03 L127.42,463.65 L127.51,464.27 L127.62,464.88 L127.73,465.50 L127.85,466.12 L127.98,466.73 L128.10,467.35 L128.23,467.97 L128.35,468.58 L128.45,469.20 L128.55,469.82 L128.62,470.43 L128.68,471.05 L128.72,471.67 L128.74,472.28 L128.76,472.90 L128.77,473.52 L128.80,474.13 L128.85,474.75 L128.96,475.37 L129.12,475.98 L129.36,476.60 L129.67,477.22 L130.04,477.83 L130.45,478.45 L130.85,479.07 L131.20,479.68 L131.45,480.30 L131.56,480.92 L131.51,481.53 L131.30,482.15 L130.94,482.77 L130.47,483.38 L129.93,484.00 L129.38,484.62 L128.85,485.23 L128.38,485.85 L127.99,486.47 L127.68,487.08 L127.45,487.70 L126.55,487.70 L126.32,487.08 L126.01,486.47 L125.62,485.85 L125.15,485.23 L124.62,484.62 L124.07,484.00 L123.53,483.38 L123.06,482.77 L122.70,482.15 L122.49,481.53 L122.44,480.92 L122.55,480.30 L122.80,479.68 L123.15,479.07 L123.55,478.45 L123.96,477.83 L124.33,477.22 L124.64,476.60 L124.88,475.98 L125.04,475.37 L125.15,474.75 L125.20,474.13 L125.23,473.52 L125.24,472.90 L125.26,472.28 L125.28,471.67 L125.32,471.05 L125.38,470.43 L125.45,469.82 L125.55,469.20 L125.65,468.58 L125.77,467.97 L125.90,467.35 L126.02,466.73 L126.15,466.12 L126.27,465.50 L126.38,464.88 L126.49,464.27 L126.58,463.65 L126.65,463.03 L126.65,462.42 L126.65,461.80 L126.65,461.18 L126.65,460.57 L126.65,459.95 L126.65,459.33 L126.65,458.72 L126.65,458.10 L126.65,457.48 L126.65,456.87 L126.65,456.25 L126.65,455.63 L126.65,455.02 L126.65,454.40 L126.65,453.78 L126.65,453.17 L126.65,452.55 L126.65,451.93 L126.65,451.32 L126.65,450.70 Z" fill="#f4a321" stroke="#2a2a2a" stroke-width="0.5"/>
<line x1="122.57" y1="479.20" x2="131.43" y2="479.20" stroke="#111" stroke-width="0.7" />
<path d="M142.55,446.40 L142.55,447.05 L142.55,447.71 L142.55,448.36 L142.55,449.01 L142.55,449.67 L142.55,450.32 L142.55,450.97 L142.55,451.63 L142.55,452.28 L142.55,452.93 L142.55,453.59 L142.55,454.24 L142.55,454.89 L142.55,455.55 L142.55,456.20 L142.55,456.85 L142.55,457.51 L142.55,458.16 L142.57,458.81 L142.65,459.47 L142.74,460.12 L142.83,460.77 L142.92,461.43 L143.00,462.08 L143.08,462.73 L143.15,463.39 L143.22,464.04 L143.29,464.69 L143.37,465.35 L143.47,466.00 L143.59,466.65 L143.75,467.31 L143.94,467.96 L144.18,468.61 L144.46,469.27 L144.76,469.92 L145.07,470.57 L145.37,471.23 L145.65,471.88 L145.86,472.53 L146.01,473.19 L146.06,473.84 L146.02,474.49 L145.89,475.15 L145.67,475.80 L145.38,476.45 L145.03,477.11 L144.66,477.76 L144.28,478.41 L143.92,479.07 L143.58,479.72 L143.28,480.37 L143.02,481.03 L142.81,481.68 L142.64,482.33 L142.55,482.99 L142.55,483.64 L142.55,484.29 L142.55,484.95 L142.55,485.60 L141.85,485.60 L141.85,484.95 L141.85,484.29 L141.85,483.64 L141.85,482.99 L141.76,482.33 L141.59,481.68 L141.38,481.03 L141.12,480.37 L140.82,479.72 L140.48,479.07 L140.12,478.41 L139.74,477.76 L139.37,477.11 L139.02,476.45 L138.73,475.80 L138.51,475.15 L138.38,474.49 L138.34,473.84 L138.39,473.19 L138.54,472.53 L138.75,471.88 L139.03,471.23 L139.33,470.57 L139.64,469.92 L139.94,469.27 L140.22,468.61 L140.46,467.96 L140.65,467.31 L140.81,466.65 L140.93,466.00 L141.03,465.35 L141.11,464.69 L141.18,464.04 L141.25,463.39 L141.32,462.73 L141.40,462.08 L141.48,461.43 L141.57,460.77 L141.66,460.12 L141.75,459.47 L141.83,458.81 L141.85,458.16 L141.85,457.51 L141.85,456.85 L141.85,456.20 L141.85,455.55 L141.85,454.89 L141.85,454.24 L141.85,453.59 L141.85,452.93 L141.85,452.28 L141.85,451.63 L141.85,450.97 L141.85,450.32 L141.85,449.67 L141.85,449.01 L141.85,448.36 L141.85,447.71 L141.85,447.05 L141.85,446.40 Z" fill="#c2102e" stroke="#2a2a2a" stroke-width="0.5"/>
<line x1="137.84" y1="474.00" x2="146.56" y2="474.00" stroke="#111" stroke-width="0.7" />
<line x1="134.60" y1="490.40" x2="134.60" y2="492.90" stroke="#333" stroke-width="1" />
<path d="M161.75,459.00 L161.75,459.47 L161.75,459.94 L161.75,460.42 L161.75,460.89 L161.75,461.36 L161.75,461.83 L161.75,462.30 L161.75,462.77 L161.75,463.25 L161.75,463.72 L161.75,464.19 L161.75,464.66 L161.75,465.13 L161.75,465.60 L161.75,466.07 L161.75,466.55 L161.75,467.02 L161.75,467.49 L161.75,467.96 L161.75,468.43 L161.75,468.91 L161.78,469.38 L161.85,469.85 L161.91,470.32 L161.99,470.79 L162.06,471.26 L162.13,471.74 L162.20,472.21 L162.26,472.68 L162.32,473.15 L162.36,473.62 L162.40,474.09 L162.43,474.56 L162.44,475.04 L162.45,475.51 L162.46,475.98 L162.47,476.45 L162.49,476.92 L162.54,477.39 L162.62,477.87 L162.75,478.34 L162.92,478.81 L163.16,479.28 L163.44,479.75 L163.76,480.23 L164.11,480.70 L164.44,481.17 L164.74,481.64 L164.96,482.11 L165.09,482.58 L165.10,483.06 L165.00,483.53 L164.78,484.00 L164.47,484.47 L164.09,484.94 L163.67,485.41 L163.26,485.88 L162.87,486.36 L162.52,486.83 L162.22,487.30 L160.58,487.30 L160.28,486.83 L159.93,486.36 L159.54,485.88 L159.13,485.41 L158.71,484.94 L158.33,484.47 L158.02,484.00 L157.80,483.53 L157.70,483.06 L157.71,482.58 L157.84,482.11 L158.06,481.64 L158.36,481.17 L158.69,480.70 L159.04,480.23 L159.36,479.75 L159.64,479.28 L159.88,478.81 L160.05,478.34 L160.18,477.87 L160.26,477.39 L160.31,476.92 L160.33,476.45 L160.34,475.98 L160.35,475.51 L160.36,475.04 L160.37,474.56 L160.40,474.09 L160.44,473.62 L160.48,473.15 L160.54,472.68 L160.60,472.21 L160.67,471.74 L160.74,471.26 L160.81,470.79 L160.89,470.32 L160.95,469.85 L161.02,469.38 L161.05,468.91 L161.05,468.43 L161.05,467.96 L161.05,467.49 L161.05,467.02 L161.05,466.55 L161.05,466.07 L161.05,465.60 L161.05,465.13 L161.05,464.66 L161.05,464.19 L161.05,463.72 L161.05,463.25 L161.05,462.77 L161.05,462.30 L161.05,461.83 L161.05,461.36 L161.05,460.89 L161.05,460.42 L161.05,459.94 L161.05,459.47 L161.05,459.00 Z" fill="#f4a321" stroke="#2a2a2a" stroke-width="0.5"/>
<line x1="157.19" y1="483.00" x2="165.61" y2="483.00" stroke="#111" stroke-width="0.7" />
<path d="M176.95,456.40 L176.95,456.88 L176.95,457.36 L176.95,457.84 L176.95,458.32 L176.95,458.80 L176.95,459.28 L176.95,459.76 L176.95,460.24 L176.95,460.72 L176.95,461.20 L176.95,461.68 L176.95,462.16 L176.95,462.64 L176.95,463.12 L176.95,463.60 L176.95,464.08 L176.95,464.56 L176.95,465.04 L176.95,465.52 L176.95,466.00 L177.04,466.48 L177.12,466.96 L177.22,467.44 L177.31,467.92 L177.41,468.40 L177.50,468.88 L177.60,469.36 L177.70,469.84 L177.80,470.32 L177.92,470.80 L178.07,471.28 L178.24,471.76 L178.45,472.24 L178.70,472.72 L178.99,473.20 L179.30,473.68 L179.64,474.16 L179.98,474.64 L180.29,475.12 L180.56,475.60 L180.76,476.08 L180.88,476.56 L180.90,477.04 L180.82,477.52 L180.64,478.00 L180.38,478.48 L180.04,478.96 L179.66,479.44 L179.25,479.92 L178.84,480.40 L178.44,480.88 L178.08,481.36 L177.76,481.84 L177.48,482.32 L177.26,482.80 L177.08,483.28 L176.95,483.76 L176.95,484.24 L176.95,484.72 L176.95,485.20 L176.25,485.20 L176.25,484.72 L176.25,484.24 L176.25,483.76 L176.12,483.28 L175.94,482.80 L175.72,482.32 L175.44,481.84 L175.12,481.36 L174.76,480.88 L174.36,480.40 L173.95,479.92 L173.54,479.44 L173.16,478.96 L172.82,478.48 L172.56,478.00 L172.38,477.52 L172.30,477.04 L172.32,476.56 L172.44,476.08 L172.64,475.60 L172.91,475.12 L173.22,474.64 L173.56,474.16 L173.90,473.68 L174.21,473.20 L174.50,472.72 L174.75,472.24 L174.96,471.76 L175.13,471.28 L175.28,470.80 L175.40,470.32 L175.50,469.84 L175.60,469.36 L175.70,468.88 L175.79,468.40 L175.89,467.92 L175.98,467.44 L176.08,466.96 L176.16,466.48 L176.25,466.00 L176.25,465.52 L176.25,465.04 L176.25,464.56 L176.25,464.08 L176.25,463.60 L176.25,463.12 L176.25,462.64 L176.25,462.16 L176.25,461.68 L176.25,461.20 L176.25,460.72 L176.25,460.24 L176.25,459.76 L176.25,459.28 L176.25,458.80 L176.25,458.32 L176.25,457.84 L176.25,457.36 L176.25,456.88 L176.25,456.40 Z" fill="#c2102e" stroke="#2a2a2a" stroke-width="0.5"/>
<line x1="171.79" y1="477.00" x2="181.41" y2="477.00" stroke="#111" stroke-width="0.7" />
<line x1="169.00" y1="490.40" x2="169.00" y2="492.90" stroke="#333" stroke-width="1" />
<path d="M196.15,464.40 L196.15,464.78 L196.15,465.16 L196.15,465.54 L196.15,465.93 L196.15,466.31 L196.15,466.69 L196.15,467.07 L196.15,467.45 L196.15,467.83 L196.15,468.22 L196.15,468.60 L196.15,468.98 L196.15,469.36 L196.15,469.74 L196.15,470.12 L196.15,470.51 L196.15,470.89 L196.15,471.27 L196.16,471.65 L196.22,472.03 L196.28,472.41 L196.35,472.80 L196.42,473.18 L196.49,473.56 L196.56,473.94 L196.64,474.32 L196.71,474.70 L196.78,475.09 L196.84,475.47 L196.90,475.85 L196.96,476.23 L197.00,476.61 L197.04,477.00 L197.06,477.38 L197.08,477.76 L197.09,478.14 L197.09,478.52 L197.09,478.90 L197.10,479.29 L197.13,479.67 L197.20,480.05 L197.32,480.43 L197.52,480.81 L197.83,481.19 L198.24,481.57 L198.77,481.96 L199.40,482.34 L200.08,482.72 L200.77,483.10 L201.37,483.48 L201.83,483.87 L202.07,484.25 L202.06,484.63 L201.79,485.01 L201.29,485.39 L200.63,485.77 L199.86,486.16 L199.07,486.54 L198.32,486.92 L197.66,487.30 L193.94,487.30 L193.28,486.92 L192.53,486.54 L191.74,486.16 L190.97,485.77 L190.31,485.39 L189.81,485.01 L189.54,484.63 L189.53,484.25 L189.77,483.87 L190.23,483.48 L190.83,483.10 L191.52,482.72 L192.20,482.34 L192.83,481.96 L193.36,481.57 L193.77,481.19 L194.08,480.81 L194.28,480.43 L194.40,480.05 L194.47,479.67 L194.50,479.29 L194.51,478.90 L194.51,478.52 L194.51,478.14 L194.52,477.76 L194.54,477.38 L194.56,477.00 L194.60,476.61 L194.64,476.23 L194.70,475.85 L194.76,475.47 L194.82,475.09 L194.89,474.70 L194.96,474.32 L195.04,473.94 L195.11,473.56 L195.18,473.18 L195.25,472.80 L195.32,472.41 L195.38,472.03 L195.44,471.65 L195.45,471.27 L195.45,470.89 L195.45,470.51 L195.45,470.12 L195.45,469.74 L195.45,469.36 L195.45,468.98 L195.45,468.60 L195.45,468.22 L195.45,467.83 L195.45,467.45 L195.45,467.07 L195.45,466.69 L195.45,466.31 L195.45,465.93 L195.45,465.54 L195.45,465.16 L195.45,464.78 L195.45,464.40 Z" fill="#f4a321" stroke="#2a2a2a" stroke-width="0.5"/>
<line x1="189.30" y1="485.00" x2="202.30" y2="485.00" stroke="#111" stroke-width="0.7" />
<path d="M211.35,465.00 L211.35,465.38 L211.35,465.76 L211.35,466.13 L211.35,466.51 L211.35,466.89 L211.35,467.27 L211.35,467.65 L211.35,468.03 L211.35,468.40 L211.35,468.78 L211.35,469.16 L211.35,469.54 L211.35,469.92 L211.35,470.30 L211.35,470.68 L211.35,471.05 L211.35,471.43 L211.35,471.81 L211.35,472.19 L211.35,472.57 L211.37,472.94 L211.49,473.32 L211.63,473.70 L211.81,474.08 L212.02,474.46 L212.26,474.84 L212.53,475.21 L212.83,475.59 L213.16,475.97 L213.51,476.35 L213.86,476.73 L214.22,477.11 L214.56,477.49 L214.88,477.86 L215.15,478.24 L215.38,478.62 L215.55,479.00 L215.65,479.38 L215.67,479.75 L215.63,480.13 L215.51,480.51 L215.32,480.89 L215.08,481.27 L214.79,481.65 L214.46,482.02 L214.11,482.40 L213.76,482.78 L213.40,483.16 L213.06,483.54 L212.74,483.92 L212.45,484.30 L212.18,484.67 L211.95,485.05 L211.75,485.43 L211.59,485.81 L211.45,486.19 L211.35,486.56 L211.35,486.94 L211.35,487.32 L211.35,487.70 L210.65,487.70 L210.65,487.32 L210.65,486.94 L210.65,486.56 L210.55,486.19 L210.41,485.81 L210.25,485.43 L210.05,485.05 L209.82,484.67 L209.55,484.30 L209.26,483.92 L208.94,483.54 L208.60,483.16 L208.24,482.78 L207.89,482.40 L207.54,482.02 L207.21,481.65 L206.92,481.27 L206.68,480.89 L206.49,480.51 L206.37,480.13 L206.33,479.75 L206.35,479.38 L206.45,479.00 L206.62,478.62 L206.85,478.24 L207.12,477.86 L207.44,477.49 L207.78,477.11 L208.14,476.73 L208.49,476.35 L208.84,475.97 L209.17,475.59 L209.47,475.21 L209.74,474.84 L209.98,474.46 L210.19,474.08 L210.37,473.70 L210.51,473.32 L210.63,472.94 L210.65,472.57 L210.65,472.19 L210.65,471.81 L210.65,471.43 L210.65,471.05 L210.65,470.68 L210.65,470.30 L210.65,469.92 L210.65,469.54 L210.65,469.16 L210.65,468.78 L210.65,468.40 L210.65,468.03 L210.65,467.65 L210.65,467.27 L210.65,466.89 L210.65,466.51 L210.65,466.13 L210.65,465.76 L210.65,465.38 L210.65,465.00 Z" fill="#c2102e" stroke="#2a2a2a" stroke-width="0.5"/>
<line x1="205.85" y1="480.00" x2="216.15" y2="480.00" stroke="#111" stroke-width="0.7" />
<line x1="203.40" y1="490.40" x2="203.40" y2="492.90" stroke="#333" stroke-width="1" />
<path d="M230.55,475.40 L230.55,475.60 L230.55,475.81 L230.55,476.01 L230.55,476.22 L230.55,476.42 L230.55,476.63 L230.55,476.83 L230.55,477.04 L230.56,477.25 L230.64,477.45 L230.73,477.65 L230.82,477.86 L230.93,478.06 L231.04,478.27 L231.16,478.47 L231.29,478.68 L231.42,478.88 L231.56,479.09 L231.70,479.29 L231.84,479.50 L231.97,479.70 L232.10,479.91 L232.22,480.12 L232.34,480.32 L232.45,480.52 L232.56,480.73 L232.67,480.94 L232.77,481.14 L232.88,481.34 L233.01,481.55 L233.14,481.75 L233.30,481.96 L233.47,482.16 L233.68,482.37 L233.91,482.57 L234.17,482.78 L234.45,482.98 L234.74,483.19 L235.05,483.39 L235.35,483.60 L235.64,483.81 L235.91,484.01 L236.13,484.21 L236.31,484.42 L236.42,484.62 L236.46,484.83 L236.43,485.03 L236.32,485.24 L236.13,485.44 L235.87,485.65 L235.55,485.85 L235.19,486.06 L234.78,486.26 L234.34,486.47 L233.90,486.68 L233.46,486.88 L233.03,487.08 L232.62,487.29 L232.24,487.50 L231.89,487.70 L228.51,487.70 L228.16,487.50 L227.78,487.29 L227.37,487.08 L226.94,486.88 L226.50,486.68 L226.06,486.47 L225.62,486.26 L225.21,486.06 L224.85,485.85 L224.53,485.65 L224.27,485.44 L224.08,485.24 L223.97,485.03 L223.94,484.83 L223.98,484.62 L224.09,484.42 L224.27,484.21 L224.49,484.01 L224.76,483.81 L225.05,483.60 L225.35,483.39 L225.66,483.19 L225.95,482.98 L226.23,482.78 L226.49,482.57 L226.72,482.37 L226.93,482.16 L227.10,481.96 L227.26,481.75 L227.39,481.55 L227.52,481.34 L227.63,481.14 L227.73,480.94 L227.84,480.73 L227.95,480.52 L228.06,480.32 L228.18,480.12 L228.30,479.91 L228.43,479.70 L228.56,479.50 L228.70,479.29 L228.84,479.09 L228.98,478.88 L229.11,478.68 L229.24,478.47 L229.36,478.27 L229.47,478.06 L229.58,477.86 L229.67,477.65 L229.76,477.45 L229.84,477.25 L229.85,477.04 L229.85,476.83 L229.85,476.63 L229.85,476.42 L229.85,476.22 L229.85,476.01 L229.85,475.81 L229.85,475.60 L229.85,475.40 Z" fill="#f4a321" stroke="#2a2a2a" stroke-width="0.5"/>
<line x1="223.46" y1="485.00" x2="236.94" y2="485.00" stroke="#111" stroke-width="0.7" />
<path d="M245.75,467.60 L245.75,467.94 L245.75,468.27 L245.75,468.61 L245.75,468.94 L245.75,469.28 L245.75,469.61 L245.75,469.94 L245.75,470.28 L245.75,470.62 L245.75,470.95 L245.75,471.29 L245.75,471.62 L245.75,471.96 L245.75,472.29 L245.75,472.62 L245.75,472.96 L245.75,473.30 L245.75,473.63 L245.82,473.97 L245.90,474.30 L245.99,474.63 L246.09,474.97 L246.20,475.31 L246.31,475.64 L246.43,475.98 L246.55,476.31 L246.66,476.64 L246.78,476.98 L246.90,477.31 L247.01,477.65 L247.13,477.99 L247.25,478.32 L247.38,478.66 L247.53,478.99 L247.72,479.32 L247.93,479.66 L248.20,480.00 L248.51,480.33 L248.88,480.67 L249.29,481.00 L249.73,481.33 L250.18,481.67 L250.61,482.00 L250.98,482.34 L251.28,482.68 L251.46,483.01 L251.50,483.34 L251.41,483.68 L251.17,484.01 L250.79,484.35 L250.32,484.69 L249.77,485.02 L249.17,485.36 L248.58,485.69 L248.00,486.02 L247.47,486.36 L247.01,486.69 L246.61,487.03 L246.29,487.37 L246.03,487.70 L244.77,487.70 L244.51,487.37 L244.19,487.03 L243.79,486.69 L243.33,486.36 L242.80,486.02 L242.22,485.69 L241.63,485.36 L241.03,485.02 L240.48,484.69 L240.01,484.35 L239.63,484.01 L239.39,483.68 L239.30,483.34 L239.34,483.01 L239.52,482.68 L239.82,482.34 L240.19,482.00 L240.62,481.67 L241.07,481.33 L241.51,481.00 L241.92,480.67 L242.29,480.33 L242.60,480.00 L242.87,479.66 L243.08,479.32 L243.27,478.99 L243.42,478.66 L243.55,478.32 L243.67,477.99 L243.79,477.65 L243.90,477.31 L244.02,476.98 L244.14,476.64 L244.25,476.31 L244.37,475.98 L244.49,475.64 L244.60,475.31 L244.71,474.97 L244.81,474.63 L244.90,474.30 L244.98,473.97 L245.05,473.63 L245.05,473.30 L245.05,472.96 L245.05,472.62 L245.05,472.29 L245.05,471.96 L245.05,471.62 L245.05,471.29 L245.05,470.95 L245.05,470.62 L245.05,470.28 L245.05,469.94 L245.05,469.61 L245.05,469.28 L245.05,468.94 L245.05,468.61 L245.05,468.27 L245.05,467.94 L245.05,467.60 Z" fill="#c2102e" stroke="#2a2a2a" stroke-width="0.5"/>
<line x1="238.82" y1="483.50" x2="251.98" y2="483.50" stroke="#111" stroke-width="0.7" />
<line x1="237.80" y1="490.40" x2="237.80" y2="492.90" stroke="#333" stroke-width="1" />
<path d="M57.00,437.2 V434.6 H74.60 V437.2" fill="none" stroke="#333" stroke-width="0.9"/>
<text x="65.80" y="433.32" font-size="7" fill="#333" text-anchor="middle" >ns</text>
<path d="M91.40,437.2 V434.6 H109.00 V437.2" fill="none" stroke="#333" stroke-width="0.9"/>
<text x="100.20" y="434.73" font-size="7.2" fill="#222" text-anchor="middle" font-weight="bold" >****</text>
<path d="M125.80,437.2 V434.6 H143.40 V437.2" fill="none" stroke="#333" stroke-width="0.9"/>
<text x="134.60" y="434.73" font-size="7.2" fill="#222" text-anchor="middle" font-weight="bold" >****</text>
<path d="M160.20,437.2 V434.6 H177.80 V437.2" fill="none" stroke="#333" stroke-width="0.9"/>
<text x="169.00" y="434.73" font-size="7.2" fill="#222" text-anchor="middle" font-weight="bold" >****</text>
<path d="M194.60,437.2 V434.6 H212.20 V437.2" fill="none" stroke="#333" stroke-width="0.9"/>
<text x="203.40" y="434.73" font-size="7.2" fill="#222" text-anchor="middle" font-weight="bold" >****</text>
<path d="M229.00,437.2 V434.6 H246.60 V437.2" fill="none" stroke="#333" stroke-width="0.9"/>
<text x="237.80" y="434.73" font-size="7.2" fill="#222" text-anchor="middle" font-weight="bold" >*</text>
<text x="68.00" y="502.00" font-size="7.8" fill="#333" text-anchor="end" transform="rotate(-45 68.00 502.00)">MEPs</text>
<text x="102.40" y="502.00" font-size="7.8" fill="#333" text-anchor="end" transform="rotate(-45 102.40 502.00)">ProE</text>
<text x="136.80" y="502.00" font-size="7.8" fill="#333" text-anchor="end" transform="rotate(-45 136.80 502.00)">BasoE</text>
<text x="171.20" y="502.00" font-size="7.8" fill="#333" text-anchor="end" transform="rotate(-45 171.20 502.00)">PolyE</text>
<text x="205.60" y="502.00" font-size="7.8" fill="#333" text-anchor="end" transform="rotate(-45 205.60 502.00)">OrthoE</text>
<text x="240.00" y="502.00" font-size="7.8" fill="#333" text-anchor="end" transform="rotate(-45 240.00 502.00)">Reticulocytes</text>
<text x="273.80" y="398.46" font-size="11" fill="#111" font-weight="bold" >G</text>
<text x="352.50" y="401.28" font-size="9.1" fill="#222" text-anchor="middle" >IFNAR1</text>
<text x="417.70" y="401.58" font-size="9.1" fill="#222" text-anchor="middle" >CD235a</text>
<path d="M467.30,392.58 L470.10,397.62 L464.50,397.62 Z" fill="none" stroke="#222" stroke-width="0.8" stroke-linejoin="round"/>
<text x="472.80" y="398.10" font-size="7.5" fill="#222" >PV</text>
<circle cx="466.50" cy="407.10" r="2.2" fill="none" stroke="#222" stroke-width="0.9"/>
<text x="472.10" y="409.97" font-size="7.7" fill="#222" >HC</text>
<line x1="321.60" y1="421.50" x2="321.60" y2="490.60" stroke="#333" stroke-width="1.1" />
<line x1="318.60" y1="490.60" x2="321.60" y2="490.60" stroke="#333" stroke-width="1" />
<text x="316.00" y="493.59" font-size="8.3" fill="#222" text-anchor="end" >0</text>
<line x1="318.60" y1="477.32" x2="321.60" y2="477.32" stroke="#333" stroke-width="1" />
<text x="316.00" y="480.31" font-size="8.3" fill="#222" text-anchor="end" >1000</text>
<line x1="318.60" y1="464.04" x2="321.60" y2="464.04" stroke="#333" stroke-width="1" />
<text x="316.00" y="467.03" font-size="8.3" fill="#222" text-anchor="end" >2000</text>
<line x1="318.60" y1="450.76" x2="321.60" y2="450.76" stroke="#333" stroke-width="1" />
<text x="316.00" y="453.75" font-size="8.3" fill="#222" text-anchor="end" >3000</text>
<line x1="318.60" y1="437.48" x2="321.60" y2="437.48" stroke="#333" stroke-width="1" />
<text x="316.00" y="440.47" font-size="8.3" fill="#222" text-anchor="end" >4000</text>
<line x1="318.60" y1="424.20" x2="321.60" y2="424.20" stroke="#333" stroke-width="1" />
<text x="316.00" y="427.19" font-size="8.3" fill="#222" text-anchor="end" >5000</text>
<text x="277.70" y="461.50" font-size="10" fill="#222" text-anchor="middle" textLength="50.8" lengthAdjust="spacingAndGlyphs" transform="rotate(-90 277.70 457.90)" >MFI FITC-IFNAR1</text>
<text x="288.70" y="460.66" font-size="8.5" fill="#222" text-anchor="middle" textLength="32.6" lengthAdjust="spacingAndGlyphs" transform="rotate(-90 288.70 457.60)" >mean ± SD</text>
<line x1="454.20" y1="421.00" x2="454.20" y2="490.60" stroke="#333" stroke-width="1.1" />
<line x1="454.20" y1="489.90" x2="457.20" y2="489.90" stroke="#333" stroke-width="1" />
<text x="460.50" y="492.82" font-size="8.1" fill="#222" >0</text>
<line x1="454.20" y1="476.79" x2="457.20" y2="476.79" stroke="#333" stroke-width="1" />
<text x="460.50" y="479.71" font-size="8.1" fill="#222" >5000</text>
<line x1="454.20" y1="463.68" x2="457.20" y2="463.68" stroke="#333" stroke-width="1" />
<text x="460.50" y="466.60" font-size="8.1" fill="#222" >10000</text>
<line x1="454.20" y1="450.57" x2="457.20" y2="450.57" stroke="#333" stroke-width="1" />
<text x="460.50" y="453.49" font-size="8.1" fill="#222" >15000</text>
<line x1="454.20" y1="437.46" x2="457.20" y2="437.46" stroke="#333" stroke-width="1" />
<text x="460.50" y="440.38" font-size="8.1" fill="#222" >20000</text>
<line x1="454.20" y1="424.35" x2="457.20" y2="424.35" stroke="#333" stroke-width="1" />
<text x="460.50" y="427.27" font-size="8.1" fill="#222" >25000</text>
<text x="502.50" y="460.66" font-size="9.6" fill="#222" text-anchor="middle" textLength="52.7" lengthAdjust="spacingAndGlyphs" transform="rotate(90 502.50 457.20)" >MFI PE-Cy7-CD235a</text>
<text x="491.80" y="459.81" font-size="7.8" fill="#222" text-anchor="middle" textLength="28.9" lengthAdjust="spacingAndGlyphs" transform="rotate(90 491.80 457.00)" >mean ± SD</text>
<line x1="321.60" y1="490.60" x2="454.20" y2="490.60" stroke="#333" stroke-width="1.1" />
<line x1="387.70" y1="416.90" x2="387.70" y2="490.60" stroke="#666" stroke-width="1.1" />
<line x1="335.40" y1="490.60" x2="335.40" y2="493.00" stroke="#333" stroke-width="1" />
<text x="339.20" y="501.50" font-size="7.7" fill="#333" text-anchor="end" transform="rotate(-45 339.20 501.50)">early</text>
<line x1="356.50" y1="490.60" x2="356.50" y2="493.00" stroke="#333" stroke-width="1" />
<text x="360.30" y="501.50" font-size="7.7" fill="#333" text-anchor="end" transform="rotate(-45 360.30 501.50)">intermediate</text>
<line x1="377.70" y1="490.60" x2="377.70" y2="493.00" stroke="#333" stroke-width="1" />
<text x="381.50" y="501.50" font-size="7.7" fill="#333" text-anchor="end" transform="rotate(-45 381.50 501.50)">mature</text>
<line x1="398.70" y1="490.60" x2="398.70" y2="493.00" stroke="#333" stroke-width="1" />
<text x="402.50" y="501.50" font-size="7.7" fill="#333" text-anchor="end" transform="rotate(-45 402.50 501.50)">early</text>
<line x1="419.30" y1="490.60" x2="419.30" y2="493.00" stroke="#333" stroke-width="1" />
<text x="423.10" y="501.50" font-size="7.7" fill="#333" text-anchor="end" transform="rotate(-45 423.10 501.50)">intermediate</text>
<line x1="440.60" y1="490.60" x2="440.60" y2="493.00" stroke="#333" stroke-width="1" />
<text x="444.40" y="501.50" font-size="7.7" fill="#333" text-anchor="end" transform="rotate(-45 444.40 501.50)">mature</text>
<circle cx="331.20" cy="432.00" r="2.3" fill="#f6e6e6" stroke="#8a3a3a" stroke-width="0.85"/>
<path d="M340.20,427.49 L342.80,432.17 L337.60,432.17 Z" fill="#f6e6e6" stroke="#8a3a3a" stroke-width="0.8" stroke-linejoin="round"/>
<circle cx="341.00" cy="436.00" r="2.3" fill="#f6e6e6" stroke="#8a3a3a" stroke-width="0.85"/>
<path d="M331.00,434.79 L333.60,439.47 L328.40,439.47 Z" fill="#f6e6e6" stroke="#8a3a3a" stroke-width="0.8" stroke-linejoin="round"/>
<circle cx="340.80" cy="441.50" r="2.3" fill="#f6e6e6" stroke="#8a3a3a" stroke-width="0.85"/>
<path d="M331.00,441.69 L333.60,446.37 L328.40,446.37 Z" fill="#f6e6e6" stroke="#8a3a3a" stroke-width="0.8" stroke-linejoin="round"/>
<circle cx="336.30" cy="439.80" r="2.3" fill="#f6e6e6" stroke="#8a3a3a" stroke-width="0.85"/>
<line x1="335.40" y1="430.50" x2="335.40" y2="444.00" stroke="#333" stroke-width="0.9" />
<line x1="332.40" y1="430.50" x2="338.40" y2="430.50" stroke="#333" stroke-width="0.9" />
<line x1="332.40" y1="444.00" x2="338.40" y2="444.00" stroke="#333" stroke-width="0.9" />
<line x1="329.40" y1="435.40" x2="341.40" y2="435.40" stroke="#333" stroke-width="1.0" />
<circle cx="356.50" cy="449.70" r="2.3" fill="#e5a0a0" stroke="#8a2a2a" stroke-width="0.85"/>
<path d="M352.50,453.69 L355.10,458.37 L349.90,458.37 Z" fill="#e5a0a0" stroke="#8a2a2a" stroke-width="0.8" stroke-linejoin="round"/>
<circle cx="358.50" cy="459.50" r="2.3" fill="#e5a0a0" stroke="#8a2a2a" stroke-width="0.85"/>
<path d="M352.30,460.39 L354.90,465.07 L349.70,465.07 Z" fill="#e5a0a0" stroke="#8a2a2a" stroke-width="0.8" stroke-linejoin="round"/>
<circle cx="357.20" cy="462.80" r="2.3" fill="#e5a0a0" stroke="#8a2a2a" stroke-width="0.85"/>
<path d="M361.50,456.69 L364.10,461.37 L358.90,461.37 Z" fill="#e5a0a0" stroke="#8a2a2a" stroke-width="0.8" stroke-linejoin="round"/>
<line x1="356.50" y1="450.50" x2="356.50" y2="462.50" stroke="#333" stroke-width="0.9" />
<line x1="353.50" y1="450.50" x2="359.50" y2="450.50" stroke="#333" stroke-width="0.9" />
<line x1="353.50" y1="462.50" x2="359.50" y2="462.50" stroke="#333" stroke-width="0.9" />
<line x1="350.50" y1="456.00" x2="362.50" y2="456.00" stroke="#333" stroke-width="1.0" />
<circle cx="373.50" cy="481.60" r="2.1" fill="#b81030" stroke="#5a0818" stroke-width="0.75"/>
<path d="M376.50,478.52 L378.80,482.66 L374.20,482.66 Z" fill="#b81030" stroke="#5a0818" stroke-width="0.8" stroke-linejoin="round"/>
<circle cx="379.50" cy="482.30" r="2.1" fill="#b81030" stroke="#5a0818" stroke-width="0.75"/>
<path d="M382.00,479.02 L384.30,483.16 L379.70,483.16 Z" fill="#b81030" stroke="#5a0818" stroke-width="0.8" stroke-linejoin="round"/>
<circle cx="376.00" cy="482.80" r="2.1" fill="#b81030" stroke="#5a0818" stroke-width="0.75"/>
<circle cx="381.50" cy="483.50" r="2.1" fill="#b81030" stroke="#5a0818" stroke-width="0.75"/>
<path d="M394.50,486.34 L396.50,489.94 L392.50,489.94 Z" fill="#f6e6e6" stroke="#8a5a3a" stroke-width="0.8" stroke-linejoin="round"/>
<circle cx="397.50" cy="488.00" r="1.8" fill="#f6e6e6" stroke="#8a5a3a" stroke-width="0.7"/>
<circle cx="400.50" cy="488.80" r="1.8" fill="#f6e6e6" stroke="#8a5a3a" stroke-width="0.7"/>
<path d="M403.50,486.04 L405.50,489.64 L401.50,489.64 Z" fill="#f6e6e6" stroke="#8a5a3a" stroke-width="0.8" stroke-linejoin="round"/>
<circle cx="399.00" cy="488.90" r="1.8" fill="#f6e6e6" stroke="#8a5a3a" stroke-width="0.7"/>
<line x1="419.20" y1="441.20" x2="419.20" y2="458.20" stroke="#2f5a5a" stroke-width="0.9" />
<line x1="416.20" y1="441.20" x2="422.20" y2="441.20" stroke="#2f5a5a" stroke-width="0.9" />
<line x1="416.20" y1="458.20" x2="422.20" y2="458.20" stroke="#2f5a5a" stroke-width="0.9" />
<line x1="413.20" y1="452.30" x2="425.20" y2="452.30" stroke="#2f5a5a" stroke-width="1.0" />
<path d="M418.50,440.99 L421.10,445.67 L415.90,445.67 Z" fill="#e5a0a0" stroke="#8a2a2a" stroke-width="0.8" stroke-linejoin="round"/>
<circle cx="414.20" cy="452.30" r="2.3" fill="#e5a0a0" stroke="#8a2a2a" stroke-width="0.85"/>
<circle cx="423.50" cy="452.30" r="2.3" fill="#e5a0a0" stroke="#8a2a2a" stroke-width="0.85"/>
<circle cx="418.00" cy="458.50" r="2.3" fill="#e5a0a0" stroke="#8a2a2a" stroke-width="0.85"/>
<path d="M420.40,454.39 L423.00,459.07 L417.80,459.07 Z" fill="#e5a0a0" stroke="#8a2a2a" stroke-width="0.8" stroke-linejoin="round"/>
<circle cx="418.80" cy="462.30" r="2.3" fill="#e5a0a0" stroke="#8a2a2a" stroke-width="0.85"/>
<path d="M416.00,453.19 L418.60,457.87 L413.40,457.87 Z" fill="#e5a0a0" stroke="#8a2a2a" stroke-width="0.8" stroke-linejoin="round"/>
<line x1="439.60" y1="433.00" x2="439.60" y2="452.30" stroke="#2f5a5a" stroke-width="0.9" />
<line x1="436.60" y1="433.00" x2="442.60" y2="433.00" stroke="#2f5a5a" stroke-width="0.9" />
<line x1="436.60" y1="452.30" x2="442.60" y2="452.30" stroke="#2f5a5a" stroke-width="0.9" />
<line x1="433.60" y1="440.80" x2="445.60" y2="440.80" stroke="#2f5a5a" stroke-width="1.0" />
<path d="M439.60,425.69 L442.20,430.37 L437.00,430.37 Z" fill="#b81030" stroke="#5a0818" stroke-width="0.8" stroke-linejoin="round"/>
<circle cx="434.50" cy="441.50" r="2.3" fill="#b81030" stroke="#5a0818" stroke-width="0.85"/>
<circle cx="439.60" cy="440.80" r="2.3" fill="#b81030" stroke="#5a0818" stroke-width="0.85"/>
<path d="M438.80,443.39 L441.40,448.07 L436.20,448.07 Z" fill="#b81030" stroke="#5a0818" stroke-width="0.8" stroke-linejoin="round"/>
<path d="M445.00,442.19 L447.60,446.87 L442.40,446.87 Z" fill="#b81030" stroke="#5a0818" stroke-width="0.8" stroke-linejoin="round"/>
<circle cx="439.60" cy="457.70" r="2.3" fill="#b81030" stroke="#5a0818" stroke-width="0.85"/>
<line x1="334.60" y1="412.30" x2="378.50" y2="412.30" stroke="#3a3a3a" stroke-width="1.05" />
<text x="356.55" y="412.46" font-size="7.6" fill="#222" text-anchor="middle" font-weight="bold" >****</text>
<line x1="334.60" y1="425.80" x2="356.50" y2="425.80" stroke="#3a3a3a" stroke-width="1.05" />
<text x="345.55" y="425.96" font-size="7.6" fill="#222" text-anchor="middle" font-weight="bold" >****</text>
<line x1="356.90" y1="442.80" x2="378.50" y2="442.80" stroke="#3a3a3a" stroke-width="1.05" />
<text x="367.70" y="442.96" font-size="7.6" fill="#222" text-anchor="middle" font-weight="bold" >****</text>
<line x1="400.40" y1="412.00" x2="444.20" y2="412.00" stroke="#3a3a3a" stroke-width="1.05" />
<text x="422.30" y="412.16" font-size="7.6" fill="#222" text-anchor="middle" font-weight="bold" >****</text>
<line x1="419.20" y1="422.80" x2="440.70" y2="422.80" stroke="#3a3a3a" stroke-width="1.05" />
<text x="429.95" y="422.96" font-size="7.6" fill="#222" text-anchor="middle" font-weight="bold" >*</text>
<line x1="398.00" y1="435.40" x2="419.60" y2="435.40" stroke="#3a3a3a" stroke-width="1.05" />
<text x="408.80" y="435.56" font-size="7.6" fill="#222" text-anchor="middle" font-weight="bold" >****</text>
<text x="8.80" y="560.96" font-size="11" fill="#111" font-weight="bold" >H</text>
<rect x="27.30" y="581.20" width="3.55" height="9.23" fill="#f58360" stroke="none" stroke-width="0.5" />
<rect x="27.30" y="590.38" width="3.55" height="9.23" fill="#fac3ae" stroke="none" stroke-width="0.5" />
<rect x="27.30" y="599.56" width="3.55" height="9.23" fill="#faf1ec" stroke="none" stroke-width="0.5" />
<rect x="27.30" y="608.74" width="3.55" height="9.23" fill="#4e3aa5" stroke="none" stroke-width="0.5" />
<rect x="27.30" y="617.92" width="3.55" height="9.23" fill="#cec7ed" stroke="none" stroke-width="0.5" />
<rect x="27.30" y="627.10" width="3.55" height="9.23" fill="#968ad3" stroke="none" stroke-width="0.5" />
<rect x="30.80" y="581.20" width="3.05" height="9.23" fill="#e53019" stroke="none" stroke-width="0.5" />
<rect x="30.80" y="590.38" width="3.05" height="9.23" fill="#a89ede" stroke="none" stroke-width="0.5" />
<rect x="30.80" y="599.56" width="3.05" height="9.23" fill="#f69475" stroke="none" stroke-width="0.5" />
<rect x="30.80" y="608.74" width="3.05" height="9.23" fill="#c2bae8" stroke="none" stroke-width="0.5" />
<rect x="30.80" y="617.92" width="3.05" height="9.23" fill="#c1b9e8" stroke="none" stroke-width="0.5" />
<rect x="30.80" y="627.10" width="3.05" height="9.23" fill="#cbc4ec" stroke="none" stroke-width="0.5" />
<rect x="33.80" y="581.20" width="3.05" height="9.23" fill="#ed583b" stroke="none" stroke-width="0.5" />
<rect x="33.80" y="590.38" width="3.05" height="9.23" fill="#b0a7e1" stroke="none" stroke-width="0.5" />
<rect x="33.80" y="599.56" width="3.05" height="9.23" fill="#f69070" stroke="none" stroke-width="0.5" />
<rect x="33.80" y="608.74" width="3.05" height="9.23" fill="#bfb7e7" stroke="none" stroke-width="0.5" />
<rect x="33.80" y="617.92" width="3.05" height="9.23" fill="#d4cdf0" stroke="none" stroke-width="0.5" />
<rect x="33.80" y="627.10" width="3.05" height="9.23" fill="#d8d2f1" stroke="none" stroke-width="0.5" />
<rect x="36.80" y="581.20" width="3.05" height="9.23" fill="#f8ab91" stroke="none" stroke-width="0.5" />
<rect x="36.80" y="590.38" width="3.05" height="9.23" fill="#d3cdf0" stroke="none" stroke-width="0.5" />
<rect x="36.80" y="599.56" width="3.05" height="9.23" fill="#f68a69" stroke="none" stroke-width="0.5" />
<rect x="36.80" y="608.74" width="3.05" height="9.23" fill="#facab6" stroke="none" stroke-width="0.5" />
<rect x="36.80" y="617.92" width="3.05" height="9.23" fill="#c6bfea" stroke="none" stroke-width="0.5" />
<rect x="36.80" y="627.10" width="3.05" height="9.23" fill="#b0a7e1" stroke="none" stroke-width="0.5" />
<rect x="39.80" y="581.20" width="1.55" height="9.23" fill="#f47d5b" stroke="none" stroke-width="0.5" />
<rect x="39.80" y="590.38" width="1.55" height="9.23" fill="#c4bce9" stroke="none" stroke-width="0.5" />
<rect x="39.80" y="599.56" width="1.55" height="9.23" fill="#f06949" stroke="none" stroke-width="0.5" />
<rect x="39.80" y="608.74" width="1.55" height="9.23" fill="#fae1d7" stroke="none" stroke-width="0.5" />
<rect x="39.80" y="617.92" width="1.55" height="9.23" fill="#b9b1e5" stroke="none" stroke-width="0.5" />
<rect x="39.80" y="627.10" width="1.55" height="9.23" fill="#dcd7f2" stroke="none" stroke-width="0.5" />
<rect x="41.30" y="581.20" width="3.55" height="9.23" fill="#ef6546" stroke="none" stroke-width="0.5" />
<rect x="41.30" y="590.38" width="3.55" height="9.23" fill="#a297da" stroke="none" stroke-width="0.5" />
<rect x="41.30" y="599.56" width="3.55" height="9.23" fill="#f58461" stroke="none" stroke-width="0.5" />
<rect x="41.30" y="608.74" width="3.55" height="9.23" fill="#f7a286" stroke="none" stroke-width="0.5" />
<rect x="41.30" y="617.92" width="3.55" height="9.23" fill="#fad5c5" stroke="none" stroke-width="0.5" />
<rect x="41.30" y="627.10" width="3.55" height="9.23" fill="#dcd6f2" stroke="none" stroke-width="0.5" />
<rect x="44.80" y="581.20" width="3.05" height="9.23" fill="#f68b6a" stroke="none" stroke-width="0.5" />
<rect x="44.80" y="590.38" width="3.05" height="9.23" fill="#a196d9" stroke="none" stroke-width="0.5" />
<rect x="44.80" y="599.56" width="3.05" height="9.23" fill="#f37a58" stroke="none" stroke-width="0.5" />
<rect x="44.80" y="608.74" width="3.05" height="9.23" fill="#c7c0eb" stroke="none" stroke-width="0.5" />
<rect x="44.80" y="617.92" width="3.05" height="9.23" fill="#fad6c7" stroke="none" stroke-width="0.5" />
<rect x="44.80" y="627.10" width="3.05" height="9.23" fill="#b6ade4" stroke="none" stroke-width="0.5" />
<rect x="47.80" y="581.20" width="3.55" height="9.23" fill="#f8a58a" stroke="none" stroke-width="0.5" />
<rect x="47.80" y="590.38" width="3.55" height="9.23" fill="#7262bc" stroke="none" stroke-width="0.5" />
<rect x="47.80" y="599.56" width="3.55" height="9.23" fill="#f58563" stroke="none" stroke-width="0.5" />
<rect x="47.80" y="608.74" width="3.55" height="9.23" fill="#b7afe4" stroke="none" stroke-width="0.5" />
<rect x="47.80" y="617.92" width="3.55" height="9.23" fill="#faeee8" stroke="none" stroke-width="0.5" />
<rect x="47.80" y="627.10" width="3.55" height="9.23" fill="#bcb4e6" stroke="none" stroke-width="0.5" />
<rect x="51.30" y="581.20" width="2.55" height="9.23" fill="#f37554" stroke="none" stroke-width="0.5" />
<rect x="51.30" y="590.38" width="2.55" height="9.23" fill="#a59adc" stroke="none" stroke-width="0.5" />
<rect x="51.30" y="599.56" width="2.55" height="9.23" fill="#f37856" stroke="none" stroke-width="0.5" />
<rect x="51.30" y="608.74" width="2.55" height="9.23" fill="#cbc4ec" stroke="none" stroke-width="0.5" />
<rect x="51.30" y="617.92" width="2.55" height="9.23" fill="#f9bea7" stroke="none" stroke-width="0.5" />
<rect x="51.30" y="627.10" width="2.55" height="9.23" fill="#998dd4" stroke="none" stroke-width="0.5" />
<rect x="53.80" y="581.20" width="2.55" height="9.23" fill="#f47f5c" stroke="none" stroke-width="0.5" />
<rect x="53.80" y="590.38" width="2.55" height="9.23" fill="#bbb3e6" stroke="none" stroke-width="0.5" />
<rect x="53.80" y="599.56" width="2.55" height="9.23" fill="#f47b59" stroke="none" stroke-width="0.5" />
<rect x="53.80" y="608.74" width="2.55" height="9.23" fill="#aca3e0" stroke="none" stroke-width="0.5" />
<rect x="53.80" y="617.92" width="2.55" height="9.23" fill="#faede7" stroke="none" stroke-width="0.5" />
<rect x="53.80" y="627.10" width="2.55" height="9.23" fill="#aea5e1" stroke="none" stroke-width="0.5" />
<rect x="56.30" y="581.20" width="1.55" height="9.23" fill="#f68d6d" stroke="none" stroke-width="0.5" />
<rect x="56.30" y="590.38" width="1.55" height="9.23" fill="#a298da" stroke="none" stroke-width="0.5" />
<rect x="56.30" y="599.56" width="1.55" height="9.23" fill="#f27453" stroke="none" stroke-width="0.5" />
<rect x="56.30" y="608.74" width="1.55" height="9.23" fill="#bbb3e6" stroke="none" stroke-width="0.5" />
<rect x="56.30" y="617.92" width="1.55" height="9.23" fill="#faeae3" stroke="none" stroke-width="0.5" />
<rect x="56.30" y="627.10" width="1.55" height="9.23" fill="#d3ccef" stroke="none" stroke-width="0.5" />
<rect x="57.80" y="581.20" width="3.05" height="9.23" fill="#f69272" stroke="none" stroke-width="0.5" />
<rect x="57.80" y="590.38" width="3.05" height="9.23" fill="#cdc6ed" stroke="none" stroke-width="0.5" />
<rect x="57.80" y="599.56" width="3.05" height="9.23" fill="#f9b69e" stroke="none" stroke-width="0.5" />
<rect x="57.80" y="608.74" width="3.05" height="9.23" fill="#b9b0e5" stroke="none" stroke-width="0.5" />
<rect x="57.80" y="617.92" width="3.05" height="9.23" fill="#fad3c4" stroke="none" stroke-width="0.5" />
<rect x="57.80" y="627.10" width="3.05" height="9.23" fill="#c3bce9" stroke="none" stroke-width="0.5" />
<rect x="60.80" y="581.20" width="2.55" height="9.23" fill="#f7a083" stroke="none" stroke-width="0.5" />
<rect x="60.80" y="590.38" width="2.55" height="9.23" fill="#e2ddf4" stroke="none" stroke-width="0.5" />
<rect x="60.80" y="599.56" width="2.55" height="9.23" fill="#ec5438" stroke="none" stroke-width="0.5" />
<rect x="60.80" y="608.74" width="2.55" height="9.23" fill="#ada3e0" stroke="none" stroke-width="0.5" />
<rect x="60.80" y="617.92" width="2.55" height="9.23" fill="#a99fde" stroke="none" stroke-width="0.5" />
<rect x="60.80" y="627.10" width="2.55" height="9.23" fill="#c5beea" stroke="none" stroke-width="0.5" />
<rect x="63.30" y="581.20" width="2.05" height="9.23" fill="#fac9b6" stroke="none" stroke-width="0.5" />
<rect x="63.30" y="590.38" width="2.05" height="9.23" fill="#fae4db" stroke="none" stroke-width="0.5" />
<rect x="63.30" y="599.56" width="2.05" height="9.23" fill="#f37957" stroke="none" stroke-width="0.5" />
<rect x="63.30" y="608.74" width="2.05" height="9.23" fill="#aba1df" stroke="none" stroke-width="0.5" />
<rect x="63.30" y="617.92" width="2.05" height="9.23" fill="#b2a9e2" stroke="none" stroke-width="0.5" />
<rect x="63.30" y="627.10" width="2.05" height="9.23" fill="#bab2e5" stroke="none" stroke-width="0.5" />
<rect x="65.30" y="581.20" width="1.55" height="9.23" fill="#fac7b3" stroke="none" stroke-width="0.5" />
<rect x="65.30" y="590.38" width="1.55" height="9.23" fill="#d4cef0" stroke="none" stroke-width="0.5" />
<rect x="65.30" y="599.56" width="1.55" height="9.23" fill="#f16c4d" stroke="none" stroke-width="0.5" />
<rect x="65.30" y="608.74" width="1.55" height="9.23" fill="#c4bce9" stroke="none" stroke-width="0.5" />
<rect x="65.30" y="617.92" width="1.55" height="9.23" fill="#b5ace3" stroke="none" stroke-width="0.5" />
<rect x="65.30" y="627.10" width="1.55" height="9.23" fill="#a79dde" stroke="none" stroke-width="0.5" />
<rect x="66.80" y="581.20" width="3.55" height="9.23" fill="#fac3ae" stroke="none" stroke-width="0.5" />
<rect x="66.80" y="590.38" width="3.55" height="9.23" fill="#e2ddf4" stroke="none" stroke-width="0.5" />
<rect x="66.80" y="599.56" width="3.55" height="9.23" fill="#ee5d3f" stroke="none" stroke-width="0.5" />
<rect x="66.80" y="608.74" width="3.55" height="9.23" fill="#c9c2eb" stroke="none" stroke-width="0.5" />
<rect x="66.80" y="617.92" width="3.55" height="9.23" fill="#c0b9e8" stroke="none" stroke-width="0.5" />
<rect x="66.80" y="627.10" width="3.55" height="9.23" fill="#978bd3" stroke="none" stroke-width="0.5" />
<rect x="70.30" y="581.20" width="3.05" height="9.23" fill="#f69576" stroke="none" stroke-width="0.5" />
<rect x="70.30" y="590.38" width="3.05" height="9.23" fill="#fadfd4" stroke="none" stroke-width="0.5" />
<rect x="70.30" y="599.56" width="3.05" height="9.23" fill="#f5825f" stroke="none" stroke-width="0.5" />
<rect x="70.30" y="608.74" width="3.05" height="9.23" fill="#8b7ecc" stroke="none" stroke-width="0.5" />
<rect x="70.30" y="617.92" width="3.05" height="9.23" fill="#b0a7e1" stroke="none" stroke-width="0.5" />
<rect x="70.30" y="627.10" width="3.05" height="9.23" fill="#bbb2e6" stroke="none" stroke-width="0.5" />
<rect x="73.30" y="581.20" width="3.55" height="9.23" fill="#f79f83" stroke="none" stroke-width="0.5" />
<rect x="73.30" y="590.38" width="3.55" height="9.23" fill="#e4e0f5" stroke="none" stroke-width="0.5" />
<rect x="73.30" y="599.56" width="3.55" height="9.23" fill="#e83b22" stroke="none" stroke-width="0.5" />
<rect x="73.30" y="608.74" width="3.55" height="9.23" fill="#b5ace3" stroke="none" stroke-width="0.5" />
<rect x="73.30" y="617.92" width="3.55" height="9.23" fill="#ada3e0" stroke="none" stroke-width="0.5" />
<rect x="73.30" y="627.10" width="3.55" height="9.23" fill="#b4abe3" stroke="none" stroke-width="0.5" />
<rect x="76.80" y="581.20" width="3.05" height="9.23" fill="#facebc" stroke="none" stroke-width="0.5" />
<rect x="76.80" y="590.38" width="3.05" height="9.23" fill="#faede7" stroke="none" stroke-width="0.5" />
<rect x="76.80" y="599.56" width="3.05" height="9.23" fill="#e42812" stroke="none" stroke-width="0.5" />
<rect x="76.80" y="608.74" width="3.05" height="9.23" fill="#beb6e7" stroke="none" stroke-width="0.5" />
<rect x="76.80" y="617.92" width="3.05" height="9.23" fill="#cbc5ec" stroke="none" stroke-width="0.5" />
<rect x="76.80" y="627.10" width="3.05" height="9.23" fill="#aca3e0" stroke="none" stroke-width="0.5" />
<rect x="79.80" y="581.20" width="3.05" height="9.23" fill="#f8af96" stroke="none" stroke-width="0.5" />
<rect x="79.80" y="590.38" width="3.05" height="9.23" fill="#dfdaf3" stroke="none" stroke-width="0.5" />
<rect x="79.80" y="599.56" width="3.05" height="9.23" fill="#e94329" stroke="none" stroke-width="0.5" />
<rect x="79.80" y="608.74" width="3.05" height="9.23" fill="#d3cdf0" stroke="none" stroke-width="0.5" />
<rect x="79.80" y="617.92" width="3.05" height="9.23" fill="#b7aee4" stroke="none" stroke-width="0.5" />
<rect x="79.80" y="627.10" width="3.05" height="9.23" fill="#aaa0df" stroke="none" stroke-width="0.5" />
<rect x="82.80" y="581.20" width="3.55" height="9.23" fill="#f47c5a" stroke="none" stroke-width="0.5" />
<rect x="82.80" y="590.38" width="3.55" height="9.23" fill="#e5e1f5" stroke="none" stroke-width="0.5" />
<rect x="82.80" y="599.56" width="3.55" height="9.23" fill="#ed593c" stroke="none" stroke-width="0.5" />
<rect x="82.80" y="608.74" width="3.55" height="9.23" fill="#beb6e7" stroke="none" stroke-width="0.5" />
<rect x="82.80" y="617.92" width="3.55" height="9.23" fill="#bcb4e6" stroke="none" stroke-width="0.5" />
<rect x="82.80" y="627.10" width="3.55" height="9.23" fill="#b7afe4" stroke="none" stroke-width="0.5" />
<rect x="86.30" y="581.20" width="3.55" height="9.23" fill="#f69272" stroke="none" stroke-width="0.5" />
<rect x="86.30" y="590.38" width="3.55" height="9.23" fill="#e0dbf4" stroke="none" stroke-width="0.5" />
<rect x="86.30" y="599.56" width="3.55" height="9.23" fill="#e6331c" stroke="none" stroke-width="0.5" />
<rect x="86.30" y="608.74" width="3.55" height="9.23" fill="#998dd4" stroke="none" stroke-width="0.5" />
<rect x="86.30" y="617.92" width="3.55" height="9.23" fill="#a59adc" stroke="none" stroke-width="0.5" />
<rect x="86.30" y="627.10" width="3.55" height="9.23" fill="#8b7dcb" stroke="none" stroke-width="0.5" />
<rect x="89.80" y="581.20" width="2.55" height="9.23" fill="#fac4af" stroke="none" stroke-width="0.5" />
<rect x="89.80" y="590.38" width="2.55" height="9.23" fill="#faeae4" stroke="none" stroke-width="0.5" />
<rect x="89.80" y="599.56" width="2.55" height="9.23" fill="#e9452b" stroke="none" stroke-width="0.5" />
<rect x="89.80" y="608.74" width="2.55" height="9.23" fill="#d4cef0" stroke="none" stroke-width="0.5" />
<rect x="89.80" y="617.92" width="2.55" height="9.23" fill="#b3aae2" stroke="none" stroke-width="0.5" />
<rect x="89.80" y="627.10" width="2.55" height="9.23" fill="#8779c9" stroke="none" stroke-width="0.5" />
<rect x="92.30" y="581.20" width="2.55" height="9.23" fill="#f68a69" stroke="none" stroke-width="0.5" />
<rect x="92.30" y="590.38" width="2.55" height="9.23" fill="#fadacd" stroke="none" stroke-width="0.5" />
<rect x="92.30" y="599.56" width="2.55" height="9.23" fill="#f8ae95" stroke="none" stroke-width="0.5" />
<rect x="92.30" y="608.74" width="2.55" height="9.23" fill="#eeeaf8" stroke="none" stroke-width="0.5" />
<rect x="92.30" y="617.92" width="2.55" height="9.23" fill="#8173c6" stroke="none" stroke-width="0.5" />
<rect x="92.30" y="627.10" width="2.55" height="9.23" fill="#b5ace3" stroke="none" stroke-width="0.5" />
<rect x="94.80" y="581.20" width="2.55" height="9.23" fill="#ed593c" stroke="none" stroke-width="0.5" />
<rect x="94.80" y="590.38" width="2.55" height="9.23" fill="#fae8e0" stroke="none" stroke-width="0.5" />
<rect x="94.80" y="599.56" width="2.55" height="9.23" fill="#f9b69e" stroke="none" stroke-width="0.5" />
<rect x="94.80" y="608.74" width="2.55" height="9.23" fill="#bbb3e6" stroke="none" stroke-width="0.5" />
<rect x="94.80" y="617.92" width="2.55" height="9.23" fill="#b5ace3" stroke="none" stroke-width="0.5" />
<rect x="94.80" y="627.10" width="2.55" height="9.23" fill="#998ed5" stroke="none" stroke-width="0.5" />
<rect x="97.30" y="581.20" width="2.55" height="9.23" fill="#eb4e32" stroke="none" stroke-width="0.5" />
<rect x="97.30" y="590.38" width="2.55" height="9.23" fill="#f1eef9" stroke="none" stroke-width="0.5" />
<rect x="97.30" y="599.56" width="2.55" height="9.23" fill="#faddd0" stroke="none" stroke-width="0.5" />
<rect x="97.30" y="608.74" width="2.55" height="9.23" fill="#ebe7f7" stroke="none" stroke-width="0.5" />
<rect x="97.30" y="617.92" width="2.55" height="9.23" fill="#c3bce9" stroke="none" stroke-width="0.5" />
<rect x="97.30" y="627.10" width="2.55" height="9.23" fill="#9386d0" stroke="none" stroke-width="0.5" />
<rect x="99.80" y="581.20" width="2.55" height="9.23" fill="#e42812" stroke="none" stroke-width="0.5" />
<rect x="99.80" y="590.38" width="2.55" height="9.23" fill="#fadcd0" stroke="none" stroke-width="0.5" />
<rect x="99.80" y="599.56" width="2.55" height="9.23" fill="#fae1d6" stroke="none" stroke-width="0.5" />
<rect x="99.80" y="608.74" width="2.55" height="9.23" fill="#c3bce9" stroke="none" stroke-width="0.5" />
<rect x="99.80" y="617.92" width="2.55" height="9.23" fill="#c7bfeb" stroke="none" stroke-width="0.5" />
<rect x="99.80" y="627.10" width="2.55" height="9.23" fill="#7869c0" stroke="none" stroke-width="0.5" />
<rect x="102.30" y="581.20" width="3.05" height="9.23" fill="#eb4c31" stroke="none" stroke-width="0.5" />
<rect x="102.30" y="590.38" width="3.05" height="9.23" fill="#facfbd" stroke="none" stroke-width="0.5" />
<rect x="102.30" y="599.56" width="3.05" height="9.23" fill="#fadfd4" stroke="none" stroke-width="0.5" />
<rect x="102.30" y="608.74" width="3.05" height="9.23" fill="#b4abe3" stroke="none" stroke-width="0.5" />
<rect x="102.30" y="617.92" width="3.05" height="9.23" fill="#8072c5" stroke="none" stroke-width="0.5" />
<rect x="102.30" y="627.10" width="3.05" height="9.23" fill="#8577c8" stroke="none" stroke-width="0.5" />
<rect x="105.30" y="581.20" width="3.55" height="9.23" fill="#ed593c" stroke="none" stroke-width="0.5" />
<rect x="105.30" y="590.38" width="3.55" height="9.23" fill="#facab7" stroke="none" stroke-width="0.5" />
<rect x="105.30" y="599.56" width="3.55" height="9.23" fill="#faece6" stroke="none" stroke-width="0.5" />
<rect x="105.30" y="608.74" width="3.55" height="9.23" fill="#aea5e1" stroke="none" stroke-width="0.5" />
<rect x="105.30" y="617.92" width="3.55" height="9.23" fill="#9589d2" stroke="none" stroke-width="0.5" />
<rect x="105.30" y="627.10" width="3.55" height="9.23" fill="#9083cf" stroke="none" stroke-width="0.5" />
<rect x="108.80" y="581.20" width="1.55" height="9.23" fill="#e83d24" stroke="none" stroke-width="0.5" />
<rect x="108.80" y="590.38" width="1.55" height="9.23" fill="#f68b6a" stroke="none" stroke-width="0.5" />
<rect x="108.80" y="599.56" width="1.55" height="9.23" fill="#faded3" stroke="none" stroke-width="0.5" />
<rect x="108.80" y="608.74" width="1.55" height="9.23" fill="#fad0bf" stroke="none" stroke-width="0.5" />
<rect x="108.80" y="617.92" width="1.55" height="9.23" fill="#b0a7e1" stroke="none" stroke-width="0.5" />
<rect x="108.80" y="627.10" width="1.55" height="9.23" fill="#a196d9" stroke="none" stroke-width="0.5" />
<rect x="110.30" y="581.20" width="1.55" height="9.23" fill="#e42812" stroke="none" stroke-width="0.5" />
<rect x="110.30" y="590.38" width="1.55" height="9.23" fill="#f9b8a0" stroke="none" stroke-width="0.5" />
<rect x="110.30" y="599.56" width="1.55" height="9.23" fill="#efebf8" stroke="none" stroke-width="0.5" />
<rect x="110.30" y="608.74" width="1.55" height="9.23" fill="#f69171" stroke="none" stroke-width="0.5" />
<rect x="110.30" y="617.92" width="1.55" height="9.23" fill="#d5cff0" stroke="none" stroke-width="0.5" />
<rect x="110.30" y="627.10" width="1.55" height="9.23" fill="#cfc9ee" stroke="none" stroke-width="0.5" />
<rect x="111.80" y="581.20" width="3.05" height="9.23" fill="#fac5b1" stroke="none" stroke-width="0.5" />
<rect x="111.80" y="590.38" width="3.05" height="9.23" fill="#eb4e32" stroke="none" stroke-width="0.5" />
<rect x="111.80" y="599.56" width="3.05" height="9.23" fill="#d0caef" stroke="none" stroke-width="0.5" />
<rect x="111.80" y="608.74" width="3.05" height="9.23" fill="#bbb2e6" stroke="none" stroke-width="0.5" />
<rect x="111.80" y="617.92" width="3.05" height="9.23" fill="#9589d2" stroke="none" stroke-width="0.5" />
<rect x="111.80" y="627.10" width="3.05" height="9.23" fill="#9a8ed5" stroke="none" stroke-width="0.5" />
<rect x="114.80" y="581.20" width="2.05" height="9.23" fill="#faccb9" stroke="none" stroke-width="0.5" />
<rect x="114.80" y="590.38" width="2.05" height="9.23" fill="#f27150" stroke="none" stroke-width="0.5" />
<rect x="114.80" y="599.56" width="2.05" height="9.23" fill="#c7c0eb" stroke="none" stroke-width="0.5" />
<rect x="114.80" y="608.74" width="2.05" height="9.23" fill="#dbd5f2" stroke="none" stroke-width="0.5" />
<rect x="114.80" y="617.92" width="2.05" height="9.23" fill="#c7c0eb" stroke="none" stroke-width="0.5" />
<rect x="114.80" y="627.10" width="2.05" height="9.23" fill="#8577c8" stroke="none" stroke-width="0.5" />
<rect x="116.80" y="581.20" width="2.45" height="9.23" fill="#facbb9" stroke="none" stroke-width="0.5" />
<rect x="116.80" y="590.38" width="2.45" height="9.23" fill="#eb4f34" stroke="none" stroke-width="0.5" />
<rect x="116.80" y="599.56" width="2.45" height="9.23" fill="#dad5f2" stroke="none" stroke-width="0.5" />
<rect x="116.80" y="608.74" width="2.45" height="9.23" fill="#b1a8e2" stroke="none" stroke-width="0.5" />
<rect x="116.80" y="617.92" width="2.45" height="9.23" fill="#9a8ed5" stroke="none" stroke-width="0.5" />
<rect x="116.80" y="627.10" width="2.45" height="9.23" fill="#aaa1df" stroke="none" stroke-width="0.5" />
<path d="M56.30,570.01L56.30,567.30M98.90,568.84L98.90,567.30M56.30,567.30L98.90,567.30M45.50,570.86L45.50,570.01M67.09,571.43L67.09,570.01M45.50,570.01L67.09,570.01M36.47,572.43L36.47,570.86M54.53,572.30L54.53,570.86M36.47,570.86L54.53,570.86M31.94,573.48L31.94,572.43M41.00,573.49L41.00,572.43M31.94,572.43L41.00,572.43M29.65,574.94L29.65,573.48M34.22,574.91L34.22,573.48M29.65,573.48L34.22,573.48M28.41,577.46L28.41,574.94M30.90,576.31L30.90,574.94M28.41,574.94L30.90,574.94M27.85,578.60L27.85,577.46M28.96,578.60L28.96,577.46M27.85,577.46L28.96,577.46M30.07,578.60L30.07,576.31M31.73,577.72L31.73,576.31M30.07,576.31L31.73,576.31M31.18,578.60L31.18,577.72M32.28,578.60L32.28,577.72M31.18,577.72L32.28,577.72M33.39,578.60L33.39,574.91M35.05,576.76L35.05,574.91M33.39,574.91L35.05,574.91M34.50,578.60L34.50,576.76M35.60,578.60L35.60,576.76M34.50,576.76L35.60,576.76M38.37,576.39L38.37,573.49M43.63,574.47L43.63,573.49M38.37,573.49L43.63,573.49M37.27,577.89L37.27,576.39M39.48,577.76L39.48,576.39M37.27,576.39L39.48,576.39M36.71,578.60L36.71,577.89M37.82,578.60L37.82,577.89M36.71,577.89L37.82,577.89M38.93,578.60L38.93,577.76M40.03,578.60L40.03,577.76M38.93,577.76L40.03,577.76M41.97,576.27L41.97,574.47M45.29,575.69L45.29,574.47M41.97,574.47L45.29,574.47M41.14,578.60L41.14,576.27M42.80,577.73L42.80,576.27M41.14,576.27L42.80,576.27M42.25,578.60L42.25,577.73M43.35,578.60L43.35,577.73M42.25,577.73L43.35,577.73M44.46,578.60L44.46,575.69M46.12,576.84L46.12,575.69M44.46,575.69L46.12,575.69M45.57,578.60L45.57,576.84M46.68,578.60L46.68,576.84M45.57,576.84L46.68,576.84M50.76,573.15L50.76,572.30M58.30,576.04L58.30,572.30M50.76,572.30L58.30,572.30M48.61,574.97L48.61,573.15M52.90,574.24L52.90,573.15M48.61,573.15L52.90,573.15M47.78,578.60L47.78,574.97M49.44,576.76L49.44,574.97M47.78,574.97L49.44,574.97M48.89,578.60L48.89,576.76M50.00,578.60L50.00,576.76M48.89,576.76L50.00,576.76M51.66,577.58L51.66,574.24M54.15,575.44L54.15,574.24M51.66,574.24L54.15,574.24M51.11,578.60L51.11,577.58M52.21,578.60L52.21,577.58M51.11,577.58L52.21,577.58M53.32,578.60L53.32,575.44M54.98,576.73L54.98,575.44M53.32,575.44L54.98,575.44M54.43,578.60L54.43,576.73M55.53,578.60L55.53,576.73M54.43,576.73L55.53,576.73M57.20,577.31L57.20,576.04M59.41,577.55L59.41,576.04M57.20,576.04L59.41,576.04M56.64,578.60L56.64,577.31M57.75,578.60L57.75,577.31M56.64,577.31L57.75,577.31M58.86,578.60L58.86,577.55M59.96,578.60L59.96,577.55M58.86,577.55L59.96,577.55M63.28,574.42L63.28,571.43M70.90,573.01L70.90,571.43M63.28,571.43L70.90,571.43M61.62,576.97L61.62,574.42M64.95,576.23L64.95,574.42M61.62,574.42L64.95,574.42M61.07,578.60L61.07,576.97M62.18,578.60L62.18,576.97M61.07,576.97L62.18,576.97M63.84,577.88L63.84,576.23M66.05,577.26L66.05,576.23M63.84,576.23L66.05,576.23M63.28,578.60L63.28,577.88M64.39,578.60L64.39,577.88M63.28,577.88L64.39,577.88M65.50,578.60L65.50,577.26M66.61,578.60L66.61,577.26M65.50,577.26L66.61,577.26M68.68,574.81L68.68,573.01M73.11,574.43L73.11,573.01M68.68,573.01L73.11,573.01M67.71,578.60L67.71,574.81M69.65,576.68L69.65,574.81M67.71,574.81L69.65,574.81M68.82,578.60L68.82,576.68M70.48,577.58L70.48,576.68M68.82,576.68L70.48,576.68M69.93,578.60L69.93,577.58M71.04,578.60L71.04,577.58M69.93,577.58L71.04,577.58M72.14,578.60L72.14,574.43M74.08,575.90L74.08,574.43M72.14,574.43L74.08,574.43M73.25,578.60L73.25,575.90M74.91,577.17L74.91,575.90M73.25,575.90L74.91,575.90M74.36,578.60L74.36,577.17M75.46,578.60L75.46,577.17M74.36,577.17L75.46,577.17M87.42,570.72L87.42,568.84M110.38,570.87L110.38,568.84M87.42,568.84L110.38,568.84M80.17,573.70L80.17,570.72M94.67,572.42L94.67,570.72M80.17,570.72L94.67,570.72M77.54,574.95L77.54,573.70M82.80,575.44L82.80,573.70M77.54,573.70L82.80,573.70M76.57,578.60L76.57,574.95M78.51,576.21L78.51,574.95M76.57,574.95L78.51,574.95M77.68,578.60L77.68,576.21M79.34,577.54L79.34,576.21M77.68,576.21L79.34,576.21M78.79,578.60L78.79,577.54M79.89,578.60L79.89,577.54M78.79,577.54L79.89,577.54M81.55,577.01L81.55,575.44M84.05,576.44L84.05,575.44M81.55,575.44L84.05,575.44M81.00,578.60L81.00,577.01M82.11,578.60L82.11,577.01M81.00,577.01L82.11,577.01M83.22,578.60L83.22,576.44M84.88,577.19L84.88,576.44M83.22,576.44L84.88,576.44M84.32,578.60L84.32,577.19M85.43,578.60L85.43,577.19M84.32,577.19L85.43,577.19M91.03,573.21L91.03,572.42M98.30,574.91L98.30,572.42M91.03,572.42L98.30,572.42M88.34,574.37L88.34,573.21M93.73,575.36L93.73,573.21M88.34,573.21L93.73,573.21M87.09,577.87L87.09,574.37M89.58,575.76L89.58,574.37M87.09,574.37L89.58,574.37M86.54,578.60L86.54,577.87M87.64,578.60L87.64,577.87M86.54,577.87L87.64,577.87M88.75,578.60L88.75,575.76M90.41,576.97L90.41,575.76M88.75,575.76L90.41,575.76M89.86,578.60L89.86,576.97M90.97,578.60L90.97,576.97M89.86,576.97L90.97,576.97M92.63,577.14L92.63,575.36M94.84,577.32L94.84,575.36M92.63,575.36L94.84,575.36M92.07,578.60L92.07,577.14M93.18,578.60L93.18,577.14M92.07,577.14L93.18,577.14M94.29,578.60L94.29,577.32M95.39,578.60L95.39,577.32M94.29,577.32L95.39,577.32M97.06,576.89L97.06,574.91M99.55,576.60L99.55,574.91M97.06,574.91L99.55,574.91M96.50,578.60L96.50,576.89M97.61,578.60L97.61,576.89M96.50,576.89L97.61,576.89M98.72,578.60L98.72,576.60M100.38,577.66L100.38,576.60M98.72,576.60L100.38,576.60M99.82,578.60L99.82,577.66M100.93,578.60L100.93,577.66M99.82,577.66L100.93,577.66M105.64,572.91L105.64,570.87M115.12,572.74L115.12,570.87M105.64,570.87L115.12,570.87M103.01,574.31L103.01,572.91M108.27,575.31L108.27,572.91M103.01,572.91L108.27,572.91M102.04,578.60L102.04,574.31M103.98,575.19L103.98,574.31M102.04,574.31L103.98,574.31M103.15,578.60L103.15,575.19M104.81,576.97L104.81,575.19M103.15,575.19L104.81,575.19M104.25,578.60L104.25,576.97M105.36,578.60L105.36,576.97M104.25,576.97L105.36,576.97M107.02,577.24L107.02,575.31M109.51,576.20L109.51,575.31M107.02,575.31L109.51,575.31M106.47,578.60L106.47,577.24M107.57,578.60L107.57,577.24M106.47,577.24L107.57,577.24M108.68,578.60L108.68,576.20M110.34,577.30L110.34,576.20M108.68,576.20L110.34,576.20M109.79,578.60L109.79,577.30M110.90,578.60L110.90,577.30M109.79,577.30L110.90,577.30M112.97,574.30L112.97,572.74M117.26,576.37L117.26,572.74M112.97,572.74L117.26,572.74M112.00,578.60L112.00,574.30M113.94,575.94L113.94,574.30M112.00,574.30L113.94,574.30M113.11,578.60L113.11,575.94M114.77,577.62L114.77,575.94M113.11,575.94L114.77,575.94M114.22,578.60L114.22,577.62M115.32,578.60L115.32,577.62M114.22,577.62L115.32,577.62M116.43,578.60L116.43,576.37M118.09,577.11L118.09,576.37M116.43,576.37L118.09,576.37M117.54,578.60L117.54,577.11M118.65,578.60L118.65,577.11M117.54,577.11L118.65,577.11" stroke="#333" stroke-width="0.5" fill="none"/>
<rect x="27.30" y="578.20" width="91.90" height="2.80" fill="#111" stroke="none" stroke-width="0.5" />
<text x="72.50" y="562.49" font-size="7.2" fill="#222" text-anchor="middle" >1</text>
<rect x="120.30" y="581.20" width="1.55" height="9.23" fill="#fad6c8" stroke="none" stroke-width="0.5" />
<rect x="120.30" y="590.38" width="1.55" height="9.23" fill="#faddd2" stroke="none" stroke-width="0.5" />
<rect x="120.30" y="599.56" width="1.55" height="9.23" fill="#b9b1e5" stroke="none" stroke-width="0.5" />
<rect x="120.30" y="608.74" width="1.55" height="9.23" fill="#4e3aa5" stroke="none" stroke-width="0.5" />
<rect x="120.30" y="617.92" width="1.55" height="9.23" fill="#f27453" stroke="none" stroke-width="0.5" />
<rect x="120.30" y="627.10" width="1.55" height="9.23" fill="#f58765" stroke="none" stroke-width="0.5" />
<rect x="121.80" y="581.20" width="2.55" height="9.23" fill="#fae2d8" stroke="none" stroke-width="0.5" />
<rect x="121.80" y="590.38" width="2.55" height="9.23" fill="#f2eff9" stroke="none" stroke-width="0.5" />
<rect x="121.80" y="599.56" width="2.55" height="9.23" fill="#d8d2f1" stroke="none" stroke-width="0.5" />
<rect x="121.80" y="608.74" width="2.55" height="9.23" fill="#7666be" stroke="none" stroke-width="0.5" />
<rect x="121.80" y="617.92" width="2.55" height="9.23" fill="#f7a185" stroke="none" stroke-width="0.5" />
<rect x="121.80" y="627.10" width="2.55" height="9.23" fill="#f9bba5" stroke="none" stroke-width="0.5" />
<rect x="124.30" y="581.20" width="2.05" height="9.23" fill="#e6e2f5" stroke="none" stroke-width="0.5" />
<rect x="124.30" y="590.38" width="2.05" height="9.23" fill="#fae2d7" stroke="none" stroke-width="0.5" />
<rect x="124.30" y="599.56" width="2.05" height="9.23" fill="#cfc8ee" stroke="none" stroke-width="0.5" />
<rect x="124.30" y="608.74" width="2.05" height="9.23" fill="#6c5cb8" stroke="none" stroke-width="0.5" />
<rect x="124.30" y="617.92" width="2.05" height="9.23" fill="#f5805d" stroke="none" stroke-width="0.5" />
<rect x="124.30" y="627.10" width="2.05" height="9.23" fill="#f7a387" stroke="none" stroke-width="0.5" />
<rect x="126.30" y="581.20" width="3.05" height="9.23" fill="#e5e1f5" stroke="none" stroke-width="0.5" />
<rect x="126.30" y="590.38" width="3.05" height="9.23" fill="#faebe4" stroke="none" stroke-width="0.5" />
<rect x="126.30" y="599.56" width="3.05" height="9.23" fill="#c5beea" stroke="none" stroke-width="0.5" />
<rect x="126.30" y="608.74" width="3.05" height="9.23" fill="#6f5fba" stroke="none" stroke-width="0.5" />
<rect x="126.30" y="617.92" width="3.05" height="9.23" fill="#fac1ac" stroke="none" stroke-width="0.5" />
<rect x="126.30" y="627.10" width="3.05" height="9.23" fill="#fac5b1" stroke="none" stroke-width="0.5" />
<rect x="129.30" y="581.20" width="2.55" height="9.23" fill="#e6e2f5" stroke="none" stroke-width="0.5" />
<rect x="129.30" y="590.38" width="2.55" height="9.23" fill="#fae9e2" stroke="none" stroke-width="0.5" />
<rect x="129.30" y="599.56" width="2.55" height="9.23" fill="#cdc7ed" stroke="none" stroke-width="0.5" />
<rect x="129.30" y="608.74" width="2.55" height="9.23" fill="#e6e2f5" stroke="none" stroke-width="0.5" />
<rect x="129.30" y="617.92" width="2.55" height="9.23" fill="#f8b097" stroke="none" stroke-width="0.5" />
<rect x="129.30" y="627.10" width="2.55" height="9.23" fill="#f7997a" stroke="none" stroke-width="0.5" />
<rect x="131.80" y="581.20" width="3.55" height="9.23" fill="#7e6fc3" stroke="none" stroke-width="0.5" />
<rect x="131.80" y="590.38" width="3.55" height="9.23" fill="#fae8e0" stroke="none" stroke-width="0.5" />
<rect x="131.80" y="599.56" width="3.55" height="9.23" fill="#bcb4e6" stroke="none" stroke-width="0.5" />
<rect x="131.80" y="608.74" width="3.55" height="9.23" fill="#d8d3f1" stroke="none" stroke-width="0.5" />
<rect x="131.80" y="617.92" width="3.55" height="9.23" fill="#f7997b" stroke="none" stroke-width="0.5" />
<rect x="131.80" y="627.10" width="3.55" height="9.23" fill="#f79879" stroke="none" stroke-width="0.5" />
<rect x="135.30" y="581.20" width="2.05" height="9.23" fill="#a69cdd" stroke="none" stroke-width="0.5" />
<rect x="135.30" y="590.38" width="2.05" height="9.23" fill="#e6e1f5" stroke="none" stroke-width="0.5" />
<rect x="135.30" y="599.56" width="2.05" height="9.23" fill="#978cd4" stroke="none" stroke-width="0.5" />
<rect x="135.30" y="608.74" width="2.05" height="9.23" fill="#f9b49b" stroke="none" stroke-width="0.5" />
<rect x="135.30" y="617.92" width="2.05" height="9.23" fill="#f7a185" stroke="none" stroke-width="0.5" />
<rect x="135.30" y="627.10" width="2.05" height="9.23" fill="#f47e5b" stroke="none" stroke-width="0.5" />
<rect x="137.30" y="581.20" width="2.55" height="9.23" fill="#b2a9e2" stroke="none" stroke-width="0.5" />
<rect x="137.30" y="590.38" width="2.55" height="9.23" fill="#fad6c8" stroke="none" stroke-width="0.5" />
<rect x="137.30" y="599.56" width="2.55" height="9.23" fill="#b8afe4" stroke="none" stroke-width="0.5" />
<rect x="137.30" y="608.74" width="2.55" height="9.23" fill="#f9b49c" stroke="none" stroke-width="0.5" />
<rect x="137.30" y="617.92" width="2.55" height="9.23" fill="#f9b8a0" stroke="none" stroke-width="0.5" />
<rect x="137.30" y="627.10" width="2.55" height="9.23" fill="#f68e6e" stroke="none" stroke-width="0.5" />
<rect x="139.80" y="581.20" width="3.05" height="9.23" fill="#7868c0" stroke="none" stroke-width="0.5" />
<rect x="139.80" y="590.38" width="3.05" height="9.23" fill="#fae2d8" stroke="none" stroke-width="0.5" />
<rect x="139.80" y="599.56" width="3.05" height="9.23" fill="#b1a7e2" stroke="none" stroke-width="0.5" />
<rect x="139.80" y="608.74" width="3.05" height="9.23" fill="#fac3ae" stroke="none" stroke-width="0.5" />
<rect x="139.80" y="617.92" width="3.05" height="9.23" fill="#f5f2fa" stroke="none" stroke-width="0.5" />
<rect x="139.80" y="627.10" width="3.05" height="9.23" fill="#f68c6b" stroke="none" stroke-width="0.5" />
<rect x="142.80" y="581.20" width="2.05" height="9.23" fill="#aca3e0" stroke="none" stroke-width="0.5" />
<rect x="142.80" y="590.38" width="2.05" height="9.23" fill="#faebe4" stroke="none" stroke-width="0.5" />
<rect x="142.80" y="599.56" width="2.05" height="9.23" fill="#b8b0e5" stroke="none" stroke-width="0.5" />
<rect x="142.80" y="608.74" width="2.05" height="9.23" fill="#faded3" stroke="none" stroke-width="0.5" />
<rect x="142.80" y="617.92" width="2.05" height="9.23" fill="#facfbe" stroke="none" stroke-width="0.5" />
<rect x="142.80" y="627.10" width="2.05" height="9.23" fill="#ef6243" stroke="none" stroke-width="0.5" />
<rect x="144.80" y="581.20" width="3.05" height="9.23" fill="#988dd4" stroke="none" stroke-width="0.5" />
<rect x="144.80" y="590.38" width="3.05" height="9.23" fill="#faede7" stroke="none" stroke-width="0.5" />
<rect x="144.80" y="599.56" width="3.05" height="9.23" fill="#a095d9" stroke="none" stroke-width="0.5" />
<rect x="144.80" y="608.74" width="3.05" height="9.23" fill="#facdbb" stroke="none" stroke-width="0.5" />
<rect x="144.80" y="617.92" width="3.05" height="9.23" fill="#faf0ec" stroke="none" stroke-width="0.5" />
<rect x="144.80" y="627.10" width="3.05" height="9.23" fill="#f8ad93" stroke="none" stroke-width="0.5" />
<rect x="147.80" y="581.20" width="3.75" height="9.23" fill="#8375c7" stroke="none" stroke-width="0.5" />
<rect x="147.80" y="590.38" width="3.75" height="9.23" fill="#e8e4f6" stroke="none" stroke-width="0.5" />
<rect x="147.80" y="599.56" width="3.75" height="9.23" fill="#9185d0" stroke="none" stroke-width="0.5" />
<rect x="147.80" y="608.74" width="3.75" height="9.23" fill="#f79b7d" stroke="none" stroke-width="0.5" />
<rect x="147.80" y="617.92" width="3.75" height="9.23" fill="#eeebf8" stroke="none" stroke-width="0.5" />
<rect x="147.80" y="627.10" width="3.75" height="9.23" fill="#f9b49c" stroke="none" stroke-width="0.5" />
<path d="M128.96,568.72L128.96,567.90M144.01,571.11L144.01,567.90M128.96,567.90L144.01,567.90M124.11,569.77L124.11,568.72M133.81,573.95L133.81,568.72M124.11,568.72L133.81,568.72M121.83,574.37L121.83,569.77M126.39,571.13L126.39,569.77M121.83,569.77L126.39,569.77M120.86,578.60L120.86,574.37M122.81,575.41L122.81,574.37M120.86,574.37L122.81,574.37M121.97,578.60L121.97,575.41M123.64,576.49L123.64,575.41M121.97,575.41L123.64,575.41M123.09,578.60L123.09,576.49M124.20,578.60L124.20,576.49M123.09,576.49L124.20,576.49M125.31,578.60L125.31,571.13M127.47,572.39L127.47,571.13M125.31,571.13L127.47,571.13M126.43,578.60L126.43,572.39M128.52,574.06L128.52,572.39M126.43,572.39L128.52,572.39M127.54,578.60L127.54,574.06M129.49,576.10L129.49,574.06M127.54,574.06L129.49,574.06M128.66,578.60L128.66,576.10M130.33,577.55L130.33,576.10M128.66,576.10L130.33,576.10M129.77,578.60L129.77,577.55M130.89,578.60L130.89,577.55M129.77,577.55L130.89,577.55M132.56,576.57L132.56,573.95M135.06,575.36L135.06,573.95M132.56,573.95L135.06,573.95M132.00,578.60L132.00,576.57M133.11,578.60L133.11,576.57M132.00,576.57L133.11,576.57M134.23,578.60L134.23,575.36M135.90,576.58L135.90,575.36M134.23,575.36L135.90,575.36M135.34,578.60L135.34,576.58M136.46,578.60L136.46,576.58M135.34,576.58L136.46,576.58M140.15,571.99L140.15,571.11M147.88,574.34L147.88,571.11M140.15,571.11L147.88,571.11M138.13,576.65L138.13,571.99M142.17,573.78L142.17,571.99M138.13,571.99L142.17,571.99M137.57,578.60L137.57,576.65M138.69,578.60L138.69,576.65M137.57,576.65L138.69,576.65M140.64,575.66L140.64,573.78M143.70,577.66L143.70,573.78M140.64,573.78L143.70,573.78M139.80,578.60L139.80,575.66M141.47,577.18L141.47,575.66M139.80,575.66L141.47,575.66M140.91,578.60L140.91,577.18M142.03,578.60L142.03,577.18M140.91,577.18L142.03,577.18M143.14,578.60L143.14,577.66M144.26,578.60L144.26,577.66M143.14,577.66L144.26,577.66M146.21,575.78L146.21,574.34M149.55,575.56L149.55,574.34M146.21,574.34L149.55,574.34M145.37,578.60L145.37,575.78M147.04,577.76L147.04,575.78M145.37,575.78L147.04,575.78M146.49,578.60L146.49,577.76M147.60,578.60L147.60,577.76M146.49,577.76L147.60,577.76M148.71,578.60L148.71,575.56M150.39,577.35L150.39,575.56M148.71,575.56L150.39,575.56M149.83,578.60L149.83,577.35M150.94,578.60L150.94,577.35M149.83,577.35L150.94,577.35" stroke="#333" stroke-width="0.5" fill="none"/>
<rect x="120.30" y="578.20" width="31.20" height="2.80" fill="#111" stroke="none" stroke-width="0.5" />
<text x="135.60" y="562.49" font-size="7.2" fill="#222" text-anchor="middle" >2</text>
<rect x="152.60" y="581.20" width="3.05" height="9.23" fill="#c4bde9" stroke="none" stroke-width="0.5" />
<rect x="152.60" y="590.38" width="3.05" height="9.23" fill="#e6321b" stroke="none" stroke-width="0.5" />
<rect x="152.60" y="599.56" width="3.05" height="9.23" fill="#efecf8" stroke="none" stroke-width="0.5" />
<rect x="152.60" y="608.74" width="3.05" height="9.23" fill="#e3def4" stroke="none" stroke-width="0.5" />
<rect x="152.60" y="617.92" width="3.05" height="9.23" fill="#b7aee4" stroke="none" stroke-width="0.5" />
<rect x="152.60" y="627.10" width="3.05" height="9.23" fill="#ded9f3" stroke="none" stroke-width="0.5" />
<rect x="155.60" y="581.20" width="2.05" height="9.23" fill="#fae4da" stroke="none" stroke-width="0.5" />
<rect x="155.60" y="590.38" width="2.05" height="9.23" fill="#e6351d" stroke="none" stroke-width="0.5" />
<rect x="155.60" y="599.56" width="2.05" height="9.23" fill="#cac3ec" stroke="none" stroke-width="0.5" />
<rect x="155.60" y="608.74" width="2.05" height="9.23" fill="#c7c0eb" stroke="none" stroke-width="0.5" />
<rect x="155.60" y="617.92" width="2.05" height="9.23" fill="#9a8fd5" stroke="none" stroke-width="0.5" />
<rect x="155.60" y="627.10" width="2.05" height="9.23" fill="#a99fde" stroke="none" stroke-width="0.5" />
<rect x="157.60" y="581.20" width="2.55" height="9.23" fill="#e7e2f5" stroke="none" stroke-width="0.5" />
<rect x="157.60" y="590.38" width="2.55" height="9.23" fill="#eb4f34" stroke="none" stroke-width="0.5" />
<rect x="157.60" y="599.56" width="2.55" height="9.23" fill="#dcd6f2" stroke="none" stroke-width="0.5" />
<rect x="157.60" y="608.74" width="2.55" height="9.23" fill="#d8d3f1" stroke="none" stroke-width="0.5" />
<rect x="157.60" y="617.92" width="2.55" height="9.23" fill="#d3cdf0" stroke="none" stroke-width="0.5" />
<rect x="157.60" y="627.10" width="2.55" height="9.23" fill="#c4bdea" stroke="none" stroke-width="0.5" />
<rect x="160.10" y="581.20" width="2.05" height="9.23" fill="#efecf8" stroke="none" stroke-width="0.5" />
<rect x="160.10" y="590.38" width="2.05" height="9.23" fill="#e52d16" stroke="none" stroke-width="0.5" />
<rect x="160.10" y="599.56" width="2.05" height="9.23" fill="#f3eff9" stroke="none" stroke-width="0.5" />
<rect x="160.10" y="608.74" width="2.05" height="9.23" fill="#afa6e1" stroke="none" stroke-width="0.5" />
<rect x="160.10" y="617.92" width="2.05" height="9.23" fill="#bcb4e6" stroke="none" stroke-width="0.5" />
<rect x="160.10" y="627.10" width="2.05" height="9.23" fill="#b6aee4" stroke="none" stroke-width="0.5" />
<rect x="162.10" y="581.20" width="3.15" height="9.23" fill="#fae3d9" stroke="none" stroke-width="0.5" />
<rect x="162.10" y="590.38" width="3.15" height="9.23" fill="#f79d80" stroke="none" stroke-width="0.5" />
<rect x="162.10" y="599.56" width="3.15" height="9.23" fill="#dcd6f2" stroke="none" stroke-width="0.5" />
<rect x="162.10" y="608.74" width="3.15" height="9.23" fill="#aba1df" stroke="none" stroke-width="0.5" />
<rect x="162.10" y="617.92" width="3.15" height="9.23" fill="#7566be" stroke="none" stroke-width="0.5" />
<rect x="162.10" y="627.10" width="3.15" height="9.23" fill="#b4abe3" stroke="none" stroke-width="0.5" />
<path d="M155.03,571.56L155.03,569.20M161.98,571.37L161.98,569.20M155.03,569.20L161.98,569.20M153.75,577.10L153.75,571.56M156.32,573.92L156.32,571.56M153.75,571.56L156.32,571.56M153.17,578.60L153.17,577.10M154.32,578.60L154.32,577.10M153.17,577.10L154.32,577.10M155.46,578.60L155.46,573.92M157.18,577.15L157.18,573.92M155.46,573.92L157.18,573.92M156.61,578.60L156.61,577.15M157.75,578.60L157.75,577.15M156.61,577.15L157.75,577.15M159.90,573.22L159.90,571.37M164.05,577.17L164.05,571.37M159.90,571.37L164.05,571.37M158.90,578.60L158.90,573.22M160.90,575.37L160.90,573.22M158.90,573.22L160.90,573.22M160.05,578.60L160.05,575.37M161.76,576.78L161.76,575.37M160.05,575.37L161.76,575.37M161.19,578.60L161.19,576.78M162.34,578.60L162.34,576.78M161.19,576.78L162.34,576.78M163.48,578.60L163.48,577.17M164.63,578.60L164.63,577.17M163.48,577.17L164.63,577.17" stroke="#333" stroke-width="0.5" fill="none"/>
<rect x="152.60" y="578.20" width="12.60" height="2.80" fill="#111" stroke="none" stroke-width="0.5" />
<text x="159.30" y="562.49" font-size="7.2" fill="#222" text-anchor="middle" >3</text>
<rect x="166.20" y="581.20" width="2.55" height="9.23" fill="#ada3e0" stroke="none" stroke-width="0.5" />
<rect x="166.20" y="590.38" width="2.55" height="9.23" fill="#b6ade4" stroke="none" stroke-width="0.5" />
<rect x="166.20" y="599.56" width="2.55" height="9.23" fill="#f4f1f9" stroke="none" stroke-width="0.5" />
<rect x="166.20" y="608.74" width="2.55" height="9.23" fill="#f69475" stroke="none" stroke-width="0.5" />
<rect x="166.20" y="617.92" width="2.55" height="9.23" fill="#fad1c0" stroke="none" stroke-width="0.5" />
<rect x="166.20" y="627.10" width="2.55" height="9.23" fill="#e8e4f6" stroke="none" stroke-width="0.5" />
<rect x="168.70" y="581.20" width="2.05" height="9.23" fill="#bdb5e7" stroke="none" stroke-width="0.5" />
<rect x="168.70" y="590.38" width="2.05" height="9.23" fill="#d2ccef" stroke="none" stroke-width="0.5" />
<rect x="168.70" y="599.56" width="2.05" height="9.23" fill="#e8e4f6" stroke="none" stroke-width="0.5" />
<rect x="168.70" y="608.74" width="2.05" height="9.23" fill="#f5805e" stroke="none" stroke-width="0.5" />
<rect x="168.70" y="617.92" width="2.05" height="9.23" fill="#faf0eb" stroke="none" stroke-width="0.5" />
<rect x="168.70" y="627.10" width="2.05" height="9.23" fill="#f3f0f9" stroke="none" stroke-width="0.5" />
<rect x="170.70" y="581.20" width="3.55" height="9.23" fill="#ada4e0" stroke="none" stroke-width="0.5" />
<rect x="170.70" y="590.38" width="3.55" height="9.23" fill="#dfdaf3" stroke="none" stroke-width="0.5" />
<rect x="170.70" y="599.56" width="3.55" height="9.23" fill="#dfdaf3" stroke="none" stroke-width="0.5" />
<rect x="170.70" y="608.74" width="3.55" height="9.23" fill="#f7a589" stroke="none" stroke-width="0.5" />
<rect x="170.70" y="617.92" width="3.55" height="9.23" fill="#f47f5c" stroke="none" stroke-width="0.5" />
<rect x="170.70" y="627.10" width="3.55" height="9.23" fill="#fadcd0" stroke="none" stroke-width="0.5" />
<rect x="174.20" y="581.20" width="3.05" height="9.23" fill="#7767bf" stroke="none" stroke-width="0.5" />
<rect x="174.20" y="590.38" width="3.05" height="9.23" fill="#a69cdd" stroke="none" stroke-width="0.5" />
<rect x="174.20" y="599.56" width="3.05" height="9.23" fill="#f27352" stroke="none" stroke-width="0.5" />
<rect x="174.20" y="608.74" width="3.05" height="9.23" fill="#f68a68" stroke="none" stroke-width="0.5" />
<rect x="174.20" y="617.92" width="3.05" height="9.23" fill="#fad6c8" stroke="none" stroke-width="0.5" />
<rect x="174.20" y="627.10" width="3.05" height="9.23" fill="#dfdaf3" stroke="none" stroke-width="0.5" />
<rect x="177.20" y="581.20" width="2.05" height="9.23" fill="#7768bf" stroke="none" stroke-width="0.5" />
<rect x="177.20" y="590.38" width="2.05" height="9.23" fill="#a398db" stroke="none" stroke-width="0.5" />
<rect x="177.20" y="599.56" width="2.05" height="9.23" fill="#fad2c2" stroke="none" stroke-width="0.5" />
<rect x="177.20" y="608.74" width="2.05" height="9.23" fill="#f58866" stroke="none" stroke-width="0.5" />
<rect x="177.20" y="617.92" width="2.05" height="9.23" fill="#facab6" stroke="none" stroke-width="0.5" />
<rect x="177.20" y="627.10" width="2.05" height="9.23" fill="#fad9cb" stroke="none" stroke-width="0.5" />
<rect x="179.20" y="581.20" width="2.05" height="9.23" fill="#8f82ce" stroke="none" stroke-width="0.5" />
<rect x="179.20" y="590.38" width="2.05" height="9.23" fill="#aea4e0" stroke="none" stroke-width="0.5" />
<rect x="179.20" y="599.56" width="2.05" height="9.23" fill="#f7a589" stroke="none" stroke-width="0.5" />
<rect x="179.20" y="608.74" width="2.05" height="9.23" fill="#f5815e" stroke="none" stroke-width="0.5" />
<rect x="179.20" y="617.92" width="2.05" height="9.23" fill="#faded2" stroke="none" stroke-width="0.5" />
<rect x="179.20" y="627.10" width="2.05" height="9.23" fill="#fae1d6" stroke="none" stroke-width="0.5" />
<rect x="181.20" y="581.20" width="2.05" height="9.23" fill="#8172c5" stroke="none" stroke-width="0.5" />
<rect x="181.20" y="590.38" width="2.05" height="9.23" fill="#9185d0" stroke="none" stroke-width="0.5" />
<rect x="181.20" y="599.56" width="2.05" height="9.23" fill="#fad6c7" stroke="none" stroke-width="0.5" />
<rect x="181.20" y="608.74" width="2.05" height="9.23" fill="#ef6042" stroke="none" stroke-width="0.5" />
<rect x="181.20" y="617.92" width="2.05" height="9.23" fill="#f9b69e" stroke="none" stroke-width="0.5" />
<rect x="181.20" y="627.10" width="2.05" height="9.23" fill="#ded9f3" stroke="none" stroke-width="0.5" />
<rect x="183.20" y="581.20" width="1.55" height="9.23" fill="#f8b198" stroke="none" stroke-width="0.5" />
<rect x="183.20" y="590.38" width="1.55" height="9.23" fill="#8678c8" stroke="none" stroke-width="0.5" />
<rect x="183.20" y="599.56" width="1.55" height="9.23" fill="#faede7" stroke="none" stroke-width="0.5" />
<rect x="183.20" y="608.74" width="1.55" height="9.23" fill="#f16b4b" stroke="none" stroke-width="0.5" />
<rect x="183.20" y="617.92" width="1.55" height="9.23" fill="#f06a4a" stroke="none" stroke-width="0.5" />
<rect x="183.20" y="627.10" width="1.55" height="9.23" fill="#faebe4" stroke="none" stroke-width="0.5" />
<rect x="184.70" y="581.20" width="2.05" height="9.23" fill="#fae8e0" stroke="none" stroke-width="0.5" />
<rect x="184.70" y="590.38" width="2.05" height="9.23" fill="#6150b1" stroke="none" stroke-width="0.5" />
<rect x="184.70" y="599.56" width="2.05" height="9.23" fill="#facbb8" stroke="none" stroke-width="0.5" />
<rect x="184.70" y="608.74" width="2.05" height="9.23" fill="#f9b69e" stroke="none" stroke-width="0.5" />
<rect x="184.70" y="617.92" width="2.05" height="9.23" fill="#ec5538" stroke="none" stroke-width="0.5" />
<rect x="184.70" y="627.10" width="2.05" height="9.23" fill="#f5f2fa" stroke="none" stroke-width="0.5" />
<rect x="186.70" y="581.20" width="2.15" height="9.23" fill="#fadacc" stroke="none" stroke-width="0.5" />
<rect x="186.70" y="590.38" width="2.15" height="9.23" fill="#a59bdc" stroke="none" stroke-width="0.5" />
<rect x="186.70" y="599.56" width="2.15" height="9.23" fill="#faddd1" stroke="none" stroke-width="0.5" />
<rect x="186.70" y="608.74" width="2.15" height="9.23" fill="#f58360" stroke="none" stroke-width="0.5" />
<rect x="186.70" y="617.92" width="2.15" height="9.23" fill="#f27251" stroke="none" stroke-width="0.5" />
<rect x="186.70" y="627.10" width="2.15" height="9.23" fill="#fae7de" stroke="none" stroke-width="0.5" />
<path d="M170.01,572.83L170.01,569.20M182.80,570.93L182.80,569.20M170.01,569.20L182.80,569.20M167.75,574.64L167.75,572.83M172.27,575.70L172.27,572.83M167.75,572.83L172.27,572.83M166.76,578.60L166.76,574.64M168.74,576.08L168.74,574.64M166.76,574.64L168.74,574.64M167.89,578.60L167.89,576.08M169.59,577.78L169.59,576.08M167.89,576.08L169.59,576.08M169.02,578.60L169.02,577.78M170.16,578.60L170.16,577.78M169.02,577.78L170.16,577.78M171.28,578.60L171.28,575.70M173.26,576.88L173.26,575.70M171.28,575.70L173.26,575.70M172.41,578.60L172.41,576.88M174.11,577.79L174.11,576.88M172.41,576.88L174.11,576.88M173.54,578.60L173.54,577.79M174.68,578.60L174.68,577.79M173.54,577.79L174.68,577.79M179.05,572.84L179.05,570.93M186.54,575.67L186.54,570.93M179.05,570.93L186.54,570.93M176.79,574.97L176.79,572.84M181.31,573.71L181.31,572.84M176.79,572.84L181.31,572.84M175.81,578.60L175.81,574.97M177.78,576.13L177.78,574.97M175.81,574.97L177.78,574.97M176.94,578.60L176.94,576.13M178.63,577.32L178.63,576.13M176.94,576.13L178.63,576.13M178.06,578.60L178.06,577.32M179.19,578.60L179.19,577.32M178.06,577.32L179.19,577.32M180.32,578.60L180.32,573.71M182.30,575.36L182.30,573.71M180.32,573.71L182.30,573.71M181.46,578.60L181.46,575.36M183.15,577.13L183.15,575.36M181.46,575.36L183.15,575.36M182.59,578.60L182.59,577.13M183.72,578.60L183.72,577.13M182.59,577.13L183.72,577.13M185.41,577.64L185.41,575.67M187.67,576.97L187.67,575.67M185.41,575.67L187.67,575.67M184.84,578.60L184.84,577.64M185.98,578.60L185.98,577.64M184.84,577.64L185.98,577.64M187.11,578.60L187.11,576.97M188.24,578.60L188.24,576.97M187.11,576.97L188.24,576.97" stroke="#333" stroke-width="0.5" fill="none"/>
<rect x="166.20" y="578.20" width="22.60" height="2.80" fill="#111" stroke="none" stroke-width="0.5" />
<text x="177.30" y="562.49" font-size="7.2" fill="#222" text-anchor="middle" >4</text>
<rect x="190.20" y="581.20" width="1.55" height="9.23" fill="#e8e4f6" stroke="none" stroke-width="0.5" />
<rect x="190.20" y="590.38" width="1.55" height="9.23" fill="#d0caee" stroke="none" stroke-width="0.5" />
<rect x="190.20" y="599.56" width="1.55" height="9.23" fill="#e52e17" stroke="none" stroke-width="0.5" />
<rect x="190.20" y="608.74" width="1.55" height="9.23" fill="#fadacc" stroke="none" stroke-width="0.5" />
<rect x="190.20" y="617.92" width="1.55" height="9.23" fill="#d0c9ee" stroke="none" stroke-width="0.5" />
<rect x="190.20" y="627.10" width="1.55" height="9.23" fill="#bcb4e6" stroke="none" stroke-width="0.5" />
<rect x="191.70" y="581.20" width="2.05" height="9.23" fill="#c7c0eb" stroke="none" stroke-width="0.5" />
<rect x="191.70" y="590.38" width="2.05" height="9.23" fill="#b4abe3" stroke="none" stroke-width="0.5" />
<rect x="191.70" y="599.56" width="2.05" height="9.23" fill="#e83f25" stroke="none" stroke-width="0.5" />
<rect x="191.70" y="608.74" width="2.05" height="9.23" fill="#f2eff9" stroke="none" stroke-width="0.5" />
<rect x="191.70" y="617.92" width="2.05" height="9.23" fill="#d4cef0" stroke="none" stroke-width="0.5" />
<rect x="191.70" y="627.10" width="2.05" height="9.23" fill="#a298da" stroke="none" stroke-width="0.5" />
<rect x="193.70" y="581.20" width="1.55" height="9.23" fill="#f1edf8" stroke="none" stroke-width="0.5" />
<rect x="193.70" y="590.38" width="1.55" height="9.23" fill="#bfb7e7" stroke="none" stroke-width="0.5" />
<rect x="193.70" y="599.56" width="1.55" height="9.23" fill="#e42812" stroke="none" stroke-width="0.5" />
<rect x="193.70" y="608.74" width="1.55" height="9.23" fill="#f0edf8" stroke="none" stroke-width="0.5" />
<rect x="193.70" y="617.92" width="1.55" height="9.23" fill="#c8c1eb" stroke="none" stroke-width="0.5" />
<rect x="193.70" y="627.10" width="1.55" height="9.23" fill="#a49adc" stroke="none" stroke-width="0.5" />
<rect x="195.20" y="581.20" width="3.05" height="9.23" fill="#f3f0f9" stroke="none" stroke-width="0.5" />
<rect x="195.20" y="590.38" width="3.05" height="9.23" fill="#cdc6ed" stroke="none" stroke-width="0.5" />
<rect x="195.20" y="599.56" width="3.05" height="9.23" fill="#e42812" stroke="none" stroke-width="0.5" />
<rect x="195.20" y="608.74" width="3.05" height="9.23" fill="#fadccf" stroke="none" stroke-width="0.5" />
<rect x="195.20" y="617.92" width="3.05" height="9.23" fill="#b9b0e5" stroke="none" stroke-width="0.5" />
<rect x="195.20" y="627.10" width="3.05" height="9.23" fill="#d0c9ee" stroke="none" stroke-width="0.5" />
<rect x="198.20" y="581.20" width="2.05" height="9.23" fill="#ded9f3" stroke="none" stroke-width="0.5" />
<rect x="198.20" y="590.38" width="2.05" height="9.23" fill="#d7d1f1" stroke="none" stroke-width="0.5" />
<rect x="198.20" y="599.56" width="2.05" height="9.23" fill="#e42812" stroke="none" stroke-width="0.5" />
<rect x="198.20" y="608.74" width="2.05" height="9.23" fill="#e2ddf4" stroke="none" stroke-width="0.5" />
<rect x="198.20" y="617.92" width="2.05" height="9.23" fill="#d2ccef" stroke="none" stroke-width="0.5" />
<rect x="198.20" y="627.10" width="2.05" height="9.23" fill="#b3aae2" stroke="none" stroke-width="0.5" />
<rect x="200.20" y="581.20" width="3.05" height="9.23" fill="#eae6f6" stroke="none" stroke-width="0.5" />
<rect x="200.20" y="590.38" width="3.05" height="9.23" fill="#c4bdea" stroke="none" stroke-width="0.5" />
<rect x="200.20" y="599.56" width="3.05" height="9.23" fill="#e42812" stroke="none" stroke-width="0.5" />
<rect x="200.20" y="608.74" width="3.05" height="9.23" fill="#e7e3f6" stroke="none" stroke-width="0.5" />
<rect x="200.20" y="617.92" width="3.05" height="9.23" fill="#d7d1f1" stroke="none" stroke-width="0.5" />
<rect x="200.20" y="627.10" width="3.05" height="9.23" fill="#b9b1e5" stroke="none" stroke-width="0.5" />
<rect x="203.20" y="581.20" width="1.55" height="9.23" fill="#f1edf8" stroke="none" stroke-width="0.5" />
<rect x="203.20" y="590.38" width="1.55" height="9.23" fill="#afa5e1" stroke="none" stroke-width="0.5" />
<rect x="203.20" y="599.56" width="1.55" height="9.23" fill="#e42812" stroke="none" stroke-width="0.5" />
<rect x="203.20" y="608.74" width="1.55" height="9.23" fill="#e9e5f6" stroke="none" stroke-width="0.5" />
<rect x="203.20" y="617.92" width="1.55" height="9.23" fill="#cdc7ed" stroke="none" stroke-width="0.5" />
<rect x="203.20" y="627.10" width="1.55" height="9.23" fill="#9d92d7" stroke="none" stroke-width="0.5" />
<rect x="204.70" y="581.20" width="3.05" height="9.23" fill="#fae8e1" stroke="none" stroke-width="0.5" />
<rect x="204.70" y="590.38" width="3.05" height="9.23" fill="#aaa0df" stroke="none" stroke-width="0.5" />
<rect x="204.70" y="599.56" width="3.05" height="9.23" fill="#e42a14" stroke="none" stroke-width="0.5" />
<rect x="204.70" y="608.74" width="3.05" height="9.23" fill="#e8e4f6" stroke="none" stroke-width="0.5" />
<rect x="204.70" y="617.92" width="3.05" height="9.23" fill="#e0dbf4" stroke="none" stroke-width="0.5" />
<rect x="204.70" y="627.10" width="3.05" height="9.23" fill="#b8b0e5" stroke="none" stroke-width="0.5" />
<rect x="207.70" y="581.20" width="4.25" height="9.23" fill="#ddd8f3" stroke="none" stroke-width="0.5" />
<rect x="207.70" y="590.38" width="4.25" height="9.23" fill="#a59adc" stroke="none" stroke-width="0.5" />
<rect x="207.70" y="599.56" width="4.25" height="9.23" fill="#e42812" stroke="none" stroke-width="0.5" />
<rect x="207.70" y="608.74" width="4.25" height="9.23" fill="#faeee9" stroke="none" stroke-width="0.5" />
<rect x="207.70" y="617.92" width="4.25" height="9.23" fill="#bbb3e6" stroke="none" stroke-width="0.5" />
<rect x="207.70" y="627.10" width="4.25" height="9.23" fill="#a89ede" stroke="none" stroke-width="0.5" />
<path d="M195.13,574.32L195.13,571.40M204.51,572.89L204.51,571.40M195.13,571.40L204.51,571.40M192.48,576.10L192.48,574.32M197.77,575.84L197.77,574.32M192.48,574.32L197.77,574.32M191.34,577.58L191.34,576.10M193.63,577.25L193.63,576.10M191.34,576.10L193.63,576.10M190.77,578.60L190.77,577.58M191.91,578.60L191.91,577.58M190.77,577.58L191.91,577.58M193.06,578.60L193.06,577.25M194.20,578.60L194.20,577.25M193.06,577.25L194.20,577.25M196.20,576.83L196.20,575.84M199.34,577.87L199.34,575.84M196.20,575.84L199.34,575.84M195.34,578.60L195.34,576.83M197.05,577.47L197.05,576.83M195.34,576.83L197.05,576.83M196.48,578.60L196.48,577.47M197.62,578.60L197.62,577.47M196.48,577.47L197.62,577.47M198.77,578.60L198.77,577.87M199.91,578.60L199.91,577.87M198.77,577.87L199.91,577.87M201.91,576.48L201.91,572.89M207.12,573.49L207.12,572.89M201.91,572.89L207.12,572.89M201.05,578.60L201.05,576.48M202.76,577.27L202.76,576.48M201.05,576.48L202.76,576.48M202.19,578.60L202.19,577.27M203.33,578.60L203.33,577.27M202.19,577.27L203.33,577.27M205.05,577.99L205.05,573.49M209.19,575.01L209.19,573.49M205.05,573.49L209.19,573.49M204.48,578.60L204.48,577.99M205.62,578.60L205.62,577.99M204.48,577.99L205.62,577.99M207.62,576.00L207.62,575.01M210.76,577.10L210.76,575.01M207.62,575.01L210.76,575.01M206.76,578.60L206.76,576.00M208.47,577.42L208.47,576.00M206.76,576.00L208.47,576.00M207.90,578.60L207.90,577.42M209.04,578.60L209.04,577.42M207.90,577.42L209.04,577.42M210.19,578.60L210.19,577.10M211.33,578.60L211.33,577.10M210.19,577.10L211.33,577.10" stroke="#333" stroke-width="0.5" fill="none"/>
<rect x="190.20" y="578.20" width="21.70" height="2.80" fill="#111" stroke="none" stroke-width="0.5" />
<text x="201.50" y="562.49" font-size="7.2" fill="#222" text-anchor="middle" >5</text>
<rect x="213.20" y="581.20" width="2.05" height="9.23" fill="#d9d4f2" stroke="none" stroke-width="0.5" />
<rect x="213.20" y="590.38" width="2.05" height="9.23" fill="#ccc5ed" stroke="none" stroke-width="0.5" />
<rect x="213.20" y="599.56" width="2.05" height="9.23" fill="#c4bdea" stroke="none" stroke-width="0.5" />
<rect x="213.20" y="608.74" width="2.05" height="9.23" fill="#f27453" stroke="none" stroke-width="0.5" />
<rect x="213.20" y="617.92" width="2.05" height="9.23" fill="#d5cff0" stroke="none" stroke-width="0.5" />
<rect x="213.20" y="627.10" width="2.05" height="9.23" fill="#a499db" stroke="none" stroke-width="0.5" />
<rect x="215.20" y="581.20" width="3.55" height="9.23" fill="#b4abe3" stroke="none" stroke-width="0.5" />
<rect x="215.20" y="590.38" width="3.55" height="9.23" fill="#b6ade4" stroke="none" stroke-width="0.5" />
<rect x="215.20" y="599.56" width="3.55" height="9.23" fill="#b3aae2" stroke="none" stroke-width="0.5" />
<rect x="215.20" y="608.74" width="3.55" height="9.23" fill="#e73a21" stroke="none" stroke-width="0.5" />
<rect x="215.20" y="617.92" width="3.55" height="9.23" fill="#c2bae8" stroke="none" stroke-width="0.5" />
<rect x="215.20" y="627.10" width="3.55" height="9.23" fill="#e5e1f5" stroke="none" stroke-width="0.5" />
<rect x="218.70" y="581.20" width="3.55" height="9.23" fill="#8577c8" stroke="none" stroke-width="0.5" />
<rect x="218.70" y="590.38" width="3.55" height="9.23" fill="#d5cff0" stroke="none" stroke-width="0.5" />
<rect x="218.70" y="599.56" width="3.55" height="9.23" fill="#fad7c9" stroke="none" stroke-width="0.5" />
<rect x="218.70" y="608.74" width="3.55" height="9.23" fill="#eb4c31" stroke="none" stroke-width="0.5" />
<rect x="218.70" y="617.92" width="3.55" height="9.23" fill="#beb6e7" stroke="none" stroke-width="0.5" />
<rect x="218.70" y="627.10" width="3.55" height="9.23" fill="#9b8fd6" stroke="none" stroke-width="0.5" />
<rect x="222.20" y="581.20" width="2.05" height="9.23" fill="#d4cef0" stroke="none" stroke-width="0.5" />
<rect x="222.20" y="590.38" width="2.05" height="9.23" fill="#b0a7e1" stroke="none" stroke-width="0.5" />
<rect x="222.20" y="599.56" width="2.05" height="9.23" fill="#fad6c7" stroke="none" stroke-width="0.5" />
<rect x="222.20" y="608.74" width="2.05" height="9.23" fill="#e42a14" stroke="none" stroke-width="0.5" />
<rect x="222.20" y="617.92" width="2.05" height="9.23" fill="#b5ace3" stroke="none" stroke-width="0.5" />
<rect x="222.20" y="627.10" width="2.05" height="9.23" fill="#9c91d6" stroke="none" stroke-width="0.5" />
<rect x="224.20" y="581.20" width="2.55" height="9.23" fill="#beb6e7" stroke="none" stroke-width="0.5" />
<rect x="224.20" y="590.38" width="2.55" height="9.23" fill="#c7c0eb" stroke="none" stroke-width="0.5" />
<rect x="224.20" y="599.56" width="2.55" height="9.23" fill="#fad8ca" stroke="none" stroke-width="0.5" />
<rect x="224.20" y="608.74" width="2.55" height="9.23" fill="#e42812" stroke="none" stroke-width="0.5" />
<rect x="224.20" y="617.92" width="2.55" height="9.23" fill="#c0b8e8" stroke="none" stroke-width="0.5" />
<rect x="224.20" y="627.10" width="2.55" height="9.23" fill="#afa6e1" stroke="none" stroke-width="0.5" />
<rect x="226.70" y="581.20" width="2.05" height="9.23" fill="#cfc9ee" stroke="none" stroke-width="0.5" />
<rect x="226.70" y="590.38" width="2.05" height="9.23" fill="#c7c0eb" stroke="none" stroke-width="0.5" />
<rect x="226.70" y="599.56" width="2.05" height="9.23" fill="#fac2ad" stroke="none" stroke-width="0.5" />
<rect x="226.70" y="608.74" width="2.05" height="9.23" fill="#e42812" stroke="none" stroke-width="0.5" />
<rect x="226.70" y="617.92" width="2.05" height="9.23" fill="#a59adc" stroke="none" stroke-width="0.5" />
<rect x="226.70" y="627.10" width="2.05" height="9.23" fill="#aba2df" stroke="none" stroke-width="0.5" />
<rect x="228.70" y="581.20" width="3.55" height="9.23" fill="#bbb3e6" stroke="none" stroke-width="0.5" />
<rect x="228.70" y="590.38" width="3.55" height="9.23" fill="#aaa1df" stroke="none" stroke-width="0.5" />
<rect x="228.70" y="599.56" width="3.55" height="9.23" fill="#fae3d9" stroke="none" stroke-width="0.5" />
<rect x="228.70" y="608.74" width="3.55" height="9.23" fill="#e42812" stroke="none" stroke-width="0.5" />
<rect x="228.70" y="617.92" width="3.55" height="9.23" fill="#cbc5ec" stroke="none" stroke-width="0.5" />
<rect x="228.70" y="627.10" width="3.55" height="9.23" fill="#aea4e0" stroke="none" stroke-width="0.5" />
<rect x="232.20" y="581.20" width="2.55" height="9.23" fill="#ded9f3" stroke="none" stroke-width="0.5" />
<rect x="232.20" y="590.38" width="2.55" height="9.23" fill="#d2ccef" stroke="none" stroke-width="0.5" />
<rect x="232.20" y="599.56" width="2.55" height="9.23" fill="#fad8ca" stroke="none" stroke-width="0.5" />
<rect x="232.20" y="608.74" width="2.55" height="9.23" fill="#e42812" stroke="none" stroke-width="0.5" />
<rect x="232.20" y="617.92" width="2.55" height="9.23" fill="#c7c0eb" stroke="none" stroke-width="0.5" />
<rect x="232.20" y="627.10" width="2.55" height="9.23" fill="#c4bce9" stroke="none" stroke-width="0.5" />
<rect x="234.70" y="581.20" width="3.55" height="9.23" fill="#b4abe3" stroke="none" stroke-width="0.5" />
<rect x="234.70" y="590.38" width="3.55" height="9.23" fill="#b7aee4" stroke="none" stroke-width="0.5" />
<rect x="234.70" y="599.56" width="3.55" height="9.23" fill="#fac5b0" stroke="none" stroke-width="0.5" />
<rect x="234.70" y="608.74" width="3.55" height="9.23" fill="#e42812" stroke="none" stroke-width="0.5" />
<rect x="234.70" y="617.92" width="3.55" height="9.23" fill="#aca3e0" stroke="none" stroke-width="0.5" />
<rect x="234.70" y="627.10" width="3.55" height="9.23" fill="#9b8fd6" stroke="none" stroke-width="0.5" />
<rect x="238.20" y="581.20" width="1.55" height="9.23" fill="#d2ccef" stroke="none" stroke-width="0.5" />
<rect x="238.20" y="590.38" width="1.55" height="9.23" fill="#c6bfea" stroke="none" stroke-width="0.5" />
<rect x="238.20" y="599.56" width="1.55" height="9.23" fill="#f8ad93" stroke="none" stroke-width="0.5" />
<rect x="238.20" y="608.74" width="1.55" height="9.23" fill="#f27352" stroke="none" stroke-width="0.5" />
<rect x="238.20" y="617.92" width="1.55" height="9.23" fill="#afa5e1" stroke="none" stroke-width="0.5" />
<rect x="238.20" y="627.10" width="1.55" height="9.23" fill="#d7d2f1" stroke="none" stroke-width="0.5" />
<rect x="239.70" y="581.20" width="3.05" height="9.23" fill="#cac3ec" stroke="none" stroke-width="0.5" />
<rect x="239.70" y="590.38" width="3.05" height="9.23" fill="#b8afe4" stroke="none" stroke-width="0.5" />
<rect x="239.70" y="599.56" width="3.05" height="9.23" fill="#fadacd" stroke="none" stroke-width="0.5" />
<rect x="239.70" y="608.74" width="3.05" height="9.23" fill="#f06849" stroke="none" stroke-width="0.5" />
<rect x="239.70" y="617.92" width="3.05" height="9.23" fill="#b5ade3" stroke="none" stroke-width="0.5" />
<rect x="239.70" y="627.10" width="3.05" height="9.23" fill="#b8afe5" stroke="none" stroke-width="0.5" />
<rect x="242.70" y="581.20" width="2.05" height="9.23" fill="#bab1e5" stroke="none" stroke-width="0.5" />
<rect x="242.70" y="590.38" width="2.05" height="9.23" fill="#faded2" stroke="none" stroke-width="0.5" />
<rect x="242.70" y="599.56" width="2.05" height="9.23" fill="#f69171" stroke="none" stroke-width="0.5" />
<rect x="242.70" y="608.74" width="2.05" height="9.23" fill="#f06a4a" stroke="none" stroke-width="0.5" />
<rect x="242.70" y="617.92" width="2.05" height="9.23" fill="#897bca" stroke="none" stroke-width="0.5" />
<rect x="242.70" y="627.10" width="2.05" height="9.23" fill="#4e3aa5" stroke="none" stroke-width="0.5" />
<rect x="244.70" y="581.20" width="3.05" height="9.23" fill="#bbb3e6" stroke="none" stroke-width="0.5" />
<rect x="244.70" y="590.38" width="3.05" height="9.23" fill="#f2eef9" stroke="none" stroke-width="0.5" />
<rect x="244.70" y="599.56" width="3.05" height="9.23" fill="#f27352" stroke="none" stroke-width="0.5" />
<rect x="244.70" y="608.74" width="3.05" height="9.23" fill="#f8af96" stroke="none" stroke-width="0.5" />
<rect x="244.70" y="617.92" width="3.05" height="9.23" fill="#bcb4e6" stroke="none" stroke-width="0.5" />
<rect x="244.70" y="627.10" width="3.05" height="9.23" fill="#9d92d7" stroke="none" stroke-width="0.5" />
<rect x="247.70" y="581.20" width="1.55" height="9.23" fill="#a69cdd" stroke="none" stroke-width="0.5" />
<rect x="247.70" y="590.38" width="1.55" height="9.23" fill="#ddd8f3" stroke="none" stroke-width="0.5" />
<rect x="247.70" y="599.56" width="1.55" height="9.23" fill="#f37958" stroke="none" stroke-width="0.5" />
<rect x="247.70" y="608.74" width="1.55" height="9.23" fill="#f06a4a" stroke="none" stroke-width="0.5" />
<rect x="247.70" y="617.92" width="1.55" height="9.23" fill="#d7d1f1" stroke="none" stroke-width="0.5" />
<rect x="247.70" y="627.10" width="1.55" height="9.23" fill="#d9d3f1" stroke="none" stroke-width="0.5" />
<rect x="249.20" y="581.20" width="1.55" height="9.23" fill="#bfb7e7" stroke="none" stroke-width="0.5" />
<rect x="249.20" y="590.38" width="1.55" height="9.23" fill="#ece8f7" stroke="none" stroke-width="0.5" />
<rect x="249.20" y="599.56" width="1.55" height="9.23" fill="#f58563" stroke="none" stroke-width="0.5" />
<rect x="249.20" y="608.74" width="1.55" height="9.23" fill="#f5815e" stroke="none" stroke-width="0.5" />
<rect x="249.20" y="617.92" width="1.55" height="9.23" fill="#eeeaf8" stroke="none" stroke-width="0.5" />
<rect x="249.20" y="627.10" width="1.55" height="9.23" fill="#b1a7e2" stroke="none" stroke-width="0.5" />
<rect x="250.70" y="581.20" width="2.05" height="9.23" fill="#b5ace3" stroke="none" stroke-width="0.5" />
<rect x="250.70" y="590.38" width="2.05" height="9.23" fill="#b1a8e2" stroke="none" stroke-width="0.5" />
<rect x="250.70" y="599.56" width="2.05" height="9.23" fill="#e83d24" stroke="none" stroke-width="0.5" />
<rect x="250.70" y="608.74" width="2.05" height="9.23" fill="#f69374" stroke="none" stroke-width="0.5" />
<rect x="250.70" y="617.92" width="2.05" height="9.23" fill="#dfdaf3" stroke="none" stroke-width="0.5" />
<rect x="250.70" y="627.10" width="2.05" height="9.23" fill="#c5bdea" stroke="none" stroke-width="0.5" />
<rect x="252.70" y="581.20" width="2.55" height="9.23" fill="#ded9f3" stroke="none" stroke-width="0.5" />
<rect x="252.70" y="590.38" width="2.55" height="9.23" fill="#c9c2eb" stroke="none" stroke-width="0.5" />
<rect x="252.70" y="599.56" width="2.55" height="9.23" fill="#ec5135" stroke="none" stroke-width="0.5" />
<rect x="252.70" y="608.74" width="2.55" height="9.23" fill="#f5825f" stroke="none" stroke-width="0.5" />
<rect x="252.70" y="617.92" width="2.55" height="9.23" fill="#cbc4ec" stroke="none" stroke-width="0.5" />
<rect x="252.70" y="627.10" width="2.55" height="9.23" fill="#c7c0eb" stroke="none" stroke-width="0.5" />
<path d="M221.01,573.71L221.01,569.20M240.11,570.31L240.11,569.20M221.01,569.20L240.11,569.20M217.62,574.87L217.62,573.71M224.39,574.84L224.39,573.71M217.62,573.71L224.39,573.71M215.41,576.73L215.41,574.87M219.83,576.59L219.83,574.87M215.41,574.87L219.83,574.87M214.31,577.85L214.31,576.73M216.52,577.83L216.52,576.73M214.31,576.73L216.52,576.73M213.75,578.60L213.75,577.85M214.86,578.60L214.86,577.85M213.75,577.85L214.86,577.85M215.96,578.60L215.96,577.83M217.07,578.60L217.07,577.83M215.96,577.83L217.07,577.83M218.73,577.88L218.73,576.59M220.94,577.48L220.94,576.59M218.73,576.59L220.94,576.59M218.17,578.60L218.17,577.88M219.28,578.60L219.28,577.88M218.17,577.88L219.28,577.88M220.38,578.60L220.38,577.48M221.49,578.60L221.49,577.48M220.38,577.48L221.49,577.48M223.15,577.17L223.15,574.84M225.63,576.09L225.63,574.84M223.15,574.84L225.63,574.84M222.59,578.60L222.59,577.17M223.70,578.60L223.70,577.17M222.59,577.17L223.70,577.17M224.81,578.60L224.81,576.09M226.46,577.79L226.46,576.09M224.81,576.09L226.46,576.09M225.91,578.60L225.91,577.79M227.02,578.60L227.02,577.79M225.91,577.79L227.02,577.79M232.89,574.54L232.89,570.31M247.34,571.19L247.34,570.31M232.89,570.31L247.34,570.31M230.47,575.80L230.47,574.54M235.31,576.39L235.31,574.54M230.47,574.54L235.31,574.54M228.95,576.54L228.95,575.80M231.99,577.81L231.99,575.80M228.95,575.80L231.99,575.80M228.12,578.60L228.12,576.54M229.78,577.68L229.78,576.54M228.12,576.54L229.78,576.54M229.23,578.60L229.23,577.68M230.33,578.60L230.33,577.68M229.23,577.68L230.33,577.68M231.44,578.60L231.44,577.81M232.54,578.60L232.54,577.81M231.44,577.81L232.54,577.81M234.20,577.80L234.20,576.39M236.41,577.07L236.41,576.39M234.20,576.39L236.41,576.39M233.65,578.60L233.65,577.80M234.75,578.60L234.75,577.80M233.65,577.80L234.75,577.80M235.86,578.60L235.86,577.07M236.96,578.60L236.96,577.07M235.86,577.07L236.96,577.07M243.08,572.48L243.08,571.19M251.61,574.24L251.61,571.19M243.08,571.19L251.61,571.19M239.80,573.31L239.80,572.48M246.36,576.36L246.36,572.48M239.80,572.48L246.36,572.48M238.07,578.60L238.07,573.31M241.52,575.00L241.52,573.31M238.07,573.31L241.52,573.31M240.00,576.21L240.00,575.00M243.04,577.94L243.04,575.00M240.00,575.00L243.04,575.00M239.17,578.60L239.17,576.21M240.83,577.74L240.83,576.21M239.17,576.21L240.83,576.21M240.28,578.60L240.28,577.74M241.38,578.60L241.38,577.74M240.28,577.74L241.38,577.74M242.49,578.60L242.49,577.94M243.59,578.60L243.59,577.94M242.49,577.94L243.59,577.94M245.25,577.04L245.25,576.36M247.46,577.44L247.46,576.36M245.25,576.36L247.46,576.36M244.70,578.60L244.70,577.04M245.81,578.60L245.81,577.04M244.70,577.04L245.81,577.04M246.91,578.60L246.91,577.44M248.02,578.60L248.02,577.44M246.91,577.44L248.02,577.44M249.95,575.82L249.95,574.24M253.27,575.56L253.27,574.24M249.95,574.24L253.27,574.24M249.12,578.60L249.12,575.82M250.78,577.41L250.78,575.82M249.12,575.82L250.78,575.82M250.23,578.60L250.23,577.41M251.33,578.60L251.33,577.41M250.23,577.41L251.33,577.41M252.44,578.60L252.44,575.56M254.09,576.93L254.09,575.56M252.44,575.56L254.09,575.56M253.54,578.60L253.54,576.93M254.65,578.60L254.65,576.93M253.54,576.93L254.65,576.93" stroke="#333" stroke-width="0.5" fill="none"/>
<rect x="213.20" y="578.20" width="42.00" height="2.80" fill="#111" stroke="none" stroke-width="0.5" />
<text x="234.40" y="562.49" font-size="7.2" fill="#222" text-anchor="middle" >6</text>
<text x="259.80" y="589.44" font-size="7.6" fill="#222" >JAK2V617F Treated</text>
<text x="259.80" y="598.34" font-size="7.6" fill="#222" >JAK2V617F Untreated</text>
<text x="259.80" y="607.54" font-size="7.6" fill="#222" >JAK2WT Treated</text>
<text x="259.80" y="616.94" font-size="7.6" fill="#222" >JAK2WT Untreated</text>
<text x="259.80" y="626.34" font-size="7.6" fill="#222" >HC Treated</text>
<text x="259.80" y="635.24" font-size="7.6" fill="#222" >HC Untreated</text>
<rect x="19.80" y="639.00" width="298.80" height="39.50" fill="none" stroke="#555" stroke-width="1.0" />
<text x="25.40" y="651.35" font-size="9.3" fill="#222" >Cluster 1: viral processes</text>
<text x="162.20" y="651.35" font-size="9.3" fill="#222" >Cluster 2: ribosomal</text>
<text x="25.40" y="662.55" font-size="9.3" fill="#222" >Cluster 3: metabolism</text>
<text x="162.20" y="662.55" font-size="9.3" fill="#222" >Cluster 4: MHC</text>
<text x="25.40" y="673.75" font-size="9.3" fill="#222" >Cluster 5: golgi/endosome</text>
<text x="162.20" y="673.75" font-size="9.3" fill="#222" >Cluster 6: mitochondrial</text>
<rect x="0.5" y="0.5" width="519" height="685" fill="none" stroke="#222" stroke-width="1.2"/>
</svg>
</body></html>
